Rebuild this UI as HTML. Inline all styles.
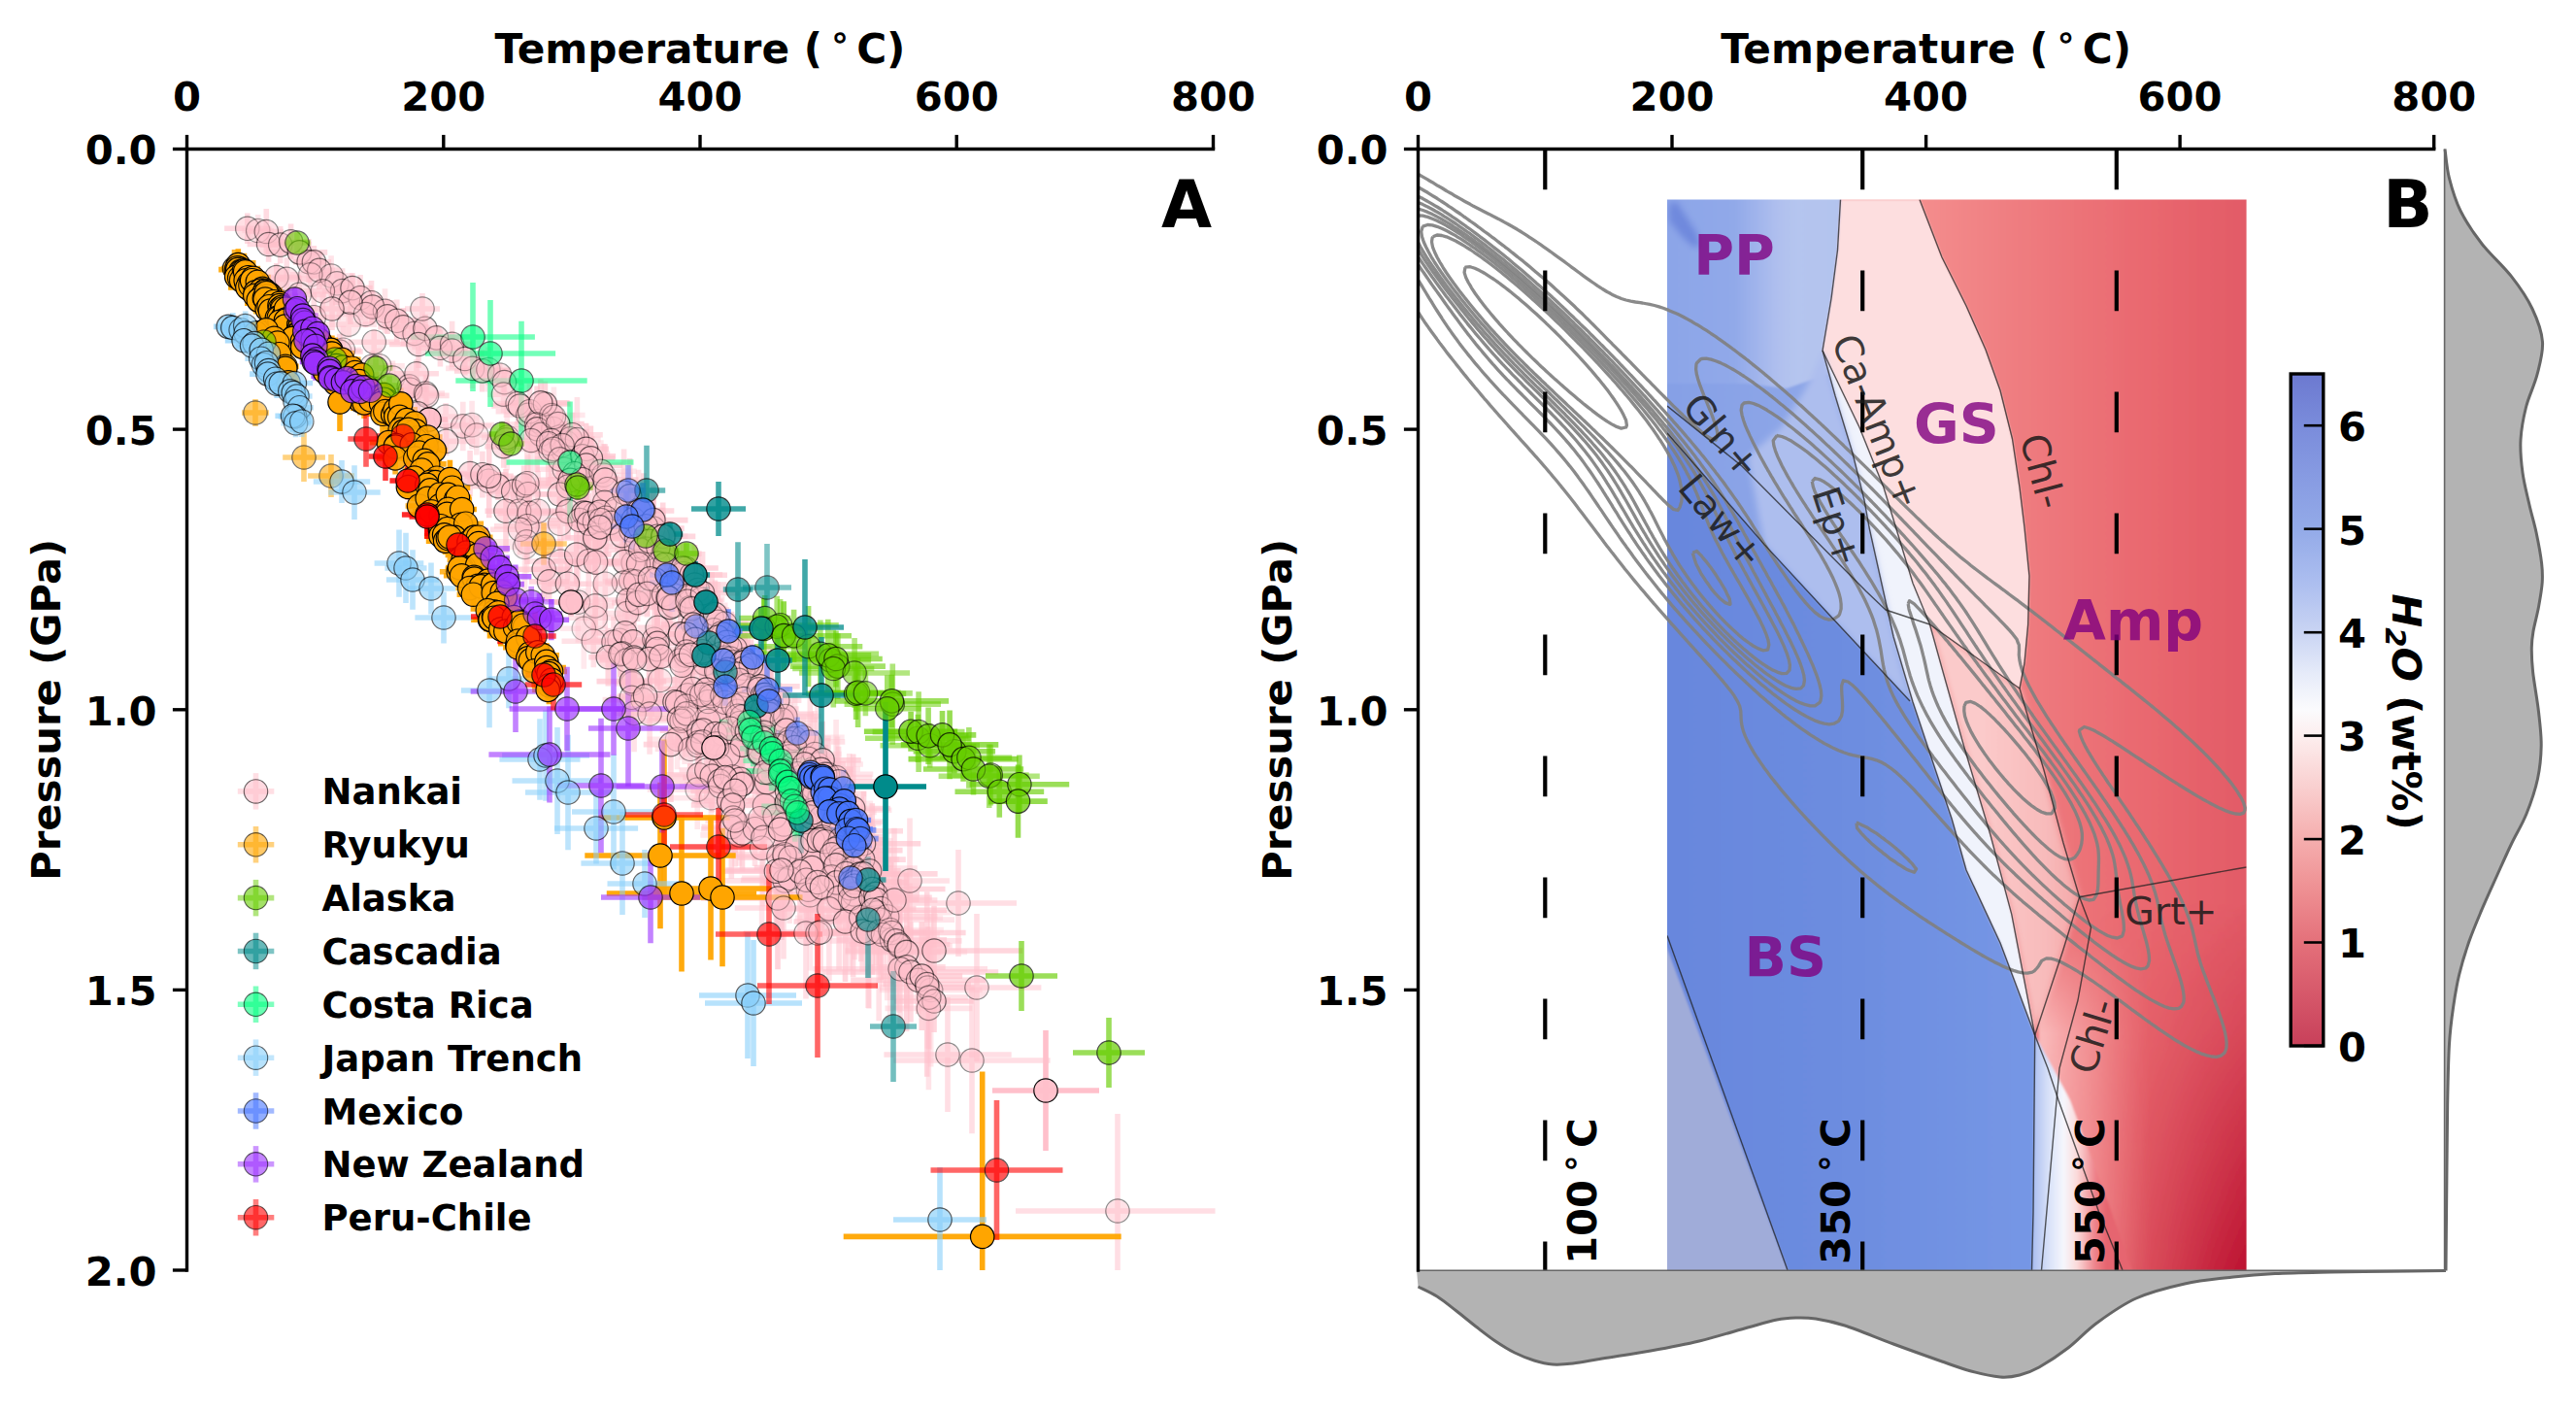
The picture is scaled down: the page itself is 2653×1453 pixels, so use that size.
<!DOCTYPE html>
<html><head><meta charset="utf-8"><title>PT paths</title>
<style>html,body{margin:0;padding:0;background:#fff}svg{display:block}</style></head>
<body>
<svg width="2653" height="1453" viewBox="0 0 2653 1453">
<rect width="2653" height="1453" fill="#fff"/>
<defs><clipPath id="clipA"><rect x="192.5" y="153.5" width="1059" height="1154.5"/></clipPath></defs>
<g clip-path="url(#clipA)">
<g stroke="#ffc0cb" stroke-width="5.6" fill="none">
<path opacity="0.58" d="M231.1 235.3h47.3M254.8 219.4v31.7"/>
<path opacity="0.41" d="M249.3 237.5h32.7M265.7 221v32.9"/>
<path opacity="0.55" d="M256.6 238.5h35.4M274.3 214.9v47.2"/>
<path opacity="0.60" d="M254.6 251.5h44M276.6 233.2v36.6"/>
<path opacity="0.56" d="M267.9 252.1h41.6M288.7 233.1v38.2"/>
<path opacity="0.58" d="M278.6 248.9h42M299.6 230.6v36.5"/>
<path opacity="0.62" d="M279.7 259.9h57.5M308.4 246.1v27.6"/>
<path opacity="0.59" d="M302 269.8h32.1M318.1 248.8v42.1"/>
<path opacity="0.59" d="M305.4 269.9h35.8M323.4 252.9v34.1"/>
<path opacity="0.58" d="M312.6 278.4h32.4M328.8 258.9v39.1"/>
<path opacity="0.45" d="M317.9 284h46.4M341.1 263.2v41.4"/>
<path opacity="0.44" d="M328.2 291.8h37.6M347 275.5v32.7"/>
<path opacity="0.53" d="M331.8 299.6h41.7M352.6 276.2v46.8"/>
<path opacity="0.62" d="M342.2 296.6h41.5M363 281.3v30.5"/>
<path opacity="0.52" d="M348.9 306.7h44.4M371.1 282.9v47.5"/>
<path opacity="0.57" d="M359.2 311.7h46.6M382.5 289v45.5"/>
<path opacity="0.60" d="M359.6 316h48.3M383.7 298.8v34.2"/>
<path opacity="0.42" d="M374.7 320.3h43.5M396.5 297.2v46.1"/>
<path opacity="0.62" d="M377 325.8h44M399 307.5v36.5"/>
<path opacity="0.56" d="M389.2 330.3h39M408.7 308.6v43.3"/>
<path opacity="0.63" d="M389.3 336.8h52.1M415.3 317.2v39.1"/>
<path opacity="0.45" d="M406.4 343.4h41.3M427.1 326.6v33.6"/>
<path opacity="0.61" d="M421.2 338.4h33.4M437.9 323.8v29.1"/>
<path opacity="0.54" d="M421.7 347.9h55.5M449.5 334.6v26.7"/>
<path opacity="0.55" d="M430.7 358.3h45.4M453.4 339.2v38.3"/>
<path opacity="0.51" d="M445.3 354.4h40.6M465.6 330.8v47.1"/>
<path opacity="0.44" d="M440.6 361.1h49.6M465.4 341.5v39.2"/>
<path opacity="0.58" d="M461.9 369.5h33.7M478.8 352.5v33.9"/>
<path opacity="0.43" d="M459.1 379.4h54.8M486.5 358.6v41.5"/>
<path opacity="0.60" d="M467.9 381.9h57.6M496.7 360.3v43.2"/>
<path opacity="0.41" d="M479.6 380.5h46.7M502.9 357.5v46"/>
<path opacity="0.46" d="M498.1 386.1h32.8M514.6 373.9v24.5"/>
<path opacity="0.53" d="M500 393.6h39M519.4 379.4v28.5"/>
<path opacity="0.44" d="M502 406.1h33.1M518.5 387v38.2"/>
<path opacity="0.47" d="M507.6 415.5h51M533.1 403.2v24.5"/>
<path opacity="0.59" d="M506.3 418h58.3M535.5 399.6v36.9"/>
<path opacity="0.45" d="M518.6 427.3h50.4M543.8 407.9v38.7"/>
<path opacity="0.59" d="M530.7 433.6h48.1M554.8 421.1v25"/>
<path opacity="0.41" d="M529.6 436.9h58.9M559 414.7v44.5"/>
<path opacity="0.43" d="M549.1 441.6h41.5M569.9 425.8v31.6"/>
<path opacity="0.47" d="M551.4 449.9h49.5M576.2 428.3v43.1"/>
<path opacity="0.43" d="M555.7 456.1h56.2M583.7 434.6v43.1"/>
<path opacity="0.45" d="M553.5 464.2h53.5M580.2 441.6v45.2"/>
<path opacity="0.54" d="M563.5 475.9h48.1M587.5 456.2v39.3"/>
<path opacity="0.55" d="M578.3 487.3h34.7M595.7 467.3v39.9"/>
<path opacity="0.48" d="M566.1 489.4h55.1M593.6 467.8v43.3"/>
<path opacity="0.58" d="M259.8 285.5h50M284.8 270.9v29.2"/>
<path opacity="0.50" d="M268.7 287.4h53.2M295.3 265.3v44.2"/>
<path opacity="0.41" d="M298.5 282.8h42.6M319.8 264.9v35.8"/>
<path opacity="0.49" d="M280.4 303.4h55.6M308.3 283.8v39.2"/>
<path opacity="0.49" d="M308.8 299.8h47.3M332.4 277.7v44.2"/>
<path opacity="0.49" d="M295.7 326.7h55.3M323.3 301.8v49.7"/>
<path opacity="0.63" d="M343.1 311.4h35.9M361 288.7v45.3"/>
<path opacity="0.59" d="M323.9 318h36.1M342 296v44"/>
<path opacity="0.42" d="M330.2 334.1h57.8M359.1 320.4v27.5"/>
<path opacity="0.44" d="M346.6 323.5h59.7M376.5 309.9v27.3"/>
<path opacity="0.58" d="M325.6 362h48.1M349.7 343.7v36.5"/>
<path opacity="0.45" d="M334.7 360.2h37.3M353.4 335.4v49.6"/>
<path opacity="0.51" d="M358.5 352.2h53.5M385.2 339.3v25.9"/>
<path opacity="0.47" d="M366.6 377.3h32.9M383.1 360.9v32.8"/>
<path opacity="0.42" d="M364.6 376.9h52.2M390.7 358.5v36.7"/>
<path opacity="0.61" d="M401.1 354.5h59.9M431 330v48.9"/>
<path opacity="0.45" d="M385 389.1h38.9M404.5 371.5v35"/>
<path opacity="0.52" d="M403.6 397.9h35.5M421.3 385.5v24.9"/>
<path opacity="0.60" d="M404.8 401.2h35.4M422.5 386.8v28.9"/>
<path opacity="0.56" d="M406.3 384.8h45.6M429 370.2v29.1"/>
<path opacity="0.47" d="M418.7 405.1h39.4M438.4 385.7v38.8"/>
<path opacity="0.53" d="M416.2 407.4h46.5M439.5 386.6v41.6"/>
<path opacity="0.60" d="M408.7 425.8h43.1M430.2 402.7v46.1"/>
<path opacity="0.43" d="M440.6 429h37M459.1 415.1v27.8"/>
<path opacity="0.46" d="M447.1 438.9h59.4M476.8 413.8v50.4"/>
<path opacity="0.52" d="M430.1 454.4h59.2M459.6 439.5v29.8"/>
<path opacity="0.41" d="M463.2 437.6h45.9M486.1 412.8v49.6"/>
<path opacity="0.42" d="M470.4 448h40.8M490.8 427.6v40.8"/>
<path opacity="0.61" d="M502 452.9h38.6M521.3 434.4v37"/>
<path opacity="0.58" d="M457.5 487.6h53.3M484.1 464v47.2"/>
<path opacity="0.56" d="M471 488.7h51.8M496.9 464.8v47.8"/>
<path opacity="0.44" d="M477.1 495.2h52.6M503.4 478.9v32.4"/>
<path opacity="0.61" d="M486.4 500.6h53.2M513 486.3v28.6"/>
<path opacity="0.62" d="M504.4 506h48.7M528.7 489.4v33.2"/>
<path opacity="0.50" d="M510.6 423.7h70.1M545.6 394.8v57.8"/>
<path opacity="0.67" d="M535.1 416h52.6M561.4 392.8v46.3"/>
<path opacity="0.57" d="M499.3 459.6h38.7M518.7 437.4v44.3"/>
<path opacity="0.67" d="M527 414.8h59.6M556.8 390.5v48.7"/>
<path opacity="0.38" d="M496 450.3h52.4M522.2 416.4v67.8"/>
<path opacity="0.48" d="M516.7 437.1h71.6M552.6 418v38.2"/>
<path opacity="0.66" d="M517.3 441.8h71.4M553.1 397.5v88.7"/>
<path opacity="0.36" d="M533.5 427.5h69.1M568 404.5v46"/>
<path opacity="0.68" d="M547.6 436.5h54.1M574.7 418.6v35.8"/>
<path opacity="0.42" d="M539.1 447.4h36.3M557.2 421.7v51.5"/>
<path opacity="0.37" d="M552.1 429.4h36.5M570.4 398.5v61.9"/>
<path opacity="0.47" d="M511 453.5h72M547 416.8v73.3"/>
<path opacity="0.46" d="M533 453.6h69.7M567.8 413.7v79.8"/>
<path opacity="0.56" d="M529.8 456.7h69.9M564.7 412.8v87.8"/>
<path opacity="0.67" d="M478.6 490.3h50.1M503.7 447.3v86"/>
<path opacity="0.64" d="M562.5 451.9h49.9M587.4 433.3v37.2"/>
<path opacity="0.54" d="M558.2 447.7h62.6M589.5 424.7v45.9"/>
<path opacity="0.46" d="M570.3 452.6h48.3M594.4 409.1v87.2"/>
<path opacity="0.46" d="M545.2 464.2h43.9M567.1 446.9v34.6"/>
<path opacity="0.50" d="M541.3 458.5h75.6M579.1 435.9v45.1"/>
<path opacity="0.45" d="M532.5 462.4h74.9M570 446.2v32.4"/>
<path opacity="0.67" d="M565.3 469.9h68.8M599.7 451v37.7"/>
<path opacity="0.55" d="M504.9 499.9h69.4M539.6 479.6v40.6"/>
<path opacity="0.45" d="M552.1 483.3h58.2M581.3 446.5v73.6"/>
<path opacity="0.45" d="M550.9 472.9h51.4M576.6 449.6v46.4"/>
<path opacity="0.65" d="M499.5 526.2h43M521 483.1v86.3"/>
<path opacity="0.51" d="M517.7 497.7h50.4M542.9 460.9v73.6"/>
<path opacity="0.68" d="M579.9 462.3h47.2M603.6 435.8v53"/>
<path opacity="0.67" d="M583.6 471.8h49.7M608.4 438.4v66.7"/>
<path opacity="0.38" d="M520 508.7h47.9M543.9 468.5v80.5"/>
<path opacity="0.63" d="M512.5 528.4h65.3M545.2 488.2v80.4"/>
<path opacity="0.68" d="M566.3 479.1h75M603.8 441.8v74.7"/>
<path opacity="0.42" d="M511.1 526.2h47.1M534.6 494.5v63.3"/>
<path opacity="0.59" d="M572.2 487.7h39.3M591.8 458.5v58.3"/>
<path opacity="0.67" d="M553.8 494.4h67.1M587.3 477.9v33"/>
<path opacity="0.63" d="M553.4 509h45.9M576.3 484.3v49.5"/>
<path opacity="0.46" d="M549.3 501h71.8M585.2 462.9v76.2"/>
<path opacity="0.47" d="M526.8 526.2h54.5M554.1 485.1v82.1"/>
<path opacity="0.51" d="M508.9 541.7h68.2M543 502.2v78.9"/>
<path opacity="0.60" d="M563.9 493.7h71.9M599.8 466.2v55.1"/>
<path opacity="0.53" d="M504.9 545.3h61.6M535.6 519.4v51.9"/>
<path opacity="0.38" d="M591.5 489.2h60.2M621.6 457.1v64.2"/>
<path opacity="0.36" d="M502.7 563.4h75.7M540.5 518.4v90"/>
<path opacity="0.39" d="M582 485.3h73.8M618.9 453.3v63.9"/>
<path opacity="0.59" d="M550.5 526.6h68.8M584.9 497.6v58"/>
<path opacity="0.36" d="M507.9 557.9h69.1M542.4 525.8v64.3"/>
<path opacity="0.66" d="M588.6 494h68.9M623 457.2v73.6"/>
<path opacity="0.65" d="M577.6 528.1h46.8M601 488.6v79.1"/>
<path opacity="0.46" d="M551.7 539.3h50.2M576.8 511v56.6"/>
<path opacity="0.46" d="M594.4 529h36.2M612.5 506v45.9"/>
<path opacity="0.49" d="M605.4 503.7h40.3M625.5 464.7v77.9"/>
<path opacity="0.47" d="M593.3 517.4h58.7M622.7 492.9v49.1"/>
<path opacity="0.55" d="M564 535.5h66.1M597.1 505.4v60.2"/>
<path opacity="0.65" d="M577.4 528.6h52.9M603.8 495.9v65.4"/>
<path opacity="0.58" d="M583.3 539.1h46.7M606.6 507.5v63.1"/>
<path opacity="0.52" d="M622.9 507.3h39.5M642.6 462.4v89.7"/>
<path opacity="0.63" d="M625.7 510.8h45.8M648.6 471.9v77.6"/>
<path opacity="0.38" d="M581.7 537h61.2M612.4 493.5v87"/>
<path opacity="0.66" d="M589.2 527.2h57.1M617.8 488.9v76.6"/>
<path opacity="0.48" d="M603.8 523.7h61.7M634.7 489.6v68.1"/>
<path opacity="0.66" d="M530.8 586.3h58.9M560.2 553.7v65.3"/>
<path opacity="0.66" d="M578.2 553.9h69.1M612.8 515.8v76.2"/>
<path opacity="0.50" d="M604.6 533.2h38.6M623.9 494.1v78.2"/>
<path opacity="0.51" d="M595.7 538.4h66.1M628.7 513.5v49.8"/>
<path opacity="0.45" d="M584.4 535.6h69M618.8 518.6v34.1"/>
<path opacity="0.44" d="M629.9 525.4h55.5M657.6 483.8v83.1"/>
<path opacity="0.45" d="M543.1 578h68.9M577.5 554.7v46.7"/>
<path opacity="0.65" d="M588.6 542.9h58.2M617.7 507.3v71.2"/>
<path opacity="0.60" d="M623.1 526h71.2M658.7 502.5v47"/>
<path opacity="0.61" d="M609.9 551.6h61.4M640.6 524v55.2"/>
<path opacity="0.66" d="M557.7 571h71.9M593.7 540.6v60.8"/>
<path opacity="0.61" d="M545 598.9h41.1M565.6 577.9v42"/>
<path opacity="0.52" d="M628.3 534.8h48.2M652.4 501.3v67.1"/>
<path opacity="0.60" d="M641.9 525.9h41.8M662.9 487.2v77.3"/>
<path opacity="0.62" d="M563.5 601.2h41.8M584.4 577.4v47.6"/>
<path opacity="0.52" d="M570 577.7h72.5M606.3 535.6v84.2"/>
<path opacity="0.41" d="M624.5 546h50.7M649.9 516.6v58.7"/>
<path opacity="0.40" d="M627.7 554.2h55.8M655.6 531.3v45.9"/>
<path opacity="0.51" d="M633.8 543.3h51.2M659.4 525.3v35.8"/>
<path opacity="0.68" d="M640.9 544.1h63.8M672.8 508.5v71.1"/>
<path opacity="0.65" d="M637.1 535.6h71.4M672.9 500.5v70"/>
<path opacity="0.44" d="M638.3 541.8h53.8M665.2 501.9v79.9"/>
<path opacity="0.55" d="M585.1 579.1h57.1M613.6 533.7v90.8"/>
<path opacity="0.45" d="M624 579.5h56.3M652.2 539.9v79.2"/>
<path opacity="0.43" d="M620.9 562.5h69.2M655.5 545.9v33.1"/>
<path opacity="0.67" d="M621.3 578.6h43.1M642.9 554.9v47.4"/>
<path opacity="0.54" d="M658.6 552.2h37M677 527.2v49.9"/>
<path opacity="0.48" d="M633 565h64.1M665.1 525.8v78.4"/>
<path opacity="0.39" d="M573 620.1h44.8M595.4 578.6v83.1"/>
<path opacity="0.51" d="M623.1 600h38.6M642.4 577v45.9"/>
<path opacity="0.54" d="M622.8 566.3h73.7M659.7 528.5v75.7"/>
<path opacity="0.56" d="M640.3 557.4h56.8M668.7 520.6v73.6"/>
<path opacity="0.41" d="M658.9 552.1h49.5M683.6 533.3v37.6"/>
<path opacity="0.62" d="M649 552.4h67.3M682.7 517.4v70.1"/>
<path opacity="0.48" d="M664.3 569.9h37.8M683.2 526.8v86"/>
<path opacity="0.53" d="M649.7 570.1h73M686.2 536.3v67.7"/>
<path opacity="0.58" d="M623.1 580.8h68.7M657.5 546.1v69.5"/>
<path opacity="0.47" d="M656.8 563.8h42.3M677.9 529.6v68.3"/>
<path opacity="0.51" d="M593.5 623.9h39M613 603.9v40"/>
<path opacity="0.39" d="M663.7 581.9h46.5M687 542.9v77.9"/>
<path opacity="0.45" d="M605.1 601.2h36.6M623.3 555.3v91.8"/>
<path opacity="0.42" d="M585.1 636.3h56.4M613.3 614v44.6"/>
<path opacity="0.36" d="M623.6 598h52.1M649.7 558.3v79.4"/>
<path opacity="0.54" d="M612.3 618h69.5M647.1 572.3v91.4"/>
<path opacity="0.41" d="M652.8 580h50.4M678 557v46"/>
<path opacity="0.35" d="M576.9 647.3h48.9M601.3 605.7v83.1"/>
<path opacity="0.35" d="M620.8 598.8h67.4M654.5 562.8v72"/>
<path opacity="0.58" d="M665.5 581.2h38.8M684.9 543.2v76.1"/>
<path opacity="0.42" d="M621.2 631.6h48.5M645.5 589.8v83.7"/>
<path opacity="0.57" d="M630.1 620.6h53.1M656.6 601.2v38.9"/>
<path opacity="0.61" d="M638 612.4h39.5M657.8 591v42.8"/>
<path opacity="0.60" d="M647.3 597.2h56M675.3 561.3v71.7"/>
<path opacity="0.59" d="M639.2 595.9h60.3M669.4 574v43.9"/>
<path opacity="0.50" d="M646.2 611.4h40.6M666.5 587.3v48.2"/>
<path opacity="0.57" d="M685.9 585.3h40.6M706.2 566.2v38.4"/>
<path opacity="0.48" d="M578.5 660.2h65.7M611.3 633.1v54.2"/>
<path opacity="0.55" d="M681.4 590.7h44.3M703.6 559v63.3"/>
<path opacity="0.66" d="M666.5 585h73.3M703.2 567.8v34.4"/>
<path opacity="0.60" d="M656.6 601.7h75.6M694.4 575.3v52.8"/>
<path opacity="0.44" d="M649.1 612.2h69M683.6 576.6v71.1"/>
<path opacity="0.38" d="M607.7 659.3h60.9M638.1 616.9v84.6"/>
<path opacity="0.64" d="M662.3 625.4h55.2M689.9 608.8v33.4"/>
<path opacity="0.60" d="M681.9 592.3h67.1M715.4 574.9v34.8"/>
<path opacity="0.53" d="M680.4 591.8h63.7M712.3 572v39.6"/>
<path opacity="0.52" d="M600.2 661.1h63.6M632 635v52.1"/>
<path opacity="0.52" d="M650.3 615.6h75M687.9 580.5v70.1"/>
<path opacity="0.64" d="M669.4 615.7h38.6M688.7 596.1v39.3"/>
<path opacity="0.54" d="M682.7 602h65.7M715.5 560.9v82.1"/>
<path opacity="0.60" d="M614.3 651.8h59M643.8 619.9v63.8"/>
<path opacity="0.51" d="M685.6 614.8h49.2M710.2 583.9v61.8"/>
<path opacity="0.35" d="M662.5 623.9h62.5M693.7 601.4v45"/>
<path opacity="0.64" d="M632.1 660.8h39.5M651.9 639.4v42.8"/>
<path opacity="0.50" d="M686.3 607.6h64.7M718.6 569.1v77"/>
<path opacity="0.64" d="M606.3 676.7h40.1M626.3 646.7v59.9"/>
<path opacity="0.47" d="M679.9 613.5h56.4M708.1 578.6v69.9"/>
<path opacity="0.51" d="M619.8 672.8h42M640.8 638v69.6"/>
<path opacity="0.59" d="M614.1 673.6h49.8M639 649.8v47.5"/>
<path opacity="0.43" d="M697.6 617.1h48.7M721.9 583.8v66.6"/>
<path opacity="0.51" d="M677.5 625.8h66.1M710.6 598.6v54.5"/>
<path opacity="0.60" d="M671.5 619.2h73.1M708 581.7v75.1"/>
<path opacity="0.48" d="M649.2 658.2h49.6M673.9 617v82.4"/>
<path opacity="0.57" d="M685.8 610.8h75.5M723.6 568v85.8"/>
<path opacity="0.60" d="M677.6 626.9h69.3M712.2 594.6v64.6"/>
<path opacity="0.62" d="M632.4 677h41M652.9 631.3v91.3"/>
<path opacity="0.54" d="M656.4 646.4h41.7M677.2 623.1v46.6"/>
<path opacity="0.68" d="M680.8 643h66.5M714 622.6v40.9"/>
<path opacity="0.60" d="M708.2 635.1h49.8M733.1 589.2v91.7"/>
<path opacity="0.38" d="M617.4 680h55.4M645.1 653.1v53.8"/>
<path opacity="0.61" d="M716.7 632.5h39.5M736.5 597.6v69.8"/>
<path opacity="0.67" d="M664.5 652.9h72.3M700.6 625.9v53.9"/>
<path opacity="0.66" d="M653.2 662.4h47.9M677.1 618.2v88.4"/>
<path opacity="0.59" d="M686.2 653.1h42.2M707.3 611.3v83.6"/>
<path opacity="0.53" d="M644.5 668.6h64.1M676.6 627.4v82.4"/>
<path opacity="0.64" d="M640.4 678.6h56.3M668.5 651.5v54"/>
<path opacity="0.61" d="M617.6 679h72M653.7 658.1v41.6"/>
<path opacity="0.41" d="M723.1 642.2h47M746.7 620.6v43"/>
<path opacity="0.43" d="M705.8 648.9h58.9M735.3 624.5v48.8"/>
<path opacity="0.61" d="M696 658.4h39.9M716 632.6v51.5"/>
<path opacity="0.55" d="M662.4 676h36.9M680.8 645.5v61"/>
<path opacity="0.66" d="M724 652.1h38M743 627.3v49.6"/>
<path opacity="0.40" d="M701.4 640.4h75.8M739.3 598.9v83"/>
<path opacity="0.40" d="M711.7 653.3h66.6M745 623.8v59.1"/>
<path opacity="0.65" d="M711.7 656.2h55.2M739.3 612.5v87.4"/>
<path opacity="0.66" d="M680.4 675h51.7M706.3 657.1v35.8"/>
<path opacity="0.42" d="M662.9 680h75.5M700.6 648.7v62.7"/>
<path opacity="0.51" d="M678.1 671.1h57.8M707 634.2v73.8"/>
<path opacity="0.45" d="M632.9 704h36.8M651.3 684.6v38.8"/>
<path opacity="0.60" d="M702.8 665.7h74.1M739.9 649.5v32.5"/>
<path opacity="0.55" d="M668.5 685.2h67.6M702.3 657v56.3"/>
<path opacity="0.59" d="M725.9 661.3h44.8M748.3 625.3v72.1"/>
<path opacity="0.68" d="M614.5 701.6h71.8M650.4 672v59.3"/>
<path opacity="0.67" d="M698.9 675.5h63.3M730.6 651.3v48.5"/>
<path opacity="0.44" d="M695.4 683.4h61.8M726.3 640.5v85.7"/>
<path opacity="0.53" d="M719.5 667.8h75.3M757.1 648.6v38.3"/>
<path opacity="0.61" d="M731.6 666.7h40.4M751.8 645v43.4"/>
<path opacity="0.41" d="M704 670.7h38.6M723.3 643.2v55"/>
<path opacity="0.46" d="M620.6 720.6h82.8M662 700.3v40.6"/>
<path opacity="0.35" d="M710 673.3h64.1M742.1 627.5v91.5"/>
<path opacity="0.60" d="M680.3 674.3h62.6M711.6 635.9v76.7"/>
<path opacity="0.37" d="M714.4 677.2h64.6M746.7 659v36.3"/>
<path opacity="0.44" d="M656.1 700.5h47.2M679.7 668.1v64.7"/>
<path opacity="0.46" d="M627.7 718.3h45.5M650.4 687.4v61.7"/>
<path opacity="0.61" d="M636.1 716.8h57M664.6 700.4v32.8"/>
<path opacity="0.46" d="M702.1 692.4h74.5M739.4 656v72.9"/>
<path opacity="0.67" d="M709 680.3h70.2M744.1 652.9v54.8"/>
<path opacity="0.37" d="M699.9 696.4h47.9M723.9 650.8v91.1"/>
<path opacity="0.49" d="M673.6 715.8h68.9M708.1 696.8v38.1"/>
<path opacity="0.60" d="M747.4 684.2h44.9M769.9 665.1v38.2"/>
<path opacity="0.46" d="M632.3 734.4h41.6M653.1 694.5v79.7"/>
<path opacity="0.59" d="M709.6 691.1h56.3M737.8 655.6v71"/>
<path opacity="0.37" d="M717.7 678.1h68.8M752.1 654.3v47.8"/>
<path opacity="0.35" d="M727.6 681.8h54.7M754.9 660.7v42.2"/>
<path opacity="0.49" d="M637.2 735h63.9M669.1 693.2v83.6"/>
<path opacity="0.68" d="M659.5 722.7h71M695 696.7v52.1"/>
<path opacity="0.45" d="M735.7 683.3h69.1M770.2 651.4v63.9"/>
<path opacity="0.56" d="M694.3 717.1h48.7M718.6 701.5v31.2"/>
<path opacity="0.59" d="M677.7 709.5h70.7M713 680.1v58.9"/>
<path opacity="0.57" d="M660.2 723.6h74.7M697.6 673.2v100.8"/>
<path opacity="0.48" d="M748.4 679.4h37.7M767.3 655.4v48.1"/>
<path opacity="0.65" d="M740.8 682.6h46.1M763.8 661.3v42.6"/>
<path opacity="0.61" d="M716.4 714h31.4M732.1 695.5v37.2"/>
<path opacity="0.50" d="M729.9 681.3h74.7M767.3 642.4v77.8"/>
<path opacity="0.68" d="M704.7 710.1h45.7M727.5 691.7v36.8"/>
<path opacity="0.59" d="M668.1 739.9h62.8M699.5 715.6v48.6"/>
<path opacity="0.64" d="M731.3 689.4h36.8M749.7 664.6v49.7"/>
<path opacity="0.60" d="M729.8 688.2h71.6M765.6 651.7v73"/>
<path opacity="0.66" d="M751.6 685.1h43.8M773.5 658.4v53.3"/>
<path opacity="0.61" d="M720.6 694.1h75.5M758.3 664.9v58.6"/>
<path opacity="0.45" d="M689.1 722.5h80.1M729.2 678.4v88.3"/>
<path opacity="0.44" d="M684.9 727.1h43.2M706.6 692.2v69.7"/>
<path opacity="0.40" d="M674.8 740.2h60.5M705.1 693.3v93.8"/>
<path opacity="0.41" d="M660 742.3h84.1M702.1 701.9v80.7"/>
<path opacity="0.49" d="M701.4 716.8h62.1M732.4 666.4v100.7"/>
<path opacity="0.48" d="M693 715.3h59.7M722.8 679.5v71.6"/>
<path opacity="0.47" d="M722.2 700.3h77.6M761 662.3v76.1"/>
<path opacity="0.42" d="M722.2 723.3h48.7M746.6 693.5v59.6"/>
<path opacity="0.38" d="M666.6 761.2h61.8M697.5 730.2v62"/>
<path opacity="0.39" d="M718.5 716.7h51M744 680.7v72.1"/>
<path opacity="0.62" d="M662.7 766.6h56.4M690.9 707.3v118.6"/>
<path opacity="0.40" d="M698.2 742.3h62.6M729.5 698.6v87.3"/>
<path opacity="0.42" d="M665 734.9h84.1M707 690.7v88.5"/>
<path opacity="0.48" d="M733.5 705.6h71.6M769.3 659v93.4"/>
<path opacity="0.53" d="M687.1 753.1h65.4M719.8 718v70.3"/>
<path opacity="0.60" d="M679.7 752.1h89M724.2 733.8v36.6"/>
<path opacity="0.44" d="M729.9 732.4h59.2M759.5 696v72.9"/>
<path opacity="0.41" d="M737.5 725.6h53.5M764.3 694.9v61.3"/>
<path opacity="0.59" d="M735.5 719.6h60.2M765.6 691.2v56.9"/>
<path opacity="0.57" d="M742 706.8h81.7M782.9 660.6v92.4"/>
<path opacity="0.47" d="M674.7 771.3h72.6M711 741.4v59.9"/>
<path opacity="0.36" d="M729.3 726.1h51.9M755.2 697.3v57.6"/>
<path opacity="0.56" d="M749.5 709.8h63.9M781.5 668.8v82.2"/>
<path opacity="0.64" d="M704.6 755.5h64.6M736.9 729v52.9"/>
<path opacity="0.64" d="M740.8 744.5h42.3M762 687.3v114.3"/>
<path opacity="0.43" d="M685 764.6h68.9M719.4 709.3v110.7"/>
<path opacity="0.44" d="M689.2 767.6h58.9M718.7 716.2v102.9"/>
<path opacity="0.56" d="M756.1 715.9h58.9M785.5 681.3v69.3"/>
<path opacity="0.67" d="M712.1 765.8h51.2M737.7 712.4v106.7"/>
<path opacity="0.65" d="M767.7 715.3h40.2M787.8 674.6v81.5"/>
<path opacity="0.58" d="M749.1 730.1h73.5M785.9 705.2v49.7"/>
<path opacity="0.41" d="M691.8 763.9h63.8M723.7 747.6v32.7"/>
<path opacity="0.52" d="M742.7 737.8h43.7M764.5 708v59.7"/>
<path opacity="0.65" d="M705.3 755.7h78.7M744.6 712.9v85.5"/>
<path opacity="0.56" d="M699 769.8h79.2M738.6 738v63.6"/>
<path opacity="0.42" d="M736 751.4h58.6M765.3 717.1v68.5"/>
<path opacity="0.41" d="M721.6 737.2h77.2M760.2 706.3v61.7"/>
<path opacity="0.54" d="M720.8 750.2h62.1M751.9 695.7v109"/>
<path opacity="0.50" d="M776 721.1h49.4M800.8 682.9v76.4"/>
<path opacity="0.63" d="M735.3 733.7h85.3M777.9 699.5v68.4"/>
<path opacity="0.51" d="M766.4 718.7h46.9M789.9 680.5v76.4"/>
<path opacity="0.49" d="M680.8 797.8h78.2M719.9 767.1v61.4"/>
<path opacity="0.58" d="M776.4 732.7h38.4M795.6 714.6v36.1"/>
<path opacity="0.62" d="M750 735.4h88.3M794.2 690v90.7"/>
<path opacity="0.67" d="M771.8 731.3h39.9M791.8 696.1v70.5"/>
<path opacity="0.65" d="M739.7 767.1h49.6M764.5 745.7v42.7"/>
<path opacity="0.68" d="M745.5 742.8h76.5M783.8 721.1v43.5"/>
<path opacity="0.51" d="M707.8 788.9h69.1M742.3 757.3v63.3"/>
<path opacity="0.55" d="M745.2 752.4h48.8M769.5 729.2v46.3"/>
<path opacity="0.35" d="M763.9 735.6h56.7M792.3 688.8v93.6"/>
<path opacity="0.51" d="M751.8 758.4h49.4M776.5 719.4v78.1"/>
<path opacity="0.50" d="M699.5 793h56.6M727.8 758.9v68.2"/>
<path opacity="0.44" d="M768.7 741.3h73.5M805.4 727v28.5"/>
<path opacity="0.59" d="M693.6 799h79.4M733.3 761.4v75.1"/>
<path opacity="0.46" d="M721.7 777.8h56M749.7 736.3v83.1"/>
<path opacity="0.39" d="M666.7 813.1h102.9M718.2 772.1v81.9"/>
<path opacity="0.48" d="M756.9 754.3h60.8M787.3 736.3v35.9"/>
<path opacity="0.39" d="M728.9 769.8h106.8M782.3 725.4v88.7"/>
<path opacity="0.41" d="M771.4 737.5h74.7M808.8 711.1v52.9"/>
<path opacity="0.66" d="M746.8 760h76.6M785.1 705.3v109.4"/>
<path opacity="0.37" d="M732.3 799.8h44M754.3 765.6v68.3"/>
<path opacity="0.59" d="M790.6 761h44.6M812.9 737v48"/>
<path opacity="0.59" d="M716.4 802.3h92.1M762.5 750.1v104.4"/>
<path opacity="0.37" d="M750.5 773.5h61M781 721.3v104.3"/>
<path opacity="0.43" d="M755.8 775.6h51.9M781.8 729.9v91.2"/>
<path opacity="0.44" d="M772.1 760.4h83.7M814 723.5v73.8"/>
<path opacity="0.58" d="M742.2 775.1h81.2M782.8 719.4v111.5"/>
<path opacity="0.59" d="M684.7 804.4h112.9M741.1 769.4v70"/>
<path opacity="0.36" d="M688 821.7h88.7M732.3 768.3v106.8"/>
<path opacity="0.51" d="M746.9 769.9h106.4M800.1 738.6v62.7"/>
<path opacity="0.46" d="M699.7 809.5h84.5M741.9 775.8v67.3"/>
<path opacity="0.63" d="M703.2 800.6h87.2M746.8 778.3v44.6"/>
<path opacity="0.67" d="M792.5 752h34.3M809.7 732.1v39.7"/>
<path opacity="0.43" d="M729 807.1h71.3M764.6 784.4v45.6"/>
<path opacity="0.43" d="M764.4 767.8h72.5M800.6 725.2v85.1"/>
<path opacity="0.46" d="M776.5 764.4h71.1M812.1 728.1v72.6"/>
<path opacity="0.57" d="M756.5 783.8h74.8M793.9 732.1v103.5"/>
<path opacity="0.60" d="M712.6 824.6h76.2M750.7 784.5v80.1"/>
<path opacity="0.64" d="M705.4 807.7h116.9M763.9 768.5v78.6"/>
<path opacity="0.57" d="M789.3 776.2h44.3M811.4 720.1v112.2"/>
<path opacity="0.37" d="M790.9 760.6h56.1M819 738.8v43.6"/>
<path opacity="0.35" d="M785.1 759.3h84.6M827.4 738.2v42.2"/>
<path opacity="0.66" d="M711.4 814.4h91.2M757 750.5v127.8"/>
<path opacity="0.55" d="M759.8 805.6h59.6M789.6 783.5v44.1"/>
<path opacity="0.49" d="M759.3 795.9h65.8M792.3 763.4v65"/>
<path opacity="0.54" d="M759 795.4h58M788 767.9v55.2"/>
<path opacity="0.46" d="M768.1 778.9h90.7M813.4 726.6v104.5"/>
<path opacity="0.48" d="M798.4 764h71.9M834.3 713.5v101"/>
<path opacity="0.38" d="M795.4 786.7h44.6M817.7 743.5v86.3"/>
<path opacity="0.43" d="M781.2 769.6h74.7M818.6 713.7v111.8"/>
<path opacity="0.61" d="M711.8 829h85.4M754.5 788.2v81.4"/>
<path opacity="0.58" d="M757.6 793.3h95.6M805.4 740.3v105.9"/>
<path opacity="0.38" d="M795.3 787h93.6M842.1 726.4v121.2"/>
<path opacity="0.36" d="M784.1 801.9h54.6M811.4 758.5v86.9"/>
<path opacity="0.42" d="M721 842.1h68.3M755.1 802.9v78.4"/>
<path opacity="0.54" d="M722.6 851.6h61.4M753.3 798.6v106.1"/>
<path opacity="0.43" d="M794.3 794.7h83.6M836.1 766.1v57.3"/>
<path opacity="0.56" d="M809.9 781.3h45.4M832.6 744.8v73"/>
<path opacity="0.36" d="M811.6 776.5h55.1M839.2 732v88.9"/>
<path opacity="0.36" d="M788.7 792h97.2M837.3 734.8v114.4"/>
<path opacity="0.45" d="M750.6 829.5h73.7M787.5 779.6v99.7"/>
<path opacity="0.65" d="M807.4 782.8h79.4M847.1 742.7v80.2"/>
<path opacity="0.47" d="M790.3 796.7h62.1M821.3 755.4v82.6"/>
<path opacity="0.61" d="M780.2 826.6h60.1M810.2 782v89.2"/>
<path opacity="0.59" d="M770.5 824.2h85.1M813 790v68.4"/>
<path opacity="0.38" d="M721.3 859.9h80.2M761.4 828.1v63.7"/>
<path opacity="0.68" d="M812.4 792.3h66.3M845.6 744.2v96.2"/>
<path opacity="0.55" d="M786.5 786.9h84.3M828.6 744.8v84.4"/>
<path opacity="0.37" d="M810.4 798.6h62.4M841.6 764v69.3"/>
<path opacity="0.63" d="M729.3 858h70.4M764.5 818.5v79"/>
<path opacity="0.49" d="M722.1 853.7h110.9M777.5 815.4v76.7"/>
<path opacity="0.45" d="M803.1 815.8h48.5M827.3 771v89.5"/>
<path opacity="0.58" d="M799.2 815.3h42.2M820.3 744.8v141"/>
<path opacity="0.60" d="M761.3 814.6h98.4M810.5 773.3v82.6"/>
<path opacity="0.41" d="M805.6 797.4h93.7M852.4 760.1v74.5"/>
<path opacity="0.37" d="M753.9 825.3h113.3M810.6 780v90.6"/>
<path opacity="0.64" d="M737.2 840.6h121.7M798.1 820.8v39.4"/>
<path opacity="0.53" d="M820.6 797.2h58M849.6 766.5v61.4"/>
<path opacity="0.57" d="M810.5 810.9h54.2M837.6 768.3v85.1"/>
<path opacity="0.43" d="M733.1 842.7h99.7M782.9 815.9v53.7"/>
<path opacity="0.54" d="M804.5 820.9h79.4M844.3 790.8v60"/>
<path opacity="0.35" d="M795.2 822.5h80.1M835.3 784.5v75.9"/>
<path opacity="0.41" d="M734.4 873.2h100.3M784.6 792.8v160.7"/>
<path opacity="0.43" d="M774.9 836.4h127.8M838.8 775v122.8"/>
<path opacity="0.55" d="M757.3 849h100.2M807.4 795.3v107.6"/>
<path opacity="0.48" d="M796.4 813.3h77.7M835.2 773.8v78.9"/>
<path opacity="0.40" d="M824.1 800.5h74M861.1 741.1v118.8"/>
<path opacity="0.49" d="M755.4 862.4h61M785.9 791.5v141.8"/>
<path opacity="0.49" d="M823.9 804.9h79.5M863.6 768.7v72.3"/>
<path opacity="0.38" d="M804.6 834.9h61M835.1 792.4v85"/>
<path opacity="0.48" d="M785.2 817.4h107M838.7 792.6v49.6"/>
<path opacity="0.36" d="M785.8 840.7h97.8M834.7 777.5v126.5"/>
<path opacity="0.69" d="M755.7 854h95.6M803.5 796.9v114.3"/>
<path opacity="0.35" d="M809.9 827.3h89.2M854.6 783.8v86.9"/>
<path opacity="0.44" d="M760.5 846.4h138.8M829.9 797.1v98.5"/>
<path opacity="0.46" d="M808.4 841.6h54.7M835.8 787.9v107.5"/>
<path opacity="0.39" d="M806.6 834.2h111.9M862.5 758.5v151.4"/>
<path opacity="0.56" d="M830.4 823h59.6M860.2 788.1v69.8"/>
<path opacity="0.51" d="M795.2 842.1h100.8M845.6 804.6v75"/>
<path opacity="0.68" d="M797.2 836.8h79.9M837.1 789.7v94.1"/>
<path opacity="0.60" d="M840.3 832.5h76.7M878.7 776.5v112"/>
<path opacity="0.66" d="M774.4 881.8h67.5M808.1 837.5v88.8"/>
<path opacity="0.35" d="M824 863h53.7M850.8 807v111.9"/>
<path opacity="0.58" d="M785 861.9h124.3M847.2 819.9v83.9"/>
<path opacity="0.53" d="M752.9 882h98M801.9 844.5v74.9"/>
<path opacity="0.44" d="M805 846h107M858.5 812.2v67.6"/>
<path opacity="0.53" d="M853.8 852h48.3M878 802.3v99.4"/>
<path opacity="0.69" d="M764.6 872.2h112M820.6 832.6v79.1"/>
<path opacity="0.42" d="M736.1 879.9h143.9M808 851.7v56.4"/>
<path opacity="0.60" d="M801.3 865.5h71.5M837 824.5v82.1"/>
<path opacity="0.35" d="M823.9 864.4h47.4M847.6 816.5v95.7"/>
<path opacity="0.65" d="M803.7 864.6h79.5M843.5 829.6v69.9"/>
<path opacity="0.49" d="M759.7 883.2h108.7M814 832.9v100.7"/>
<path opacity="0.42" d="M841.4 847.8h66.4M874.7 776v143.7"/>
<path opacity="0.66" d="M816 866.7h67.3M849.6 829.1v75.3"/>
<path opacity="0.46" d="M733.6 906.9h148.9M808.1 868v77.8"/>
<path opacity="0.64" d="M742.9 897.2h113M799.4 837v120.4"/>
<path opacity="0.42" d="M820.3 864.7h89.9M865.3 808v113.4"/>
<path opacity="0.52" d="M827.5 872.6h71.4M863.2 836.2v72.7"/>
<path opacity="0.44" d="M849.4 867.6h59.2M878.9 829.7v75.6"/>
<path opacity="0.57" d="M832.8 855.8h97.2M881.4 820v71.5"/>
<path opacity="0.48" d="M814 874.5h91M859.5 823.4v102.2"/>
<path opacity="0.64" d="M830.8 868.7h117.4M889.5 815.1v107.3"/>
<path opacity="0.42" d="M764.1 904.3h98M813.1 857.8v93.1"/>
<path opacity="0.62" d="M776.7 893.5h118.8M836.1 815.3v156.5"/>
<path opacity="0.36" d="M830.2 885.9h87.5M874 815.2v141.4"/>
<path opacity="0.63" d="M795.6 897.6h56.9M824 828.3v138.7"/>
<path opacity="0.65" d="M834.1 875.6h95.5M881.9 827.1v96.9"/>
<path opacity="0.35" d="M826.4 881.2h79M865.9 830.6v101.2"/>
<path opacity="0.58" d="M844.7 885.1h88.1M888.7 847.3v75.6"/>
<path opacity="0.58" d="M801.7 879.8h109.7M856.6 831.3v97"/>
<path opacity="0.41" d="M807.5 885h118.7M866.9 848.8v72.5"/>
<path opacity="0.67" d="M801.4 890.8h119.1M860.9 841.8v97.9"/>
<path opacity="0.35" d="M805.3 902.8h102.4M856.5 872.3v60.9"/>
<path opacity="0.41" d="M784.9 916.2h95M832.4 875.5v81.5"/>
<path opacity="0.68" d="M787 908.9h148.8M861.4 873.3v71.1"/>
<path opacity="0.51" d="M762.9 906.2h135.2M830.5 838.2v136.1"/>
<path opacity="0.36" d="M804 921.7h60.8M834.4 843.9v155.6"/>
<path opacity="0.51" d="M839.3 894h80.7M879.6 835.4v117.2"/>
<path opacity="0.44" d="M811.3 894.1h133.4M878 855.7v76.8"/>
<path opacity="0.35" d="M832.6 901.3h102.2M883.7 828.7v145"/>
<path opacity="0.53" d="M831.3 899.5h80.1M871.4 852.7v93.6"/>
<path opacity="0.62" d="M786.4 908.5h110.6M841.8 872v73"/>
<path opacity="0.67" d="M844 900h83M885.5 848.2v103.5"/>
<path opacity="0.63" d="M792.6 913.9h107.7M846.5 865.1v97.5"/>
<path opacity="0.54" d="M863.4 896.9h64.2M895.6 838.4v117"/>
<path opacity="0.51" d="M825.1 908h103.4M876.8 877.8v60.4"/>
<path opacity="0.40" d="M839.2 903.8h87M882.6 866.2v75.3"/>
<path opacity="0.60" d="M812.2 920.9h134.7M879.6 882.1v77.6"/>
<path opacity="0.54" d="M799.3 924.4h129.6M864.1 850.3v148.2"/>
<path opacity="0.63" d="M847.8 908.8h65M880.3 853.8v109.8"/>
<path opacity="0.47" d="M796.4 935.9h115.1M853.9 861.5v148.8"/>
<path opacity="0.61" d="M812.4 899.9h153.2M889 854.4v91"/>
<path opacity="0.62" d="M829.4 914.8h91.8M875.3 871.6v86.4"/>
<path opacity="0.58" d="M824 928.8h109.1M878.6 851.3v154.9"/>
<path opacity="0.41" d="M836.2 925.5h78.9M875.6 851.3v148.3"/>
<path opacity="0.52" d="M811.7 912.2h136.6M880 836.3v151.9"/>
<path opacity="0.64" d="M817.5 949h106M870.5 887v124"/>
<path opacity="0.63" d="M822.9 915.5h150.6M898.3 827.2v176.6"/>
<path opacity="0.60" d="M834.1 924.4h125.7M897 871.3v106.2"/>
<path opacity="0.51" d="M863.6 920.5h76.5M901.8 883.5v73.9"/>
<path opacity="0.52" d="M847.6 944.7h78.2M886.7 899.2v91.1"/>
<path opacity="0.64" d="M858.2 926.4h88.3M902.4 859.5v133.9"/>
<path opacity="0.59" d="M870.9 935.6h72.6M907.2 862.3v146.7"/>
<path opacity="0.35" d="M819.1 945.3h152M895.1 851.9v186.8"/>
<path opacity="0.39" d="M826.4 939.8h154.8M903.8 903v73.6"/>
<path opacity="0.57" d="M849.5 959h77.3M888.2 917.7v82.7"/>
<path opacity="0.67" d="M823 937.2h152M899 900.7v73.2"/>
<path opacity="0.43" d="M829.2 947.1h153.8M906.1 896.3v101.5"/>
<path opacity="0.58" d="M834.3 960.7h119.9M894.2 883.4v154.6"/>
<path opacity="0.48" d="M856.2 959.2h98M905.2 867.2v184"/>
<path opacity="0.40" d="M861.9 943.9h103.7M913.7 857.7v172.5"/>
<path opacity="0.56" d="M862.1 967.9h113M918.6 922v91.8"/>
<path opacity="0.62" d="M842.6 960.5h152M918.6 916.9v87.2"/>
<path opacity="0.41" d="M851.2 962.7h116.6M909.5 909.1v107.1"/>
<path opacity="0.35" d="M861.4 957.6h110.5M916.7 862.9v189.5"/>
<path opacity="0.47" d="M854.8 968.9h135.8M922.7 898.2v141.5"/>
<path opacity="0.61" d="M874.5 972.7h103.9M926.5 933.6v78.2"/>
<path opacity="0.45" d="M871.1 973.9h109.7M926 905v137.7"/>
<path opacity="0.39" d="M870.6 980.4h125.5M933.4 898.6v163.7"/>
<path opacity="0.44" d="M898.5 980.5h70.6M933.8 899.5v162"/>
<path opacity="0.56" d="M893.8 995.9h79.9M933.8 953.3v85.2"/>
<path opacity="0.49" d="M837.2 997.8h179.8M927.1 937.4v120.9"/>
<path opacity="0.60" d="M847.6 1001h180.6M937.9 949.6v102.8"/>
<path opacity="0.57" d="M876.2 1009.3h138.9M945.6 974.4v69.8"/>
<path opacity="0.39" d="M905.7 1019.5h106M958.7 940.7v157.7"/>
<path opacity="0.69" d="M907.3 1005.1h83.9M949.3 949.2v111.8"/>
<path opacity="0.60" d="M909.5 1013.5h90.4M954.7 918.2v190.6"/>
<path opacity="0.35" d="M906.1 1017.1h98.3M955.2 954.3v125.5"/>
<path opacity="0.67" d="M921.2 1031h81.5M962 999v63.9"/>
<path opacity="0.48" d="M916.8 1027.1h80M956.8 973.6v107"/>
<path opacity="0.44" d="M911.5 1038.4h89.9M956.4 954.5v167.7"/>
<path opacity="0.52" d="M417 318h36M435 302v32"/>
<path opacity="0.48" d="M896.1 907h81.8M937 842.5v129"/>
<path opacity="0.54" d="M876.5 927h88.9M921 852.8v148.4"/>
<path opacity="0.65" d="M870.7 979h182.5M962 932.8v92.4"/>
<path opacity="0.53" d="M726.4 845h61.2M757 797.4v95.2"/>
<path opacity="0.66" d="M747.3 896h115.4M805 823.8v144.3"/>
<path opacity="0.68" d="M722 925h157.9M801 851.8v146.4"/>
<path opacity="0.52" d="M756.8 935h100.4M807 882.6v104.8"/>
<path opacity="0.50" d="M765.6 961h128.8M830 893.5v135.1"/>
<path opacity="0.48" d="M783.1 961h117.7M842 904.9v112.3"/>
<path opacity="0.53" d="M802.2 960h85.5M845 902.6v114.9"/>
<path opacity="0.52" d="M927 930h120M987 875v110"/>
<path opacity="0.52" d="M939.6 1017h132.8M1006 941v152"/>
<path opacity="0.52" d="M910.4 1086h131.3M976 1026.9v118.2"/>
<path opacity="0.52" d="M920.3 1092h161.3M1001 1016.7v150.5"/>
<path opacity="1.00" d="M1022 1123h110M1077 1061v124"/>
<path opacity="0.52" d="M1046 1247h210M1151 1147v200"/>
<path opacity="1.00" d="M423 432h38M442 418.6v26.7"/>
<path opacity="1.00" d="M714.9 770h40.2M735 749.9v40.1"/>
<path opacity="1.00" d="M571 620h34M588 605.4v29.2"/>
</g>
<g stroke="#ffa500" stroke-width="5.6" fill="none">
<path opacity="0.80" d="M227.8 276.6h27.3M241.5 257.1v38.9"/>
<path opacity="0.97" d="M231.3 278.2h24.1M243.4 265.3v25.7"/>
<path opacity="0.98" d="M235.2 272.5h20.3M245.3 256.2v32.5"/>
<path opacity="0.98" d="M228.7 276.3h34.6M246.1 261.4v29.9"/>
<path opacity="0.81" d="M231.7 275.9h24.8M244.1 261.5v28.8"/>
<path opacity="0.81" d="M233.1 280.1h29.5M247.8 261.1v37.9"/>
<path opacity="0.89" d="M225.1 277.6h39.4M244.8 262.9v29.5"/>
<path opacity="0.81" d="M235.7 279.4h24.2M247.8 266.5v25.7"/>
<path opacity="0.86" d="M230 279.9h37.7M248.8 265v29.9"/>
<path opacity="0.95" d="M231.4 285h24.6M243.7 271.5v27.2"/>
<path opacity="0.88" d="M234 286.3h25.5M246.7 275.1v22.5"/>
<path opacity="0.86" d="M239.1 278.9h25M251.5 260.8v36.2"/>
<path opacity="0.81" d="M234.8 288.6h27.5M248.6 271.6v34"/>
<path opacity="0.91" d="M235.8 279.8h33.5M252.6 268.1v23.4"/>
<path opacity="0.90" d="M242 290.8h23.7M253.8 279.4v22.9"/>
<path opacity="0.90" d="M239.9 290.3h34.1M257 276.9v26.7"/>
<path opacity="0.97" d="M240.5 285.7h30.1M255.5 274.4v22.7"/>
<path opacity="0.85" d="M241 288.8h24.1M253.1 269.7v38.3"/>
<path opacity="0.88" d="M246.7 286.3h28M260.7 267.9v36.9"/>
<path opacity="0.89" d="M248.8 290.4h22.4M260 273v34.8"/>
<path opacity="0.86" d="M236.7 291.6h39.9M256.7 280.9v21.6"/>
<path opacity="0.82" d="M250.1 291.1h24.5M262.4 275.5v31.3"/>
<path opacity="0.82" d="M242.7 297.8h28.4M256.9 284.1v27.3"/>
<path opacity="1.00" d="M235.1 296h39.7M254.9 277v37.9"/>
<path opacity="0.81" d="M244.7 293.8h26.4M257.9 282v23.6"/>
<path opacity="0.96" d="M247.1 288.7h25.1M259.6 270.2v37"/>
<path opacity="0.82" d="M249.8 305.2h28.2M263.9 286.9v36.6"/>
<path opacity="0.86" d="M253.8 290.3h23.1M265.3 273.7v33.1"/>
<path opacity="0.86" d="M251.9 297.4h36.9M270.4 284.4v25.9"/>
<path opacity="0.84" d="M248.2 300.6h35.7M266 290.1v20.9"/>
<path opacity="0.96" d="M249.4 300.9h27.7M263.2 290.4v20.9"/>
<path opacity="0.94" d="M258.3 299h20.7M268.7 283v32"/>
<path opacity="0.87" d="M251.4 304.3h22.6M262.7 293.7v21.3"/>
<path opacity="0.85" d="M258.6 299.4h28.9M273.1 285.3v28.2"/>
<path opacity="0.87" d="M258 300.3h29.6M272.8 287.9v24.8"/>
<path opacity="0.82" d="M262.2 303h22.5M273.4 286.5v33"/>
<path opacity="0.82" d="M253.8 304h33.8M270.7 284.5v39"/>
<path opacity="0.93" d="M253.3 309.1h25.8M266.2 298.2v21.7"/>
<path opacity="0.99" d="M258.9 306.9h27M272.4 293.7v26.3"/>
<path opacity="0.91" d="M261.7 303.3h32.8M278.1 289.5v27.6"/>
<path opacity="0.86" d="M259 302.3h33.8M275.9 282.7v39.2"/>
<path opacity="0.85" d="M262.8 305.1h26.5M276 293.2v23.7"/>
<path opacity="0.84" d="M256.1 301.5h36.4M274.3 291v21"/>
<path opacity="0.84" d="M258 308.1h30.4M273.2 295.2v25.8"/>
<path opacity="0.97" d="M259.8 318.5h30.8M275.2 303.9v29.1"/>
<path opacity="0.99" d="M271.5 310.7h20.7M281.8 292.2v36.9"/>
<path opacity="0.80" d="M265.2 317.3h39M284.6 305.2v24.2"/>
<path opacity="0.91" d="M268.2 312.4h39.6M288 296.1v32.6"/>
<path opacity="0.86" d="M259.9 315.7h34.3M277.1 301.4v28.6"/>
<path opacity="0.85" d="M267.6 320.1h21.6M278.4 300.9v38.5"/>
<path opacity="1.00" d="M271.6 314.5h32.9M288 303.7v21.6"/>
<path opacity="0.85" d="M275 317.9h26.7M288.4 299.1v37.5"/>
<path opacity="0.91" d="M271.7 316.4h37.7M290.5 303.5v25.8"/>
<path opacity="0.83" d="M272.6 318.1h36.8M291 300.9v34.3"/>
<path opacity="0.99" d="M270.8 327.2h29.1M285.4 311v32.3"/>
<path opacity="0.94" d="M277.2 327h20.3M287.3 316v22.1"/>
<path opacity="0.92" d="M276.8 321.7h33.7M293.7 308.1v27.1"/>
<path opacity="0.87" d="M273.3 326.3h36.9M291.7 307v38.6"/>
<path opacity="0.87" d="M277 320.3h39.4M296.7 302.7v35.3"/>
<path opacity="0.99" d="M275.6 318.2h37.7M294.5 302.4v31.6"/>
<path opacity="0.91" d="M280.1 329h28.1M294.1 311.9v34.1"/>
<path opacity="0.97" d="M269 331.3h38.3M288.1 313.5v35.6"/>
<path opacity="0.88" d="M285.9 331.3h26.7M299.3 312.5v37.5"/>
<path opacity="0.87" d="M282.1 334h38M301.2 315.4v37.2"/>
<path opacity="0.98" d="M279.6 330.1h29.7M294.4 310.4v39.3"/>
<path opacity="0.96" d="M286.8 337.1h27.2M300.4 318.6v37"/>
<path opacity="0.93" d="M281.1 338h39.6M300.9 325.6v24.8"/>
<path opacity="0.86" d="M291 332.5h34.9M308.4 313.9v37.1"/>
<path opacity="0.96" d="M281.2 336h24.7M293.6 323.6v24.7"/>
<path opacity="0.98" d="M289.4 334.8h36.9M307.8 317v35.7"/>
<path opacity="0.96" d="M291.2 340.9h31.7M307 323.2v35.6"/>
<path opacity="0.81" d="M291.1 333.9h33.7M308 321.1v25.5"/>
<path opacity="0.83" d="M297.6 334.1h24.1M309.7 323.6v21"/>
<path opacity="0.97" d="M294.5 337h28.8M308.9 318.5v37"/>
<path opacity="0.91" d="M288.5 344.5h33.5M305.2 330.4v28.1"/>
<path opacity="0.81" d="M300.6 350.5h21.7M311.5 337.5v25.9"/>
<path opacity="0.83" d="M297.4 343.3h21.1M308 328.7v29.3"/>
<path opacity="0.87" d="M288.3 348.2h27.2M301.9 331.1v34.2"/>
<path opacity="0.86" d="M283.2 348.6h35.4M301 334.3v28.6"/>
<path opacity="0.83" d="M302.8 345.5h28.7M317.1 329.8v31.3"/>
<path opacity="0.85" d="M302.7 348.2h21.9M313.7 328.3v39.8"/>
<path opacity="0.91" d="M298.6 349.7h36.6M316.9 339v21.4"/>
<path opacity="0.96" d="M291.8 351.5h39.1M311.4 339.3v24.4"/>
<path opacity="0.93" d="M296.4 357.4h30.5M311.7 342.1v30.4"/>
<path opacity="0.85" d="M307.2 348.1h25.1M319.7 334.5v27.1"/>
<path opacity="0.81" d="M311.7 353.6h26.4M324.9 340.1v27"/>
<path opacity="0.91" d="M306.6 354.1h39.7M326.4 342.7v22.8"/>
<path opacity="0.96" d="M311 359.6h22.5M322.2 348.2v22.7"/>
<path opacity="0.86" d="M318.5 353.3h23.9M330.4 334.9v36.6"/>
<path opacity="0.83" d="M309.5 350.4h38.6M328.8 331.4v38.2"/>
<path opacity="0.95" d="M317.8 359.5h21.4M328.5 343v33"/>
<path opacity="0.89" d="M311.6 369.9h23.5M323.3 359.9v20.1"/>
<path opacity="0.95" d="M306.7 365.3h38.3M325.9 346.7v37.3"/>
<path opacity="0.84" d="M318 364.4h28.4M332.1 347.4v34.1"/>
<path opacity="0.97" d="M315 361h37.8M333.9 349.5v23"/>
<path opacity="0.89" d="M326.8 360.6h26.6M340.1 348.2v24.7"/>
<path opacity="0.95" d="M327.3 360.4h26.9M340.7 347v26.7"/>
<path opacity="0.80" d="M320.3 374.5h25.5M333.1 354.7v39.5"/>
<path opacity="0.93" d="M320.2 371.5h33.6M337.1 357.8v27.4"/>
<path opacity="0.87" d="M322.6 364.2h36.2M340.7 348.5v31.5"/>
<path opacity="0.92" d="M322.1 364.1h39.6M341.9 345.6v37"/>
<path opacity="0.97" d="M316.4 376.7h36.5M334.6 358.9v35.5"/>
<path opacity="0.95" d="M324 383h21.4M334.7 371.9v22.1"/>
<path opacity="0.88" d="M327.7 374h23.4M339.4 355.7v36.7"/>
<path opacity="0.97" d="M322.2 375.4h39.5M341.9 362.7v25.5"/>
<path opacity="0.89" d="M333 370.3h38.5M352.2 357.2v26.1"/>
<path opacity="0.80" d="M330.2 389.4h33.9M347.2 376.7v25.4"/>
<path opacity="0.86" d="M334.1 383.1h29.9M349.1 363.9v38.6"/>
<path opacity="0.95" d="M327.2 376.6h38.8M346.6 365v23.1"/>
<path opacity="0.99" d="M333.4 386.9h34M350.4 374v25.7"/>
<path opacity="0.80" d="M333.4 392.9h27.4M347.1 379.9v26"/>
<path opacity="0.89" d="M331.6 394.6h27.5M345.4 377.3v34.4"/>
<path opacity="0.86" d="M334.2 378h38M353.2 363.4v29.1"/>
<path opacity="0.85" d="M345.2 379.2h33.9M362.2 361.1v36.1"/>
<path opacity="0.85" d="M352.5 383.6h26.4M365.7 367v33.2"/>
<path opacity="0.82" d="M347.9 398.8h26.8M361.3 387.1v23.4"/>
<path opacity="0.99" d="M352.6 392.6h26.9M366.1 380.9v23.4"/>
<path opacity="0.82" d="M346.9 389.2h40M366.9 371.5v35.5"/>
<path opacity="0.89" d="M355.2 386h35.1M372.7 375.4v21.2"/>
<path opacity="0.97" d="M347.3 399.8h39.3M367 380.1v39.6"/>
<path opacity="0.95" d="M352 406.7h23.3M363.7 390.3v32.8"/>
<path opacity="0.91" d="M362.6 400.3h26.7M375.9 388.4v23.9"/>
<path opacity="0.98" d="M358.4 392.5h23.2M370 374.1v36.9"/>
<path opacity="0.85" d="M362.1 398.9h31.7M377.9 379.7v38.4"/>
<path opacity="0.94" d="M361.9 406.1h24.9M374.3 388.1v36.2"/>
<path opacity="0.81" d="M353.2 412.6h35.3M370.9 397.7v29.8"/>
<path opacity="0.86" d="M355.4 411.9h39.9M375.3 401v22"/>
<path opacity="0.88" d="M357.9 414.9h34.4M375.1 398.7v32.3"/>
<path opacity="0.92" d="M366.7 411.7h29.8M381.6 394.6v34.2"/>
<path opacity="0.92" d="M382.3 407.5h20.9M392.7 397.1v20.7"/>
<path opacity="0.88" d="M384.6 406.6h22.2M395.7 392.8v27.6"/>
<path opacity="0.87" d="M384.8 412.2h26.1M397.8 395.6v33.3"/>
<path opacity="0.91" d="M380.5 411.2h29.6M395.2 394.7v32.9"/>
<path opacity="0.94" d="M375.1 415.3h35M392.6 399v32.5"/>
<path opacity="0.89" d="M375.7 426.3h36.5M394 406.5v39.5"/>
<path opacity="0.82" d="M377.8 423.6h38M396.8 405.4v36.3"/>
<path opacity="0.98" d="M388.2 427.1h33.1M404.7 411.4v31.3"/>
<path opacity="0.80" d="M388.1 422.1h37.8M407 404.5v35.1"/>
<path opacity="0.96" d="M387.8 428.9h39.9M407.8 418.2v21.5"/>
<path opacity="0.97" d="M402.1 415.9h21.3M412.8 399.4v32.9"/>
<path opacity="0.86" d="M399.5 429.4h24.1M411.6 416.1v26.6"/>
<path opacity="0.99" d="M400.1 438.8h29.7M414.9 421.9v33.8"/>
<path opacity="0.97" d="M402.3 432.6h33.2M418.9 420.9v23.4"/>
<path opacity="0.82" d="M396.9 442.3h30.5M412.2 427.4v29.7"/>
<path opacity="0.88" d="M416.3 435.8h21.5M427.1 419v33.6"/>
<path opacity="0.97" d="M396.7 444.1h38.5M415.9 432.4v23.3"/>
<path opacity="0.91" d="M415.3 443.8h25.7M428.1 426.1v35.4"/>
<path opacity="0.97" d="M400 457.9h32.8M416.5 441.4v33.1"/>
<path opacity="0.83" d="M419.1 450.9h20.9M429.6 432.6v36.5"/>
<path opacity="0.82" d="M414 453.1h28.5M428.3 439.5v27.1"/>
<path opacity="0.90" d="M406 442.3h29.1M420.5 429.4v25.7"/>
<path opacity="0.86" d="M380.7 455.6h39.2M400.3 443.6v24.1"/>
<path opacity="0.91" d="M393.9 458.5h28.1M408 442.7v31.7"/>
<path opacity="0.93" d="M394.7 460h25.3M407.3 447.6v24.8"/>
<path opacity="0.84" d="M424.8 450h30.8M440.3 436.5v27"/>
<path opacity="0.82" d="M405.7 457.9h37.1M424.2 438.2v39.3"/>
<path opacity="0.83" d="M388 471.9h38.1M407.1 455.5v32.9"/>
<path opacity="0.84" d="M429.1 459.7h20M439.1 443.9v31.7"/>
<path opacity="0.84" d="M413.3 472h29.1M427.8 455.9v32.3"/>
<path opacity="0.85" d="M412.4 466.1h38.1M431.5 453.7v25"/>
<path opacity="0.90" d="M433.6 463.6h27.4M447.3 449.9v27.5"/>
<path opacity="0.97" d="M419.9 474.3h34.7M437.3 463.2v22.3"/>
<path opacity="0.90" d="M421.6 477.9h38.1M440.7 464.1v27.6"/>
<path opacity="0.85" d="M415.2 484h38.3M434.3 464.6v38.8"/>
<path opacity="0.88" d="M416.6 492h20.5M426.8 477.8v28.5"/>
<path opacity="0.95" d="M410.2 501.5h20.4M420.4 490.4v22.2"/>
<path opacity="0.83" d="M430.2 492.2h39.6M450 477.7v28.9"/>
<path opacity="0.91" d="M423.2 496.3h39.9M443.2 479.3v34"/>
<path opacity="0.94" d="M430 496.5h37M448.5 476.9v39.2"/>
<path opacity="0.90" d="M427.4 499.4h24.8M439.8 481.6v35.5"/>
<path opacity="0.93" d="M424.9 504.9h36.1M443 489.9v30"/>
<path opacity="0.99" d="M452.7 493.5h21.4M463.4 473.7v39.5"/>
<path opacity="0.84" d="M417.6 521h28M431.6 506.4v29.2"/>
<path opacity="0.97" d="M447.1 502.2h37.1M465.6 489.3v25.8"/>
<path opacity="0.89" d="M423 513.3h34.5M440.2 496.4v33.9"/>
<path opacity="0.83" d="M441.2 509.1h23.6M453 492.3v33.7"/>
<path opacity="0.90" d="M443 520.5h20.8M453.4 503.2v34.7"/>
<path opacity="0.98" d="M442.2 509.4h38.4M461.3 491.1v36.7"/>
<path opacity="0.83" d="M452.9 514.6h33.2M469.5 503.7v21.7"/>
<path opacity="0.97" d="M457.6 512.2h27.7M471.4 496.1v32.3"/>
<path opacity="0.80" d="M425 526.9h38.3M444.2 507.1v39.5"/>
<path opacity="0.91" d="M442.2 531.1h23.8M454.1 511.9v38.4"/>
<path opacity="0.84" d="M449.4 524.4h24.1M461.4 506.7v35.5"/>
<path opacity="0.95" d="M441.6 529.3h37.7M460.5 515.8v26.8"/>
<path opacity="0.97" d="M460.4 524.5h30.5M475.7 512.1v24.7"/>
<path opacity="0.97" d="M440.7 545.6h25.4M453.4 533.7v23.9"/>
<path opacity="0.92" d="M440.6 541.7h26.2M453.7 522.8v37.8"/>
<path opacity="0.83" d="M455.4 540.4h38.3M474.6 527.7v25.3"/>
<path opacity="0.90" d="M436.9 551.7h34.2M454 537.9v27.7"/>
<path opacity="0.84" d="M447.3 544.6h27M460.8 534.6v20.1"/>
<path opacity="0.96" d="M445.8 550.8h23.5M457.6 533.2v35.2"/>
<path opacity="0.84" d="M461.3 539.2h36.8M479.7 523.4v31.7"/>
<path opacity="0.95" d="M453.6 553.4h29.4M468.3 535.7v35.3"/>
<path opacity="0.93" d="M438.8 557.1h39.6M458.6 543.1v28"/>
<path opacity="0.89" d="M443.8 554.5h35.2M461.4 534.8v39.4"/>
<path opacity="0.90" d="M448.7 553h28.9M463.1 533.3v39.3"/>
<path opacity="0.81" d="M475.7 553.2h24.7M488.1 537.8v30.8"/>
<path opacity="0.97" d="M471.7 558.3h22.8M483 547.2v22.4"/>
<path opacity="0.82" d="M471.8 553.4h33.4M488.5 533.5v39.9"/>
<path opacity="0.82" d="M477.5 553.2h30M492.5 543v20.4"/>
<path opacity="0.95" d="M480.6 559.5h24.9M493 546.5v26.1"/>
<path opacity="0.92" d="M463.4 573.2h30.9M478.9 557.8v30.8"/>
<path opacity="0.86" d="M460.6 576.5h33M477.1 557.6v37.8"/>
<path opacity="0.83" d="M469.5 569h21.8M480.4 557.1v24"/>
<path opacity="0.93" d="M473.9 571.8h35.6M491.7 556.4v30.8"/>
<path opacity="0.96" d="M461.2 584h32.6M477.5 564.5v39.1"/>
<path opacity="0.94" d="M459.1 584.5h32.4M475.3 566v37"/>
<path opacity="0.95" d="M458.6 586.1h33.2M475.2 569v34.2"/>
<path opacity="0.81" d="M452.9 588.7h38.6M472.2 569.4v38.8"/>
<path opacity="0.94" d="M463.1 584.8h20.7M473.4 574.8v20"/>
<path opacity="0.89" d="M481.2 581.9h21.1M491.7 564.8v34.1"/>
<path opacity="0.88" d="M456.9 592.8h37.2M475.5 576.1v33.4"/>
<path opacity="0.87" d="M469.3 594.4h37.8M488.2 583.7v21.4"/>
<path opacity="0.94" d="M476.7 596h23.7M488.5 580.7v30.7"/>
<path opacity="0.87" d="M482.2 603.3h20.2M492.3 591.1v24.4"/>
<path opacity="0.97" d="M487.2 600.9h26.8M500.5 590.8v20.2"/>
<path opacity="0.92" d="M488.2 598.1h29M502.7 579v38.2"/>
<path opacity="0.90" d="M482.4 602.4h33.1M498.9 591.4v22.2"/>
<path opacity="0.83" d="M473.2 605.6h21M483.7 594.9v21.4"/>
<path opacity="0.96" d="M479.7 603.9h31.1M495.3 590.4v27.1"/>
<path opacity="0.91" d="M470.6 612.2h33.6M487.4 594.6v35.2"/>
<path opacity="0.95" d="M489.4 602.1h36.9M507.8 587.7v28.8"/>
<path opacity="0.84" d="M497.9 610.9h22.8M509.3 598.7v24.3"/>
<path opacity="0.83" d="M496.2 610.5h24.2M508.2 597.2v26.7"/>
<path opacity="0.90" d="M505 609.9h24.5M517.2 590.4v39"/>
<path opacity="0.83" d="M503 614.7h34.3M520.2 595.6v38.2"/>
<path opacity="0.99" d="M492.5 621.4h38.9M511.9 607.1v28.5"/>
<path opacity="0.95" d="M497 630h24.9M509.4 615.1v29.7"/>
<path opacity="0.85" d="M490.3 628.5h23.9M502.3 612.1v32.8"/>
<path opacity="0.90" d="M485.1 638.3h38.7M504.5 619v38.5"/>
<path opacity="0.97" d="M487.5 638.1h35.2M505.1 620.2v35.9"/>
<path opacity="0.93" d="M492.1 634.7h32.6M508.4 616.3v36.7"/>
<path opacity="0.90" d="M495.7 630.8h35M513.2 617.9v26"/>
<path opacity="0.98" d="M491.4 636.2h35.2M509 617.7v37"/>
<path opacity="0.95" d="M498.2 647.8h35.2M515.8 630.2v35.2"/>
<path opacity="0.84" d="M514 635.6h30.6M529.3 619v33.2"/>
<path opacity="0.93" d="M508.2 650h25.1M520.8 638.8v22.5"/>
<path opacity="0.98" d="M518 640.1h35.4M535.7 626.5v27.1"/>
<path opacity="0.89" d="M512.8 646.2h35.5M530.6 632.7v27"/>
<path opacity="0.83" d="M518.5 640.8h31.3M534.2 627.8v26.1"/>
<path opacity="0.97" d="M522 645.7h36.9M540.4 631.3v28.9"/>
<path opacity="0.81" d="M525.8 644h26M538.8 625v37.9"/>
<path opacity="0.99" d="M519.9 664.3h25.7M532.8 649v30.5"/>
<path opacity="0.80" d="M518.6 660h29.8M533.5 642.9v34.3"/>
<path opacity="0.97" d="M533.6 659.1h24M545.7 646.9v24.3"/>
<path opacity="0.95" d="M531.6 656.7h24.3M543.7 639.9v33.5"/>
<path opacity="0.88" d="M518 666.8h30.4M533.2 652.9v27.9"/>
<path opacity="0.99" d="M533.2 673.2h24.6M545.5 658.9v28.7"/>
<path opacity="0.99" d="M529.1 677.8h29.3M543.8 667.7v20.3"/>
<path opacity="0.85" d="M533.3 679.9h26.3M546.5 667.8v24.2"/>
<path opacity="0.91" d="M536.8 671.8h34M553.8 653.6v36.3"/>
<path opacity="0.83" d="M542.5 674.8h33.5M559.2 657v35.6"/>
<path opacity="0.81" d="M539.3 690.9h21.9M550.2 673.8v34.2"/>
<path opacity="0.99" d="M551.9 681.4h21.9M562.8 662.3v38.2"/>
<path opacity="0.94" d="M543.3 687.5h39.6M563 671.3v32.3"/>
<path opacity="0.88" d="M551.1 691.5h32.9M567.6 679.3v24.4"/>
<path opacity="0.96" d="M551.2 693.6h27.7M565.1 679.6v27.9"/>
<path opacity="0.96" d="M556.8 700.3h22.6M568.1 684.2v32.2"/>
<path opacity="0.93" d="M550 705.8h30.8M565.4 686.2v39.1"/>
<path opacity="0.88" d="M548.1 710.4h32.2M564.2 700.3v20.2"/>
<path opacity="0.93" d="M252.5 342.9h22.3M263.6 333.8v18.2"/>
<path opacity="0.90" d="M263.4 339.8h21.4M274.2 326.3v27"/>
<path opacity="0.84" d="M274.2 348.3h16.3M282.3 339.3v17.9"/>
<path opacity="0.87" d="M272.1 353h27.4M285.8 342.9v20.3"/>
<path opacity="0.92" d="M273.8 364.7h27.7M287.6 355.5v18.5"/>
<path opacity="0.83" d="M280.3 377.3h27.4M294 363.9v26.9"/>
<path opacity="0.94" d="M283 379.3h21.7M293.8 369.8v19"/>
<path opacity="0.85" d="M287.5 393.9h19M297 384.9v18.1"/>
<path opacity="0.95" d="M340 414h20M350 384v60"/>
<path opacity="0.50" d="M249 425h28M263 411v28"/>
<path opacity="0.50" d="M291.2 471h43.7M313 445.8v50.3"/>
<path opacity="0.50" d="M317.1 490h47.8M341 468v44"/>
<path opacity="0.50" d="M536.1 560h47.7M560 538.2v43.6"/>
<path opacity="0.95" d="M616.4 842h135.3M684 761.4v161.2"/>
<path opacity="0.95" d="M602.3 881h155.4M680 805.8v150.4"/>
<path opacity="0.95" d="M624.8 920h154.3M702 839.6v160.8"/>
<path opacity="0.95" d="M669.7 915h124.7M732 841.4v147.2"/>
<path opacity="0.95" d="M661.5 924h165M744 852.7v142.5"/>
<path opacity="0.95" d="M868.7 1273.4h286M1011.7 1103.4v340"/>
</g>
<g stroke="#66cd00" stroke-width="5.6" fill="none">
<path opacity="0.55" d="M292.3 250h27.4M306 239.6v20.9"/>
<path opacity="0.55" d="M259.6 352h24.7M272 341.9v20.1"/>
<path opacity="0.55" d="M331.1 370h27.8M345 361.5v17.1"/>
<path opacity="0.60" d="M369.7 379h34.7M387 366.1v25.9"/>
<path opacity="0.60" d="M389.3 397h23.3M401 387.6v18.7"/>
<path opacity="0.60" d="M503.8 447h26.3M517 434.4v25.3"/>
<path opacity="0.60" d="M511.9 457h28.3M526 447.1v19.8"/>
<path opacity="0.60" d="M577.9 499h32.3M594 489.8v18.3"/>
<path opacity="0.60" d="M579.3 502h31.3M595 489.5v25"/>
<path opacity="0.60" d="M654.2 552h21.6M665 540.6v22.8"/>
<path opacity="0.60" d="M670.2 567h29.5M685 553.2v27.7"/>
<path opacity="0.60" d="M694.6 570h24.8M707 559.2v21.5"/>
<path opacity="0.59" d="M761.1 636.5h53.3M787.7 612.9v47.3"/>
<path opacity="0.64" d="M732 647.5h109.5M786.8 616v63.1"/>
<path opacity="0.54" d="M743.4 643.7h120.4M803.6 616.9v53.6"/>
<path opacity="0.53" d="M760.1 645.2h80.3M800.2 613.7v63"/>
<path opacity="0.70" d="M780.8 654.6h52.9M807.2 619.2v70.8"/>
<path opacity="0.59" d="M758.1 654.8h118.9M817.6 627.8v54.1"/>
<path opacity="0.57" d="M777 665.7h111.3M832.6 624v83.3"/>
<path opacity="0.53" d="M784.7 673.3h120.4M844.9 638.6v69.5"/>
<path opacity="0.58" d="M813.8 679.9h83.3M855.4 661.8v36.1"/>
<path opacity="0.57" d="M808.5 674.9h88.7M852.8 637.7v74.3"/>
<path opacity="0.60" d="M813.8 686.1h98.1M862.8 652.2v67.8"/>
<path opacity="0.62" d="M813.4 678.5h95.4M861 649.5v58.1"/>
<path opacity="0.52" d="M816.2 688.5h84.1M858.3 648.6v79.8"/>
<path opacity="0.50" d="M823.1 693h113.9M880.1 657.1v71.8"/>
<path opacity="0.60" d="M830 714.2h103.2M881.6 687.5v53.4"/>
<path opacity="0.60" d="M839.4 713.2h88.3M883.6 677.6v71.3"/>
<path opacity="0.51" d="M842.8 713.9h97M891.4 690.7v46.5"/>
<path opacity="0.52" d="M869.6 725.1h99.4M919.3 683.4v83.4"/>
<path opacity="0.63" d="M859.7 721.9h117.4M918.4 694.7v54.5"/>
<path opacity="0.59" d="M878.9 729.8h69.7M913.8 695.2v69.2"/>
<path opacity="0.57" d="M891 760.3h108.8M945.4 735.7v49.3"/>
<path opacity="0.70" d="M889.9 753.2h96.3M938.1 732.7v41.1"/>
<path opacity="0.54" d="M898.6 753.6h94.9M946.1 712.2v82.7"/>
<path opacity="0.52" d="M906.5 767.7h102.5M957.7 744.8v45.7"/>
<path opacity="0.61" d="M914.7 757.8h82.8M956.1 728.5v58.6"/>
<path opacity="0.64" d="M940.6 773.7h84.5M982.9 751v45.4"/>
<path opacity="0.66" d="M935.6 756.9h69.7M970.5 731.9v49.9"/>
<path opacity="0.68" d="M927.8 766.9h100.5M978.1 731.4v70.9"/>
<path opacity="0.70" d="M935.5 781.6h113.1M992.1 758.3v46.5"/>
<path opacity="0.56" d="M953.7 780.3h88.5M997.9 748.9v62.8"/>
<path opacity="0.51" d="M981 798.1h78.7M1020.3 766.7v62.8"/>
<path opacity="0.64" d="M950.9 792h103.3M1002.5 765.7v52.7"/>
<path opacity="0.51" d="M966.6 799.2h104.2M1018.7 766.4v65.7"/>
<path opacity="0.64" d="M983.5 815.2h91.7M1029.3 788.7v53"/>
<path opacity="0.65" d="M998.6 807.7h102.6M1049.9 777.6v60.1"/>
<path opacity="0.69" d="M1018.2 825.1h60.6M1048.5 787.5v75.2"/>
<path opacity="0.65" d="M1015 1005h74M1052 969v72"/>
<path opacity="0.65" d="M1105 1084h74M1142 1048v72"/>
</g>
<g stroke="#008b8b" stroke-width="5.6" fill="none">
<path opacity="0.75" d="M712 524h56M740 496v56"/>
<path opacity="0.60" d="M646.8 505h38.4M666 458.8v92.5"/>
<path opacity="0.60" d="M744.8 607h30.5M760 558.3v97.3"/>
<path opacity="0.50" d="M765 605h50M790 560v90"/>
<path opacity="0.76" d="M676.6 550h26.7M690 538.7v22.6"/>
<path opacity="0.85" d="M700.9 592h30.2M716 577.9v28.1"/>
<path opacity="0.88" d="M716.8 620h20.4M727 604.2v31.6"/>
<path opacity="0.65" d="M717 662h26M730 646.5v31.1"/>
<path opacity="0.80" d="M712.8 675h24.4M725 664v22"/>
<path opacity="0.62" d="M731.5 692h31M747 676.4v31.2"/>
<path opacity="0.80" d="M762 647h44M784 624.9v44.1"/>
<path opacity="0.80" d="M786.1 680h29.7M801 651.9v56.2"/>
<path opacity="0.80" d="M760.1 727h37.7M779 714.2v25.5"/>
<path opacity="0.75" d="M789 646h80M829 576v140"/>
<path opacity="0.75" d="M806 716h80M846 656v120"/>
<path opacity="1.00" d="M870 810h84M912 723v174"/>
<path opacity="0.70" d="M811.2 845h27.5M825 811.4v67.3"/>
<path opacity="0.70" d="M875.5 906h37M894 882v48"/>
<path opacity="0.60" d="M882 947h24M894 887v120"/>
<path opacity="0.55" d="M896 1057h48M920 1000v114"/>
</g>
<g stroke="#00ff7f" stroke-width="5.6" fill="none">
<path opacity="0.55" d="M423.1 347h127.8M487 291v111.9"/>
<path opacity="0.55" d="M437.9 364h134.2M505 308.9v110.2"/>
<path opacity="0.55" d="M469.3 392h135.4M537 330.8v122.4"/>
<path opacity="0.55" d="M521.5 476h131M587 413.6v124.7"/>
<path opacity="0.47" d="M740.6 743.5h61.8M771.5 715.4v56.1"/>
<path opacity="0.52" d="M747.4 751.6h51.3M773 729.4v44.3"/>
<path opacity="0.44" d="M739.1 759.6h73.1M775.7 729.7v59.6"/>
<path opacity="0.46" d="M771.1 764.8h31.8M787 727.9v73.9"/>
<path opacity="0.59" d="M762.1 770.8h64.4M794.3 732.2v77.3"/>
<path opacity="0.48" d="M766.6 775.9h57.7M795.4 738.1v75.7"/>
<path opacity="0.42" d="M765.4 783.3h77M804 751.3v63.9"/>
<path opacity="0.60" d="M768.5 794.1h70.6M803.8 775.1v38"/>
<path opacity="0.43" d="M787.5 798.3h32.5M803.7 764.4v67.9"/>
<path opacity="0.58" d="M782.5 805.4h57M811 781.1v48.6"/>
<path opacity="0.59" d="M791.8 811.6h43.7M813.6 778.6v66"/>
<path opacity="0.42" d="M798.8 824.8h33.2M815.4 791.9v65.7"/>
<path opacity="0.43" d="M784.3 830.4h68.9M818.8 794v72.8"/>
<path opacity="0.46" d="M784.2 836.8h74.2M821.3 810.9v51.9"/>
</g>
<g stroke="#87cefa" stroke-width="5.6" fill="none">
<path opacity="0.66" d="M219.9 336.4h30.7M235.2 324v24.7"/>
<path opacity="0.66" d="M225.5 337.5h28.6M239.8 322.3v30.4"/>
<path opacity="0.51" d="M230.8 339.7h34.5M248.1 328.9v21.6"/>
<path opacity="0.53" d="M234.5 335.6h36.4M252.7 320.4v30.4"/>
<path opacity="0.54" d="M241.8 343.1h22.6M253.1 329.1v28"/>
<path opacity="0.69" d="M231.8 350.7h38.6M251.1 338.9v23.6"/>
<path opacity="0.63" d="M244.9 353.6h34.3M262.1 339.2v28.9"/>
<path opacity="0.60" d="M242.7 356h33.8M259.6 343.7v24.6"/>
<path opacity="0.69" d="M258.5 360.2h21.3M269.2 349.8v20.8"/>
<path opacity="0.52" d="M258 364.3h37M276.5 348.3v32.1"/>
<path opacity="0.59" d="M252.4 369.2h32.5M268.7 353.5v31.4"/>
<path opacity="0.50" d="M257.6 375.5h27.6M271.4 359.6v31.6"/>
<path opacity="0.59" d="M259.8 373.7h29.4M274.5 361.6v24.1"/>
<path opacity="0.68" d="M261.1 381.5h31.1M276.6 368.2v26.7"/>
<path opacity="0.66" d="M257.1 385.1h37.6M275.9 369v32.2"/>
<path opacity="0.66" d="M268.7 390.2h30M283.7 378.1v24.3"/>
<path opacity="0.63" d="M274 395.2h22.3M285.2 380.4v29.5"/>
<path opacity="0.63" d="M278.2 394.9h22.2M289.3 383.3v23.3"/>
<path opacity="0.61" d="M284.9 394.5h37.2M303.4 381.4v26.3"/>
<path opacity="0.59" d="M281.7 402.9h34.2M298.8 388.3v29.3"/>
<path opacity="0.66" d="M285.8 404.5h32.8M302.2 388.8v31.4"/>
<path opacity="0.54" d="M290.4 408h31.2M306 392.7v30.6"/>
<path opacity="0.54" d="M292.4 413.5h23.2M304 397v33"/>
<path opacity="0.53" d="M294.2 419.7h28.7M308.6 402.6v34.2"/>
<path opacity="0.63" d="M286.9 428.9h33.6M303.7 416.9v24"/>
<path opacity="0.66" d="M283.4 428.2h36.3M301.6 411.6v33.1"/>
<path opacity="0.53" d="M289.5 435.8h30.4M304.6 421.5v28.7"/>
<path opacity="0.51" d="M299.6 434h22.3M310.8 418v32"/>
<path opacity="0.55" d="M322.8 496h58.4M352 473.9v44.2"/>
<path opacity="0.55" d="M338.4 507h53.3M365 479.2v55.7"/>
<path opacity="0.55" d="M385.6 580h50.7M411 545.4v69.3"/>
<path opacity="0.55" d="M396.4 585h43.1M418 548.8v72.3"/>
<path opacity="0.55" d="M397.9 597h54.1M425 566.2v61.5"/>
<path opacity="0.55" d="M419.1 606h49.8M444 579.6v52.9"/>
<path opacity="0.55" d="M427.4 636h59.3M457 609.5v53.1"/>
<path opacity="0.55" d="M503.1 699h41.8M524 668.7v60.6"/>
<path opacity="0.55" d="M474.9 711h58.1M504 672.6v76.7"/>
<path opacity="0.55" d="M514.4 782h83.1M556 740.2v83.5"/>
<path opacity="0.55" d="M517.1 778h89.9M562 731.2v93.5"/>
<path opacity="0.55" d="M527.5 804h92.9M574 749v110"/>
<path opacity="0.55" d="M541 816h88.1M585 756.8v118.4"/>
<path opacity="0.55" d="M589 836h85.9M632 776.8v118.5"/>
<path opacity="0.55" d="M571 853h86.1M614 816.4v73.1"/>
<path opacity="0.55" d="M598.4 889h85.1M641 836v106.1"/>
<path opacity="0.55" d="M625.5 910h76.9M664 875v70.1"/>
<path opacity="0.60" d="M720 1025h100M770 960v130"/>
<path opacity="0.60" d="M726 1033h100M776 968v130"/>
<path opacity="0.60" d="M920 1256h96M968 1202v108"/>
</g>
<g stroke="#4876ff" stroke-width="5.6" fill="none">
<path opacity="0.51" d="M628.7 505h36.7M647 478.9v52.1"/>
<path opacity="0.74" d="M649.8 525h24.4M662 497.2v55.6"/>
<path opacity="0.67" d="M617.4 532h55.3M645 505.6v52.8"/>
<path opacity="0.67" d="M629.1 542h43.9M651 518.3v47.5"/>
<path opacity="0.66" d="M669.1 592h35.8M687 576.3v31.4"/>
<path opacity="0.57" d="M669.1 600h45.7M692 570.2v59.7"/>
<path opacity="0.45" d="M697.5 645h38.9M717 630.8v28.4"/>
<path opacity="0.74" d="M735.5 650h29M750 627.3v45.3"/>
<path opacity="0.65" d="M731 680h28.1M745 665.1v29.8"/>
<path opacity="0.72" d="M757.6 677h34.9M775 664.2v25.6"/>
<path opacity="0.68" d="M732.3 707h29.4M747 687.1v39.7"/>
<path opacity="0.63" d="M764 710h52.1M790 680.8v58.4"/>
<path opacity="0.64" d="M777.3 722h29.3M792 708.6v26.9"/>
<path opacity="0.50" d="M799.4 755h43.3M821 738.5v33"/>
<path opacity="0.75" d="M815.1 795.4h39.1M834.7 782.2v26.6"/>
<path opacity="0.67" d="M821.9 797.6h23.3M833.6 785.4v24.4"/>
<path opacity="0.68" d="M820.2 800.4h31.4M835.9 787.4v26"/>
<path opacity="0.86" d="M824.8 801.4h30.5M840.1 791.2v20.3"/>
<path opacity="0.90" d="M836.7 799.5h21M847.2 785.4v28.2"/>
<path opacity="0.75" d="M835.5 815.6h23.4M847.2 805.2v20.9"/>
<path opacity="0.67" d="M831.2 801.4h32.6M847.5 787.6v27.6"/>
<path opacity="0.70" d="M833.7 812.2h33.8M850.7 796.3v31.8"/>
<path opacity="0.75" d="M838.5 813.1h32.3M854.7 794.7v36.8"/>
<path opacity="0.75" d="M840.9 822h27.8M854.7 805.8v32.3"/>
<path opacity="0.64" d="M857.4 812.1h22M868.4 793v38.1"/>
<path opacity="0.84" d="M832.4 822.1h34.9M849.8 807.8v28.7"/>
<path opacity="0.74" d="M850.1 829.5h30.5M865.3 811.3v36.4"/>
<path opacity="0.85" d="M856.8 824.8h24.9M869.3 807.1v35.4"/>
<path opacity="0.81" d="M849.5 833.1h30.1M864.6 813.8v38.6"/>
<path opacity="0.88" d="M835 835.8h38.7M854.3 823.8v23.9"/>
<path opacity="0.70" d="M846.3 837.8h35.4M863.9 818.4v38.9"/>
<path opacity="0.80" d="M857.7 837.4h31.1M873.3 818.5v37.9"/>
<path opacity="0.88" d="M863.1 845.6h25.8M876 832.7v25.8"/>
<path opacity="0.68" d="M855.6 854.5h33.4M872.3 844v21.1"/>
<path opacity="0.74" d="M866 844.5h31.1M881.5 832.6v23.8"/>
<path opacity="0.68" d="M865.5 853.7h33.4M882.2 842.9v21.7"/>
<path opacity="0.63" d="M864.8 854.9h37.6M883.6 844.5v20.8"/>
<path opacity="0.74" d="M855.1 863.2h36.4M873.3 846.5v33.5"/>
<path opacity="0.60" d="M867.5 863.6h37.2M886.1 851.5v24.2"/>
<path opacity="0.70" d="M861.7 870.7h36.2M879.8 854.3v32.8"/>
<path opacity="0.60" d="M862 904h28M876 890v28"/>
</g>
<g stroke="#9b30ff" stroke-width="5.6" fill="none">
<path opacity="0.69" d="M291.2 308h24.5M303.5 296.1v23.6"/>
<path opacity="0.64" d="M288 319.7h32.5M304.3 302.2v34.9"/>
<path opacity="0.68" d="M296 317.7h20.5M306.2 305.2v24.9"/>
<path opacity="0.79" d="M295.7 325.1h32M311.7 309.7v30.9"/>
<path opacity="0.84" d="M300.6 332.2h26.3M313.7 318.8v26.9"/>
<path opacity="0.60" d="M301.6 329.5h20.8M312 319.3v20.3"/>
<path opacity="0.77" d="M297.3 341.3h33.1M313.8 327.2v28.3"/>
<path opacity="0.73" d="M306.8 338.2h30.5M322 321.7v33"/>
<path opacity="0.70" d="M314.5 343.5h25.3M327.2 332.6v21.8"/>
<path opacity="0.79" d="M310.7 349.5h23.1M322.2 332v34.8"/>
<path opacity="0.72" d="M302.7 351.1h24.6M315 337v28.2"/>
<path opacity="0.67" d="M310.1 356.3h29.7M324.9 338.7v35.2"/>
<path opacity="0.84" d="M307 366h29.8M321.9 352v28.1"/>
<path opacity="0.62" d="M314.3 369.8h23.5M326 354.7v30.4"/>
<path opacity="0.78" d="M308.8 372.4h28.7M323.2 354.7v35.4"/>
<path opacity="0.73" d="M314.8 374h20.5M325 356.1v35.7"/>
<path opacity="0.75" d="M324.7 379.2h29.3M339.3 361.7v35.1"/>
<path opacity="0.79" d="M327.7 382.4h23.5M339.5 369v26.9"/>
<path opacity="0.70" d="M326.7 388.8h26.3M339.9 377.4v22.7"/>
<path opacity="0.63" d="M329.5 389.8h21.6M340.3 379v21.6"/>
<path opacity="0.64" d="M332.4 391.3h28.2M346.4 378.7v25.1"/>
<path opacity="0.80" d="M337.5 393.8h31.8M353.4 378.9v29.8"/>
<path opacity="0.67" d="M345.9 389.5h22.6M357.1 374.5v29.9"/>
<path opacity="0.75" d="M352.7 397.6h27.9M366.6 384.1v27.1"/>
<path opacity="0.76" d="M348.3 402.8h29.1M362.8 385.5v34.7"/>
<path opacity="0.64" d="M361.1 398.8h25.6M373.9 382.5v32.7"/>
<path opacity="0.67" d="M354.6 403.4h32.4M370.9 388.8v29.2"/>
<path opacity="0.61" d="M365.5 402.3h32M381.5 391.4v21.8"/>
<path opacity="0.61" d="M475 564.9h50M500 543.5v42.6"/>
<path opacity="0.58" d="M489.2 574.2h35.6M507.1 557.7v33"/>
<path opacity="0.69" d="M495.5 584.3h38.1M514.5 567v34.6"/>
<path opacity="0.70" d="M496.4 593.8h50.9M521.9 572.9v41.6"/>
<path opacity="0.68" d="M506.7 601.6h33.2M523.3 581.4v40.5"/>
<path opacity="0.54" d="M502 617.8h59M531.6 590.9v53.8"/>
<path opacity="0.51" d="M523.7 619.8h47M547.2 603.7v32.1"/>
<path opacity="0.52" d="M523.1 632h55.9M551.1 616.9v30.1"/>
<path opacity="0.63" d="M538.9 636.4h33.2M555.5 610.7v51.3"/>
<path opacity="0.69" d="M549.6 638.2h36.5M567.8 617v42.3"/>
<path opacity="0.60" d="M484.7 712h92.6M531 670v84.1"/>
<path opacity="0.60" d="M524.6 730h118.8M584 686.8v86.5"/>
<path opacity="0.60" d="M575.3 730h113.4M632 682.4v95.3"/>
<path opacity="0.60" d="M606 750h82M647 690.2v119.5"/>
<path opacity="0.60" d="M503.4 777h125.1M566 727.6v98.9"/>
<path opacity="0.60" d="M574.3 809h89.5M619 739.7v138.6"/>
<path opacity="0.60" d="M634.7 810h94.7M682 762.6v94.8"/>
<path opacity="0.60" d="M619 924h102M670 876.8v94.4"/>
</g>
<g stroke="#ff0000" stroke-width="5.6" fill="none">
<path opacity="0.62" d="M358.3 452h37.4M377 423.1v57.7"/>
<path opacity="0.61" d="M387.5 449h55M415 426v46"/>
<path opacity="0.74" d="M379.7 470h34.5M397 445.2v49.7"/>
<path opacity="0.83" d="M401.4 495h37.3M420 475.6v38.7"/>
<path opacity="0.83" d="M413.9 530h52.1M440 505.1v49.9"/>
<path opacity="0.81" d="M421.5 532h36.9M440 512.1v39.9"/>
<path opacity="0.80" d="M450.4 561h43.2M472 539.3v43.4"/>
<path opacity="0.79" d="M485 635h60M515 606.7v56.6"/>
<path opacity="0.66" d="M529.3 655h43.4M551 629.4v51.2"/>
<path opacity="0.77" d="M541.2 695h37.6M560 676.9v36.1"/>
<path opacity="0.67" d="M540.8 705h58.4M570 678.7v52.7"/>
<path opacity="0.60" d="M644 839h80M684 799v80"/>
<path opacity="0.65" d="M690 872h100M740 832v80"/>
<path opacity="0.60" d="M737 962h110M792 890v144"/>
<path opacity="0.60" d="M780 1015h124M842 941v148"/>
<path opacity="0.60" d="M958.5 1205h136M1026.5 1133v144"/>
</g>
<g fill="#ffc0cb" stroke="#000" stroke-width="1.2">
<circle cx="254.8" cy="235.3" r="12.2" opacity="0.50"/>
<circle cx="265.7" cy="237.5" r="12.2" opacity="0.36"/>
<circle cx="274.3" cy="238.5" r="12.2" opacity="0.48"/>
<circle cx="276.6" cy="251.5" r="12.2" opacity="0.52"/>
<circle cx="288.7" cy="252.1" r="12.2" opacity="0.49"/>
<circle cx="299.6" cy="248.9" r="12.2" opacity="0.50"/>
<circle cx="308.4" cy="259.9" r="12.2" opacity="0.54"/>
<circle cx="318.1" cy="269.8" r="12.2" opacity="0.51"/>
<circle cx="323.4" cy="269.9" r="12.2" opacity="0.51"/>
<circle cx="328.8" cy="278.4" r="12.2" opacity="0.51"/>
<circle cx="341.1" cy="284" r="12.2" opacity="0.40"/>
<circle cx="347" cy="291.8" r="12.2" opacity="0.39"/>
<circle cx="352.6" cy="299.6" r="12.2" opacity="0.46"/>
<circle cx="363" cy="296.6" r="12.2" opacity="0.54"/>
<circle cx="371.1" cy="306.7" r="12.2" opacity="0.45"/>
<circle cx="382.5" cy="311.7" r="12.2" opacity="0.50"/>
<circle cx="383.7" cy="316" r="12.2" opacity="0.53"/>
<circle cx="396.5" cy="320.3" r="12.2" opacity="0.36"/>
<circle cx="399" cy="325.8" r="12.2" opacity="0.54"/>
<circle cx="408.7" cy="330.3" r="12.2" opacity="0.49"/>
<circle cx="415.3" cy="336.8" r="12.2" opacity="0.54"/>
<circle cx="427.1" cy="343.4" r="12.2" opacity="0.39"/>
<circle cx="437.9" cy="338.4" r="12.2" opacity="0.53"/>
<circle cx="449.5" cy="347.9" r="12.2" opacity="0.47"/>
<circle cx="453.4" cy="358.3" r="12.2" opacity="0.48"/>
<circle cx="465.6" cy="354.4" r="12.2" opacity="0.44"/>
<circle cx="465.4" cy="361.1" r="12.2" opacity="0.39"/>
<circle cx="478.8" cy="369.5" r="12.2" opacity="0.50"/>
<circle cx="486.5" cy="379.4" r="12.2" opacity="0.37"/>
<circle cx="496.7" cy="381.9" r="12.2" opacity="0.53"/>
<circle cx="502.9" cy="380.5" r="12.2" opacity="0.36"/>
<circle cx="514.6" cy="386.1" r="12.2" opacity="0.40"/>
<circle cx="519.4" cy="393.6" r="12.2" opacity="0.46"/>
<circle cx="518.5" cy="406.1" r="12.2" opacity="0.38"/>
<circle cx="533.1" cy="415.5" r="12.2" opacity="0.41"/>
<circle cx="535.5" cy="418" r="12.2" opacity="0.51"/>
<circle cx="543.8" cy="427.3" r="12.2" opacity="0.39"/>
<circle cx="554.8" cy="433.6" r="12.2" opacity="0.51"/>
<circle cx="559" cy="436.9" r="12.2" opacity="0.36"/>
<circle cx="569.9" cy="441.6" r="12.2" opacity="0.37"/>
<circle cx="576.2" cy="449.9" r="12.2" opacity="0.41"/>
<circle cx="583.7" cy="456.1" r="12.2" opacity="0.38"/>
<circle cx="580.2" cy="464.2" r="12.2" opacity="0.39"/>
<circle cx="587.5" cy="475.9" r="12.2" opacity="0.47"/>
<circle cx="595.7" cy="487.3" r="12.2" opacity="0.48"/>
<circle cx="593.6" cy="489.4" r="12.2" opacity="0.42"/>
<circle cx="284.8" cy="285.5" r="12.2" opacity="0.50"/>
<circle cx="295.3" cy="287.4" r="12.2" opacity="0.44"/>
<circle cx="319.8" cy="282.8" r="12.2" opacity="0.36"/>
<circle cx="308.3" cy="303.4" r="12.2" opacity="0.43"/>
<circle cx="332.4" cy="299.8" r="12.2" opacity="0.43"/>
<circle cx="323.3" cy="326.7" r="12.2" opacity="0.43"/>
<circle cx="361" cy="311.4" r="12.2" opacity="0.55"/>
<circle cx="342" cy="318" r="12.2" opacity="0.52"/>
<circle cx="359.1" cy="334.1" r="12.2" opacity="0.37"/>
<circle cx="376.5" cy="323.5" r="12.2" opacity="0.39"/>
<circle cx="349.7" cy="362" r="12.2" opacity="0.50"/>
<circle cx="353.4" cy="360.2" r="12.2" opacity="0.39"/>
<circle cx="385.2" cy="352.2" r="12.2" opacity="0.44"/>
<circle cx="383.1" cy="377.3" r="12.2" opacity="0.41"/>
<circle cx="390.7" cy="376.9" r="12.2" opacity="0.36"/>
<circle cx="431" cy="354.5" r="12.2" opacity="0.53"/>
<circle cx="404.5" cy="389.1" r="12.2" opacity="0.40"/>
<circle cx="421.3" cy="397.9" r="12.2" opacity="0.45"/>
<circle cx="422.5" cy="401.2" r="12.2" opacity="0.52"/>
<circle cx="429" cy="384.8" r="12.2" opacity="0.48"/>
<circle cx="438.4" cy="405.1" r="12.2" opacity="0.41"/>
<circle cx="439.5" cy="407.4" r="12.2" opacity="0.46"/>
<circle cx="430.2" cy="425.8" r="12.2" opacity="0.52"/>
<circle cx="459.1" cy="429" r="12.2" opacity="0.37"/>
<circle cx="476.8" cy="438.9" r="12.2" opacity="0.40"/>
<circle cx="459.6" cy="454.4" r="12.2" opacity="0.45"/>
<circle cx="486.1" cy="437.6" r="12.2" opacity="0.36"/>
<circle cx="490.8" cy="448" r="12.2" opacity="0.36"/>
<circle cx="521.3" cy="452.9" r="12.2" opacity="0.53"/>
<circle cx="484.1" cy="487.6" r="12.2" opacity="0.50"/>
<circle cx="496.9" cy="488.7" r="12.2" opacity="0.49"/>
<circle cx="503.4" cy="495.2" r="12.2" opacity="0.38"/>
<circle cx="513" cy="500.6" r="12.2" opacity="0.53"/>
<circle cx="528.7" cy="506" r="12.2" opacity="0.54"/>
<circle cx="545.6" cy="423.7" r="12.2" opacity="0.44"/>
<circle cx="561.4" cy="416" r="12.2" opacity="0.59"/>
<circle cx="518.7" cy="459.6" r="12.2" opacity="0.50"/>
<circle cx="556.8" cy="414.8" r="12.2" opacity="0.58"/>
<circle cx="522.2" cy="450.3" r="12.2" opacity="0.33"/>
<circle cx="552.6" cy="437.1" r="12.2" opacity="0.42"/>
<circle cx="553.1" cy="441.8" r="12.2" opacity="0.57"/>
<circle cx="568" cy="427.5" r="12.2" opacity="0.31"/>
<circle cx="574.7" cy="436.5" r="12.2" opacity="0.59"/>
<circle cx="557.2" cy="447.4" r="12.2" opacity="0.36"/>
<circle cx="570.4" cy="429.4" r="12.2" opacity="0.32"/>
<circle cx="547" cy="453.5" r="12.2" opacity="0.41"/>
<circle cx="567.8" cy="453.6" r="12.2" opacity="0.40"/>
<circle cx="564.7" cy="456.7" r="12.2" opacity="0.49"/>
<circle cx="503.7" cy="490.3" r="12.2" opacity="0.58"/>
<circle cx="587.4" cy="451.9" r="12.2" opacity="0.56"/>
<circle cx="589.5" cy="447.7" r="12.2" opacity="0.47"/>
<circle cx="594.4" cy="452.6" r="12.2" opacity="0.40"/>
<circle cx="567.1" cy="464.2" r="12.2" opacity="0.40"/>
<circle cx="579.1" cy="458.5" r="12.2" opacity="0.44"/>
<circle cx="570" cy="462.4" r="12.2" opacity="0.39"/>
<circle cx="599.7" cy="469.9" r="12.2" opacity="0.58"/>
<circle cx="539.6" cy="499.9" r="12.2" opacity="0.48"/>
<circle cx="581.3" cy="483.3" r="12.2" opacity="0.39"/>
<circle cx="576.6" cy="472.9" r="12.2" opacity="0.39"/>
<circle cx="521" cy="526.2" r="12.2" opacity="0.57"/>
<circle cx="542.9" cy="497.7" r="12.2" opacity="0.45"/>
<circle cx="603.6" cy="462.3" r="12.2" opacity="0.59"/>
<circle cx="608.4" cy="471.8" r="12.2" opacity="0.58"/>
<circle cx="543.9" cy="508.7" r="12.2" opacity="0.33"/>
<circle cx="545.2" cy="528.4" r="12.2" opacity="0.55"/>
<circle cx="603.8" cy="479.1" r="12.2" opacity="0.59"/>
<circle cx="534.6" cy="526.2" r="12.2" opacity="0.36"/>
<circle cx="591.8" cy="487.7" r="12.2" opacity="0.52"/>
<circle cx="587.3" cy="494.4" r="12.2" opacity="0.58"/>
<circle cx="576.3" cy="509" r="12.2" opacity="0.55"/>
<circle cx="585.2" cy="501" r="12.2" opacity="0.40"/>
<circle cx="554.1" cy="526.2" r="12.2" opacity="0.41"/>
<circle cx="543" cy="541.7" r="12.2" opacity="0.44"/>
<circle cx="599.8" cy="493.7" r="12.2" opacity="0.52"/>
<circle cx="535.6" cy="545.3" r="12.2" opacity="0.46"/>
<circle cx="621.6" cy="489.2" r="12.2" opacity="0.33"/>
<circle cx="540.5" cy="563.4" r="12.2" opacity="0.31"/>
<circle cx="618.9" cy="485.3" r="12.2" opacity="0.34"/>
<circle cx="584.9" cy="526.6" r="12.2" opacity="0.51"/>
<circle cx="542.4" cy="557.9" r="12.2" opacity="0.31"/>
<circle cx="623" cy="494" r="12.2" opacity="0.57"/>
<circle cx="601" cy="528.1" r="12.2" opacity="0.56"/>
<circle cx="576.8" cy="539.3" r="12.2" opacity="0.40"/>
<circle cx="612.5" cy="529" r="12.2" opacity="0.40"/>
<circle cx="625.5" cy="503.7" r="12.2" opacity="0.43"/>
<circle cx="622.7" cy="517.4" r="12.2" opacity="0.41"/>
<circle cx="597.1" cy="535.5" r="12.2" opacity="0.48"/>
<circle cx="603.8" cy="528.6" r="12.2" opacity="0.57"/>
<circle cx="606.6" cy="539.1" r="12.2" opacity="0.51"/>
<circle cx="642.6" cy="507.3" r="12.2" opacity="0.45"/>
<circle cx="648.6" cy="510.8" r="12.2" opacity="0.54"/>
<circle cx="612.4" cy="537" r="12.2" opacity="0.33"/>
<circle cx="617.8" cy="527.2" r="12.2" opacity="0.58"/>
<circle cx="634.7" cy="523.7" r="12.2" opacity="0.42"/>
<circle cx="560.2" cy="586.3" r="12.2" opacity="0.57"/>
<circle cx="612.8" cy="553.9" r="12.2" opacity="0.58"/>
<circle cx="623.9" cy="533.2" r="12.2" opacity="0.44"/>
<circle cx="628.7" cy="538.4" r="12.2" opacity="0.44"/>
<circle cx="618.8" cy="535.6" r="12.2" opacity="0.39"/>
<circle cx="657.6" cy="525.4" r="12.2" opacity="0.38"/>
<circle cx="577.5" cy="578" r="12.2" opacity="0.39"/>
<circle cx="617.7" cy="542.9" r="12.2" opacity="0.56"/>
<circle cx="658.7" cy="526" r="12.2" opacity="0.52"/>
<circle cx="640.6" cy="551.6" r="12.2" opacity="0.53"/>
<circle cx="593.7" cy="571" r="12.2" opacity="0.57"/>
<circle cx="565.6" cy="598.9" r="12.2" opacity="0.53"/>
<circle cx="652.4" cy="534.8" r="12.2" opacity="0.45"/>
<circle cx="662.9" cy="525.9" r="12.2" opacity="0.52"/>
<circle cx="584.4" cy="601.2" r="12.2" opacity="0.54"/>
<circle cx="606.3" cy="577.7" r="12.2" opacity="0.45"/>
<circle cx="649.9" cy="546" r="12.2" opacity="0.35"/>
<circle cx="655.6" cy="554.2" r="12.2" opacity="0.35"/>
<circle cx="659.4" cy="543.3" r="12.2" opacity="0.44"/>
<circle cx="672.8" cy="544.1" r="12.2" opacity="0.59"/>
<circle cx="672.9" cy="535.6" r="12.2" opacity="0.57"/>
<circle cx="665.2" cy="541.8" r="12.2" opacity="0.39"/>
<circle cx="613.6" cy="579.1" r="12.2" opacity="0.48"/>
<circle cx="652.2" cy="579.5" r="12.2" opacity="0.39"/>
<circle cx="655.5" cy="562.5" r="12.2" opacity="0.37"/>
<circle cx="642.9" cy="578.6" r="12.2" opacity="0.58"/>
<circle cx="677" cy="552.2" r="12.2" opacity="0.47"/>
<circle cx="665.1" cy="565" r="12.2" opacity="0.41"/>
<circle cx="595.4" cy="620.1" r="12.2" opacity="0.34"/>
<circle cx="642.4" cy="600" r="12.2" opacity="0.45"/>
<circle cx="659.7" cy="566.3" r="12.2" opacity="0.47"/>
<circle cx="668.7" cy="557.4" r="12.2" opacity="0.49"/>
<circle cx="683.6" cy="552.1" r="12.2" opacity="0.36"/>
<circle cx="682.7" cy="552.4" r="12.2" opacity="0.54"/>
<circle cx="683.2" cy="569.9" r="12.2" opacity="0.41"/>
<circle cx="686.2" cy="570.1" r="12.2" opacity="0.46"/>
<circle cx="657.5" cy="580.8" r="12.2" opacity="0.50"/>
<circle cx="677.9" cy="563.8" r="12.2" opacity="0.41"/>
<circle cx="613" cy="623.9" r="12.2" opacity="0.44"/>
<circle cx="687" cy="581.9" r="12.2" opacity="0.34"/>
<circle cx="623.3" cy="601.2" r="12.2" opacity="0.39"/>
<circle cx="613.3" cy="636.3" r="12.2" opacity="0.36"/>
<circle cx="649.7" cy="598" r="12.2" opacity="0.31"/>
<circle cx="647.1" cy="618" r="12.2" opacity="0.47"/>
<circle cx="678" cy="580" r="12.2" opacity="0.35"/>
<circle cx="601.3" cy="647.3" r="12.2" opacity="0.30"/>
<circle cx="654.5" cy="598.8" r="12.2" opacity="0.31"/>
<circle cx="684.9" cy="581.2" r="12.2" opacity="0.50"/>
<circle cx="645.5" cy="631.6" r="12.2" opacity="0.36"/>
<circle cx="656.6" cy="620.6" r="12.2" opacity="0.49"/>
<circle cx="657.8" cy="612.4" r="12.2" opacity="0.53"/>
<circle cx="675.3" cy="597.2" r="12.2" opacity="0.52"/>
<circle cx="669.4" cy="595.9" r="12.2" opacity="0.51"/>
<circle cx="666.5" cy="611.4" r="12.2" opacity="0.43"/>
<circle cx="706.2" cy="585.3" r="12.2" opacity="0.50"/>
<circle cx="611.3" cy="660.2" r="12.2" opacity="0.42"/>
<circle cx="703.6" cy="590.7" r="12.2" opacity="0.47"/>
<circle cx="703.2" cy="585" r="12.2" opacity="0.57"/>
<circle cx="694.4" cy="601.7" r="12.2" opacity="0.52"/>
<circle cx="683.6" cy="612.2" r="12.2" opacity="0.39"/>
<circle cx="638.1" cy="659.3" r="12.2" opacity="0.33"/>
<circle cx="689.9" cy="625.4" r="12.2" opacity="0.55"/>
<circle cx="715.4" cy="592.3" r="12.2" opacity="0.52"/>
<circle cx="712.3" cy="591.8" r="12.2" opacity="0.46"/>
<circle cx="632" cy="661.1" r="12.2" opacity="0.45"/>
<circle cx="687.9" cy="615.6" r="12.2" opacity="0.45"/>
<circle cx="688.7" cy="615.7" r="12.2" opacity="0.56"/>
<circle cx="715.5" cy="602" r="12.2" opacity="0.47"/>
<circle cx="643.8" cy="651.8" r="12.2" opacity="0.52"/>
<circle cx="710.2" cy="614.8" r="12.2" opacity="0.44"/>
<circle cx="693.7" cy="623.9" r="12.2" opacity="0.31"/>
<circle cx="651.9" cy="660.8" r="12.2" opacity="0.56"/>
<circle cx="718.6" cy="607.6" r="12.2" opacity="0.43"/>
<circle cx="626.3" cy="676.7" r="12.2" opacity="0.56"/>
<circle cx="708.1" cy="613.5" r="12.2" opacity="0.41"/>
<circle cx="640.8" cy="672.8" r="12.2" opacity="0.45"/>
<circle cx="639" cy="673.6" r="12.2" opacity="0.51"/>
<circle cx="721.9" cy="617.1" r="12.2" opacity="0.38"/>
<circle cx="710.6" cy="625.8" r="12.2" opacity="0.44"/>
<circle cx="708" cy="619.2" r="12.2" opacity="0.52"/>
<circle cx="673.9" cy="658.2" r="12.2" opacity="0.42"/>
<circle cx="723.6" cy="610.8" r="12.2" opacity="0.50"/>
<circle cx="712.2" cy="626.9" r="12.2" opacity="0.52"/>
<circle cx="652.9" cy="677" r="12.2" opacity="0.54"/>
<circle cx="677.2" cy="646.4" r="12.2" opacity="0.47"/>
<circle cx="714" cy="643" r="12.2" opacity="0.59"/>
<circle cx="733.1" cy="635.1" r="12.2" opacity="0.53"/>
<circle cx="645.1" cy="680" r="12.2" opacity="0.33"/>
<circle cx="736.5" cy="632.5" r="12.2" opacity="0.53"/>
<circle cx="700.6" cy="652.9" r="12.2" opacity="0.58"/>
<circle cx="677.1" cy="662.4" r="12.2" opacity="0.58"/>
<circle cx="707.3" cy="653.1" r="12.2" opacity="0.51"/>
<circle cx="676.6" cy="668.6" r="12.2" opacity="0.46"/>
<circle cx="668.5" cy="678.6" r="12.2" opacity="0.56"/>
<circle cx="653.7" cy="679" r="12.2" opacity="0.53"/>
<circle cx="746.7" cy="642.2" r="12.2" opacity="0.36"/>
<circle cx="735.3" cy="648.9" r="12.2" opacity="0.37"/>
<circle cx="716" cy="658.4" r="12.2" opacity="0.53"/>
<circle cx="680.8" cy="676" r="12.2" opacity="0.48"/>
<circle cx="743" cy="652.1" r="12.2" opacity="0.57"/>
<circle cx="739.3" cy="640.4" r="12.2" opacity="0.35"/>
<circle cx="745" cy="653.3" r="12.2" opacity="0.35"/>
<circle cx="739.3" cy="656.2" r="12.2" opacity="0.56"/>
<circle cx="706.3" cy="675" r="12.2" opacity="0.57"/>
<circle cx="700.6" cy="680" r="12.2" opacity="0.37"/>
<circle cx="707" cy="671.1" r="12.2" opacity="0.44"/>
<circle cx="651.3" cy="704" r="12.2" opacity="0.39"/>
<circle cx="739.9" cy="665.7" r="12.2" opacity="0.52"/>
<circle cx="702.3" cy="685.2" r="12.2" opacity="0.48"/>
<circle cx="748.3" cy="661.3" r="12.2" opacity="0.51"/>
<circle cx="650.4" cy="701.6" r="12.2" opacity="0.59"/>
<circle cx="730.6" cy="675.5" r="12.2" opacity="0.58"/>
<circle cx="726.3" cy="683.4" r="12.2" opacity="0.39"/>
<circle cx="757.1" cy="667.8" r="12.2" opacity="0.46"/>
<circle cx="751.8" cy="666.7" r="12.2" opacity="0.53"/>
<circle cx="723.3" cy="670.7" r="12.2" opacity="0.36"/>
<circle cx="662" cy="720.6" r="12.2" opacity="0.40"/>
<circle cx="742.1" cy="673.3" r="12.2" opacity="0.31"/>
<circle cx="711.6" cy="674.3" r="12.2" opacity="0.52"/>
<circle cx="746.7" cy="677.2" r="12.2" opacity="0.33"/>
<circle cx="679.7" cy="700.5" r="12.2" opacity="0.38"/>
<circle cx="650.4" cy="718.3" r="12.2" opacity="0.40"/>
<circle cx="664.6" cy="716.8" r="12.2" opacity="0.53"/>
<circle cx="739.4" cy="692.4" r="12.2" opacity="0.40"/>
<circle cx="744.1" cy="680.3" r="12.2" opacity="0.58"/>
<circle cx="723.9" cy="696.4" r="12.2" opacity="0.32"/>
<circle cx="708.1" cy="715.8" r="12.2" opacity="0.43"/>
<circle cx="769.9" cy="684.2" r="12.2" opacity="0.52"/>
<circle cx="653.1" cy="734.4" r="12.2" opacity="0.40"/>
<circle cx="737.8" cy="691.1" r="12.2" opacity="0.51"/>
<circle cx="752.1" cy="678.1" r="12.2" opacity="0.32"/>
<circle cx="754.9" cy="681.8" r="12.2" opacity="0.31"/>
<circle cx="669.1" cy="735" r="12.2" opacity="0.42"/>
<circle cx="695" cy="722.7" r="12.2" opacity="0.59"/>
<circle cx="770.2" cy="683.3" r="12.2" opacity="0.39"/>
<circle cx="718.6" cy="717.1" r="12.2" opacity="0.49"/>
<circle cx="713" cy="709.5" r="12.2" opacity="0.51"/>
<circle cx="697.6" cy="723.6" r="12.2" opacity="0.50"/>
<circle cx="767.3" cy="679.4" r="12.2" opacity="0.42"/>
<circle cx="763.8" cy="682.6" r="12.2" opacity="0.56"/>
<circle cx="732.1" cy="714" r="12.2" opacity="0.53"/>
<circle cx="767.3" cy="681.3" r="12.2" opacity="0.43"/>
<circle cx="727.5" cy="710.1" r="12.2" opacity="0.59"/>
<circle cx="699.5" cy="739.9" r="12.2" opacity="0.52"/>
<circle cx="749.7" cy="689.4" r="12.2" opacity="0.56"/>
<circle cx="765.6" cy="688.2" r="12.2" opacity="0.52"/>
<circle cx="773.5" cy="685.1" r="12.2" opacity="0.57"/>
<circle cx="758.3" cy="694.1" r="12.2" opacity="0.53"/>
<circle cx="729.2" cy="722.5" r="12.2" opacity="0.39"/>
<circle cx="706.6" cy="727.1" r="12.2" opacity="0.38"/>
<circle cx="705.1" cy="740.2" r="12.2" opacity="0.35"/>
<circle cx="702.1" cy="742.3" r="12.2" opacity="0.36"/>
<circle cx="732.4" cy="716.8" r="12.2" opacity="0.42"/>
<circle cx="722.8" cy="715.3" r="12.2" opacity="0.42"/>
<circle cx="761" cy="700.3" r="12.2" opacity="0.41"/>
<circle cx="746.6" cy="723.3" r="12.2" opacity="0.37"/>
<circle cx="697.5" cy="761.2" r="12.2" opacity="0.33"/>
<circle cx="744" cy="716.7" r="12.2" opacity="0.34"/>
<circle cx="690.9" cy="766.6" r="12.2" opacity="0.54"/>
<circle cx="729.5" cy="742.3" r="12.2" opacity="0.35"/>
<circle cx="707" cy="734.9" r="12.2" opacity="0.37"/>
<circle cx="769.3" cy="705.6" r="12.2" opacity="0.42"/>
<circle cx="719.8" cy="753.1" r="12.2" opacity="0.46"/>
<circle cx="724.2" cy="752.1" r="12.2" opacity="0.52"/>
<circle cx="759.5" cy="732.4" r="12.2" opacity="0.38"/>
<circle cx="764.3" cy="725.6" r="12.2" opacity="0.36"/>
<circle cx="765.6" cy="719.6" r="12.2" opacity="0.52"/>
<circle cx="782.9" cy="706.8" r="12.2" opacity="0.49"/>
<circle cx="711" cy="771.3" r="12.2" opacity="0.41"/>
<circle cx="755.2" cy="726.1" r="12.2" opacity="0.31"/>
<circle cx="781.5" cy="709.8" r="12.2" opacity="0.48"/>
<circle cx="736.9" cy="755.5" r="12.2" opacity="0.55"/>
<circle cx="762" cy="744.5" r="12.2" opacity="0.56"/>
<circle cx="719.4" cy="764.6" r="12.2" opacity="0.37"/>
<circle cx="718.7" cy="767.6" r="12.2" opacity="0.38"/>
<circle cx="785.5" cy="715.9" r="12.2" opacity="0.49"/>
<circle cx="737.7" cy="765.8" r="12.2" opacity="0.58"/>
<circle cx="787.8" cy="715.3" r="12.2" opacity="0.56"/>
<circle cx="785.9" cy="730.1" r="12.2" opacity="0.50"/>
<circle cx="723.7" cy="763.9" r="12.2" opacity="0.36"/>
<circle cx="764.5" cy="737.8" r="12.2" opacity="0.46"/>
<circle cx="744.6" cy="755.7" r="12.2" opacity="0.57"/>
<circle cx="738.6" cy="769.8" r="12.2" opacity="0.49"/>
<circle cx="765.3" cy="751.4" r="12.2" opacity="0.37"/>
<circle cx="760.2" cy="737.2" r="12.2" opacity="0.35"/>
<circle cx="751.9" cy="750.2" r="12.2" opacity="0.47"/>
<circle cx="800.8" cy="721.1" r="12.2" opacity="0.44"/>
<circle cx="777.9" cy="733.7" r="12.2" opacity="0.55"/>
<circle cx="789.9" cy="718.7" r="12.2" opacity="0.45"/>
<circle cx="719.9" cy="797.8" r="12.2" opacity="0.43"/>
<circle cx="795.6" cy="732.7" r="12.2" opacity="0.50"/>
<circle cx="794.2" cy="735.4" r="12.2" opacity="0.54"/>
<circle cx="791.8" cy="731.3" r="12.2" opacity="0.58"/>
<circle cx="764.5" cy="767.1" r="12.2" opacity="0.57"/>
<circle cx="783.8" cy="742.8" r="12.2" opacity="0.59"/>
<circle cx="742.3" cy="788.9" r="12.2" opacity="0.44"/>
<circle cx="769.5" cy="752.4" r="12.2" opacity="0.48"/>
<circle cx="792.3" cy="735.6" r="12.2" opacity="0.31"/>
<circle cx="776.5" cy="758.4" r="12.2" opacity="0.45"/>
<circle cx="727.8" cy="793" r="12.2" opacity="0.43"/>
<circle cx="805.4" cy="741.3" r="12.2" opacity="0.38"/>
<circle cx="733.3" cy="799" r="12.2" opacity="0.51"/>
<circle cx="749.7" cy="777.8" r="12.2" opacity="0.40"/>
<circle cx="718.2" cy="813.1" r="12.2" opacity="0.34"/>
<circle cx="787.3" cy="754.3" r="12.2" opacity="0.42"/>
<circle cx="782.3" cy="769.8" r="12.2" opacity="0.34"/>
<circle cx="808.8" cy="737.5" r="12.2" opacity="0.36"/>
<circle cx="785.1" cy="760" r="12.2" opacity="0.57"/>
<circle cx="754.3" cy="799.8" r="12.2" opacity="0.32"/>
<circle cx="812.9" cy="761" r="12.2" opacity="0.51"/>
<circle cx="762.5" cy="802.3" r="12.2" opacity="0.51"/>
<circle cx="781" cy="773.5" r="12.2" opacity="0.32"/>
<circle cx="781.8" cy="775.6" r="12.2" opacity="0.38"/>
<circle cx="814" cy="760.4" r="12.2" opacity="0.38"/>
<circle cx="782.8" cy="775.1" r="12.2" opacity="0.51"/>
<circle cx="741.1" cy="804.4" r="12.2" opacity="0.51"/>
<circle cx="732.3" cy="821.7" r="12.2" opacity="0.32"/>
<circle cx="800.1" cy="769.9" r="12.2" opacity="0.44"/>
<circle cx="741.9" cy="809.5" r="12.2" opacity="0.40"/>
<circle cx="746.8" cy="800.6" r="12.2" opacity="0.55"/>
<circle cx="809.7" cy="752" r="12.2" opacity="0.58"/>
<circle cx="764.6" cy="807.1" r="12.2" opacity="0.37"/>
<circle cx="800.6" cy="767.8" r="12.2" opacity="0.37"/>
<circle cx="812.1" cy="764.4" r="12.2" opacity="0.40"/>
<circle cx="793.9" cy="783.8" r="12.2" opacity="0.49"/>
<circle cx="750.7" cy="824.6" r="12.2" opacity="0.52"/>
<circle cx="763.9" cy="807.7" r="12.2" opacity="0.55"/>
<circle cx="811.4" cy="776.2" r="12.2" opacity="0.50"/>
<circle cx="819" cy="760.6" r="12.2" opacity="0.32"/>
<circle cx="827.4" cy="759.3" r="12.2" opacity="0.31"/>
<circle cx="757" cy="814.4" r="12.2" opacity="0.58"/>
<circle cx="789.6" cy="805.6" r="12.2" opacity="0.48"/>
<circle cx="792.3" cy="795.9" r="12.2" opacity="0.42"/>
<circle cx="788" cy="795.4" r="12.2" opacity="0.47"/>
<circle cx="813.4" cy="778.9" r="12.2" opacity="0.40"/>
<circle cx="834.3" cy="764" r="12.2" opacity="0.42"/>
<circle cx="817.7" cy="786.7" r="12.2" opacity="0.33"/>
<circle cx="818.6" cy="769.6" r="12.2" opacity="0.38"/>
<circle cx="754.5" cy="829" r="12.2" opacity="0.53"/>
<circle cx="805.4" cy="793.3" r="12.2" opacity="0.50"/>
<circle cx="842.1" cy="787" r="12.2" opacity="0.33"/>
<circle cx="811.4" cy="801.9" r="12.2" opacity="0.32"/>
<circle cx="755.1" cy="842.1" r="12.2" opacity="0.37"/>
<circle cx="753.3" cy="851.6" r="12.2" opacity="0.47"/>
<circle cx="836.1" cy="794.7" r="12.2" opacity="0.37"/>
<circle cx="832.6" cy="781.3" r="12.2" opacity="0.49"/>
<circle cx="839.2" cy="776.5" r="12.2" opacity="0.32"/>
<circle cx="837.3" cy="792" r="12.2" opacity="0.32"/>
<circle cx="787.5" cy="829.5" r="12.2" opacity="0.39"/>
<circle cx="847.1" cy="782.8" r="12.2" opacity="0.57"/>
<circle cx="821.3" cy="796.7" r="12.2" opacity="0.41"/>
<circle cx="810.2" cy="826.6" r="12.2" opacity="0.53"/>
<circle cx="813" cy="824.2" r="12.2" opacity="0.51"/>
<circle cx="761.4" cy="859.9" r="12.2" opacity="0.33"/>
<circle cx="845.6" cy="792.3" r="12.2" opacity="0.59"/>
<circle cx="828.6" cy="786.9" r="12.2" opacity="0.47"/>
<circle cx="841.6" cy="798.6" r="12.2" opacity="0.32"/>
<circle cx="764.5" cy="858" r="12.2" opacity="0.54"/>
<circle cx="777.5" cy="853.7" r="12.2" opacity="0.42"/>
<circle cx="827.3" cy="815.8" r="12.2" opacity="0.39"/>
<circle cx="820.3" cy="815.3" r="12.2" opacity="0.50"/>
<circle cx="810.5" cy="814.6" r="12.2" opacity="0.52"/>
<circle cx="852.4" cy="797.4" r="12.2" opacity="0.36"/>
<circle cx="810.6" cy="825.3" r="12.2" opacity="0.32"/>
<circle cx="798.1" cy="840.6" r="12.2" opacity="0.56"/>
<circle cx="849.6" cy="797.2" r="12.2" opacity="0.46"/>
<circle cx="837.6" cy="810.9" r="12.2" opacity="0.50"/>
<circle cx="782.9" cy="842.7" r="12.2" opacity="0.38"/>
<circle cx="844.3" cy="820.9" r="12.2" opacity="0.47"/>
<circle cx="835.3" cy="822.5" r="12.2" opacity="0.30"/>
<circle cx="784.6" cy="873.2" r="12.2" opacity="0.36"/>
<circle cx="838.8" cy="836.4" r="12.2" opacity="0.37"/>
<circle cx="807.4" cy="849" r="12.2" opacity="0.48"/>
<circle cx="835.2" cy="813.3" r="12.2" opacity="0.42"/>
<circle cx="861.1" cy="800.5" r="12.2" opacity="0.35"/>
<circle cx="785.9" cy="862.4" r="12.2" opacity="0.43"/>
<circle cx="863.6" cy="804.9" r="12.2" opacity="0.43"/>
<circle cx="835.1" cy="834.9" r="12.2" opacity="0.33"/>
<circle cx="838.7" cy="817.4" r="12.2" opacity="0.42"/>
<circle cx="834.7" cy="840.7" r="12.2" opacity="0.31"/>
<circle cx="803.5" cy="854" r="12.2" opacity="0.60"/>
<circle cx="854.6" cy="827.3" r="12.2" opacity="0.30"/>
<circle cx="829.9" cy="846.4" r="12.2" opacity="0.39"/>
<circle cx="835.8" cy="841.6" r="12.2" opacity="0.40"/>
<circle cx="862.5" cy="834.2" r="12.2" opacity="0.34"/>
<circle cx="860.2" cy="823" r="12.2" opacity="0.49"/>
<circle cx="845.6" cy="842.1" r="12.2" opacity="0.45"/>
<circle cx="837.1" cy="836.8" r="12.2" opacity="0.59"/>
<circle cx="878.7" cy="832.5" r="12.2" opacity="0.53"/>
<circle cx="808.1" cy="881.8" r="12.2" opacity="0.57"/>
<circle cx="850.8" cy="863" r="12.2" opacity="0.30"/>
<circle cx="847.2" cy="861.9" r="12.2" opacity="0.51"/>
<circle cx="801.9" cy="882" r="12.2" opacity="0.46"/>
<circle cx="858.5" cy="846" r="12.2" opacity="0.38"/>
<circle cx="878" cy="852" r="12.2" opacity="0.46"/>
<circle cx="820.6" cy="872.2" r="12.2" opacity="0.60"/>
<circle cx="808" cy="879.9" r="12.2" opacity="0.37"/>
<circle cx="837" cy="865.5" r="12.2" opacity="0.52"/>
<circle cx="847.6" cy="864.4" r="12.2" opacity="0.30"/>
<circle cx="843.5" cy="864.6" r="12.2" opacity="0.56"/>
<circle cx="814" cy="883.2" r="12.2" opacity="0.43"/>
<circle cx="874.7" cy="847.8" r="12.2" opacity="0.36"/>
<circle cx="849.6" cy="866.7" r="12.2" opacity="0.57"/>
<circle cx="808.1" cy="906.9" r="12.2" opacity="0.40"/>
<circle cx="799.4" cy="897.2" r="12.2" opacity="0.55"/>
<circle cx="865.3" cy="864.7" r="12.2" opacity="0.37"/>
<circle cx="863.2" cy="872.6" r="12.2" opacity="0.45"/>
<circle cx="878.9" cy="867.6" r="12.2" opacity="0.38"/>
<circle cx="881.4" cy="855.8" r="12.2" opacity="0.50"/>
<circle cx="859.5" cy="874.5" r="12.2" opacity="0.42"/>
<circle cx="889.5" cy="868.7" r="12.2" opacity="0.56"/>
<circle cx="813.1" cy="904.3" r="12.2" opacity="0.37"/>
<circle cx="836.1" cy="893.5" r="12.2" opacity="0.54"/>
<circle cx="874" cy="885.9" r="12.2" opacity="0.31"/>
<circle cx="824" cy="897.6" r="12.2" opacity="0.55"/>
<circle cx="881.9" cy="875.6" r="12.2" opacity="0.57"/>
<circle cx="865.9" cy="881.2" r="12.2" opacity="0.30"/>
<circle cx="888.7" cy="885.1" r="12.2" opacity="0.50"/>
<circle cx="856.6" cy="879.8" r="12.2" opacity="0.50"/>
<circle cx="866.9" cy="885" r="12.2" opacity="0.35"/>
<circle cx="860.9" cy="890.8" r="12.2" opacity="0.58"/>
<circle cx="856.5" cy="902.8" r="12.2" opacity="0.30"/>
<circle cx="832.4" cy="916.2" r="12.2" opacity="0.35"/>
<circle cx="861.4" cy="908.9" r="12.2" opacity="0.59"/>
<circle cx="830.5" cy="906.2" r="12.2" opacity="0.44"/>
<circle cx="834.4" cy="921.7" r="12.2" opacity="0.31"/>
<circle cx="879.6" cy="894" r="12.2" opacity="0.44"/>
<circle cx="878" cy="894.1" r="12.2" opacity="0.39"/>
<circle cx="883.7" cy="901.3" r="12.2" opacity="0.30"/>
<circle cx="871.4" cy="899.5" r="12.2" opacity="0.46"/>
<circle cx="841.8" cy="908.5" r="12.2" opacity="0.54"/>
<circle cx="885.5" cy="900" r="12.2" opacity="0.58"/>
<circle cx="846.5" cy="913.9" r="12.2" opacity="0.55"/>
<circle cx="895.6" cy="896.9" r="12.2" opacity="0.47"/>
<circle cx="876.8" cy="908" r="12.2" opacity="0.45"/>
<circle cx="882.6" cy="903.8" r="12.2" opacity="0.35"/>
<circle cx="879.6" cy="920.9" r="12.2" opacity="0.52"/>
<circle cx="864.1" cy="924.4" r="12.2" opacity="0.47"/>
<circle cx="880.3" cy="908.8" r="12.2" opacity="0.55"/>
<circle cx="853.9" cy="935.9" r="12.2" opacity="0.41"/>
<circle cx="889" cy="899.9" r="12.2" opacity="0.53"/>
<circle cx="875.3" cy="914.8" r="12.2" opacity="0.54"/>
<circle cx="878.6" cy="928.8" r="12.2" opacity="0.50"/>
<circle cx="875.6" cy="925.5" r="12.2" opacity="0.35"/>
<circle cx="880" cy="912.2" r="12.2" opacity="0.46"/>
<circle cx="870.5" cy="949" r="12.2" opacity="0.56"/>
<circle cx="898.3" cy="915.5" r="12.2" opacity="0.55"/>
<circle cx="897" cy="924.4" r="12.2" opacity="0.52"/>
<circle cx="901.8" cy="920.5" r="12.2" opacity="0.44"/>
<circle cx="886.7" cy="944.7" r="12.2" opacity="0.45"/>
<circle cx="902.4" cy="926.4" r="12.2" opacity="0.56"/>
<circle cx="907.2" cy="935.6" r="12.2" opacity="0.51"/>
<circle cx="895.1" cy="945.3" r="12.2" opacity="0.30"/>
<circle cx="903.8" cy="939.8" r="12.2" opacity="0.34"/>
<circle cx="888.2" cy="959" r="12.2" opacity="0.49"/>
<circle cx="899" cy="937.2" r="12.2" opacity="0.58"/>
<circle cx="906.1" cy="947.1" r="12.2" opacity="0.37"/>
<circle cx="894.2" cy="960.7" r="12.2" opacity="0.51"/>
<circle cx="905.2" cy="959.2" r="12.2" opacity="0.42"/>
<circle cx="913.7" cy="943.9" r="12.2" opacity="0.35"/>
<circle cx="918.6" cy="967.9" r="12.2" opacity="0.49"/>
<circle cx="918.6" cy="960.5" r="12.2" opacity="0.54"/>
<circle cx="909.5" cy="962.7" r="12.2" opacity="0.35"/>
<circle cx="916.7" cy="957.6" r="12.2" opacity="0.30"/>
<circle cx="922.7" cy="968.9" r="12.2" opacity="0.41"/>
<circle cx="926.5" cy="972.7" r="12.2" opacity="0.53"/>
<circle cx="926" cy="973.9" r="12.2" opacity="0.39"/>
<circle cx="933.4" cy="980.4" r="12.2" opacity="0.34"/>
<circle cx="933.8" cy="980.5" r="12.2" opacity="0.38"/>
<circle cx="933.8" cy="995.9" r="12.2" opacity="0.49"/>
<circle cx="927.1" cy="997.8" r="12.2" opacity="0.42"/>
<circle cx="937.9" cy="1001" r="12.2" opacity="0.52"/>
<circle cx="945.6" cy="1009.3" r="12.2" opacity="0.50"/>
<circle cx="958.7" cy="1019.5" r="12.2" opacity="0.34"/>
<circle cx="949.3" cy="1005.1" r="12.2" opacity="0.60"/>
<circle cx="954.7" cy="1013.5" r="12.2" opacity="0.53"/>
<circle cx="955.2" cy="1017.1" r="12.2" opacity="0.31"/>
<circle cx="962" cy="1031" r="12.2" opacity="0.58"/>
<circle cx="956.8" cy="1027.1" r="12.2" opacity="0.42"/>
<circle cx="956.4" cy="1038.4" r="12.2" opacity="0.38"/>
<circle cx="435" cy="318" r="12.2" opacity="0.45"/>
<circle cx="937" cy="907" r="12.2" opacity="0.42"/>
<circle cx="921" cy="927" r="12.2" opacity="0.47"/>
<circle cx="962" cy="979" r="12.2" opacity="0.57"/>
<circle cx="757" cy="845" r="12.2" opacity="0.46"/>
<circle cx="805" cy="896" r="12.2" opacity="0.58"/>
<circle cx="801" cy="925" r="12.2" opacity="0.59"/>
<circle cx="807" cy="935" r="12.2" opacity="0.45"/>
<circle cx="830" cy="961" r="12.2" opacity="0.43"/>
<circle cx="842" cy="961" r="12.2" opacity="0.42"/>
<circle cx="845" cy="960" r="12.2" opacity="0.46"/>
<circle cx="987" cy="930" r="12.2" opacity="0.45"/>
<circle cx="1006" cy="1017" r="12.2" opacity="0.45"/>
<circle cx="976" cy="1086" r="12.2" opacity="0.45"/>
<circle cx="1001" cy="1092" r="12.2" opacity="0.45"/>
<circle cx="1077" cy="1123" r="12.2" opacity="0.95"/>
<circle cx="1151" cy="1247" r="12.2" opacity="0.45"/>
<circle cx="442" cy="432" r="12.2" opacity="0.95"/>
<circle cx="735" cy="770" r="12.2" opacity="0.95"/>
<circle cx="588" cy="620" r="12.2" opacity="0.95"/>
</g>
<g fill="#ffa500" stroke="#000" stroke-width="1.2">
<circle cx="241.5" cy="276.6" r="12.2" opacity="0.85"/>
<circle cx="243.4" cy="278.2" r="12.2" opacity="1.00"/>
<circle cx="245.3" cy="272.5" r="12.2" opacity="1.00"/>
<circle cx="246.1" cy="276.3" r="12.2" opacity="1.00"/>
<circle cx="244.1" cy="275.9" r="12.2" opacity="0.86"/>
<circle cx="247.8" cy="280.1" r="12.2" opacity="0.86"/>
<circle cx="244.8" cy="277.6" r="12.2" opacity="0.94"/>
<circle cx="247.8" cy="279.4" r="12.2" opacity="0.86"/>
<circle cx="248.8" cy="279.9" r="12.2" opacity="0.91"/>
<circle cx="243.7" cy="285" r="12.2" opacity="1.00"/>
<circle cx="246.7" cy="286.3" r="12.2" opacity="0.93"/>
<circle cx="251.5" cy="278.9" r="12.2" opacity="0.91"/>
<circle cx="248.6" cy="288.6" r="12.2" opacity="0.86"/>
<circle cx="252.6" cy="279.8" r="12.2" opacity="0.96"/>
<circle cx="253.8" cy="290.8" r="12.2" opacity="0.95"/>
<circle cx="257" cy="290.3" r="12.2" opacity="0.95"/>
<circle cx="255.5" cy="285.7" r="12.2" opacity="1.00"/>
<circle cx="253.1" cy="288.8" r="12.2" opacity="0.90"/>
<circle cx="260.7" cy="286.3" r="12.2" opacity="0.93"/>
<circle cx="260" cy="290.4" r="12.2" opacity="0.94"/>
<circle cx="256.7" cy="291.6" r="12.2" opacity="0.91"/>
<circle cx="262.4" cy="291.1" r="12.2" opacity="0.87"/>
<circle cx="256.9" cy="297.8" r="12.2" opacity="0.87"/>
<circle cx="254.9" cy="296" r="12.2" opacity="1.00"/>
<circle cx="257.9" cy="293.8" r="12.2" opacity="0.86"/>
<circle cx="259.6" cy="288.7" r="12.2" opacity="1.00"/>
<circle cx="263.9" cy="305.2" r="12.2" opacity="0.87"/>
<circle cx="265.3" cy="290.3" r="12.2" opacity="0.91"/>
<circle cx="270.4" cy="297.4" r="12.2" opacity="0.91"/>
<circle cx="266" cy="300.6" r="12.2" opacity="0.89"/>
<circle cx="263.2" cy="300.9" r="12.2" opacity="1.00"/>
<circle cx="268.7" cy="299" r="12.2" opacity="0.99"/>
<circle cx="262.7" cy="304.3" r="12.2" opacity="0.92"/>
<circle cx="273.1" cy="299.4" r="12.2" opacity="0.90"/>
<circle cx="272.8" cy="300.3" r="12.2" opacity="0.92"/>
<circle cx="273.4" cy="303" r="12.2" opacity="0.87"/>
<circle cx="270.7" cy="304" r="12.2" opacity="0.87"/>
<circle cx="266.2" cy="309.1" r="12.2" opacity="0.98"/>
<circle cx="272.4" cy="306.9" r="12.2" opacity="1.00"/>
<circle cx="278.1" cy="303.3" r="12.2" opacity="0.96"/>
<circle cx="275.9" cy="302.3" r="12.2" opacity="0.91"/>
<circle cx="276" cy="305.1" r="12.2" opacity="0.90"/>
<circle cx="274.3" cy="301.5" r="12.2" opacity="0.89"/>
<circle cx="273.2" cy="308.1" r="12.2" opacity="0.89"/>
<circle cx="275.2" cy="318.5" r="12.2" opacity="1.00"/>
<circle cx="281.8" cy="310.7" r="12.2" opacity="1.00"/>
<circle cx="284.6" cy="317.3" r="12.2" opacity="0.85"/>
<circle cx="288" cy="312.4" r="12.2" opacity="0.96"/>
<circle cx="277.1" cy="315.7" r="12.2" opacity="0.91"/>
<circle cx="278.4" cy="320.1" r="12.2" opacity="0.90"/>
<circle cx="288" cy="314.5" r="12.2" opacity="1.00"/>
<circle cx="288.4" cy="317.9" r="12.2" opacity="0.90"/>
<circle cx="290.5" cy="316.4" r="12.2" opacity="0.96"/>
<circle cx="291" cy="318.1" r="12.2" opacity="0.88"/>
<circle cx="285.4" cy="327.2" r="12.2" opacity="1.00"/>
<circle cx="287.3" cy="327" r="12.2" opacity="0.99"/>
<circle cx="293.7" cy="321.7" r="12.2" opacity="0.97"/>
<circle cx="291.7" cy="326.3" r="12.2" opacity="0.92"/>
<circle cx="296.7" cy="320.3" r="12.2" opacity="0.92"/>
<circle cx="294.5" cy="318.2" r="12.2" opacity="1.00"/>
<circle cx="294.1" cy="329" r="12.2" opacity="0.96"/>
<circle cx="288.1" cy="331.3" r="12.2" opacity="1.00"/>
<circle cx="299.3" cy="331.3" r="12.2" opacity="0.93"/>
<circle cx="301.2" cy="334" r="12.2" opacity="0.92"/>
<circle cx="294.4" cy="330.1" r="12.2" opacity="1.00"/>
<circle cx="300.4" cy="337.1" r="12.2" opacity="1.00"/>
<circle cx="300.9" cy="338" r="12.2" opacity="0.98"/>
<circle cx="308.4" cy="332.5" r="12.2" opacity="0.91"/>
<circle cx="293.6" cy="336" r="12.2" opacity="1.00"/>
<circle cx="307.8" cy="334.8" r="12.2" opacity="1.00"/>
<circle cx="307" cy="340.9" r="12.2" opacity="1.00"/>
<circle cx="308" cy="333.9" r="12.2" opacity="0.86"/>
<circle cx="309.7" cy="334.1" r="12.2" opacity="0.88"/>
<circle cx="308.9" cy="337" r="12.2" opacity="1.00"/>
<circle cx="305.2" cy="344.5" r="12.2" opacity="0.96"/>
<circle cx="311.5" cy="350.5" r="12.2" opacity="0.86"/>
<circle cx="308" cy="343.3" r="12.2" opacity="0.88"/>
<circle cx="301.9" cy="348.2" r="12.2" opacity="0.92"/>
<circle cx="301" cy="348.6" r="12.2" opacity="0.91"/>
<circle cx="317.1" cy="345.5" r="12.2" opacity="0.88"/>
<circle cx="313.7" cy="348.2" r="12.2" opacity="0.90"/>
<circle cx="316.9" cy="349.7" r="12.2" opacity="0.96"/>
<circle cx="311.4" cy="351.5" r="12.2" opacity="1.00"/>
<circle cx="311.7" cy="357.4" r="12.2" opacity="0.98"/>
<circle cx="319.7" cy="348.1" r="12.2" opacity="0.90"/>
<circle cx="324.9" cy="353.6" r="12.2" opacity="0.86"/>
<circle cx="326.4" cy="354.1" r="12.2" opacity="0.96"/>
<circle cx="322.2" cy="359.6" r="12.2" opacity="1.00"/>
<circle cx="330.4" cy="353.3" r="12.2" opacity="0.91"/>
<circle cx="328.8" cy="350.4" r="12.2" opacity="0.88"/>
<circle cx="328.5" cy="359.5" r="12.2" opacity="1.00"/>
<circle cx="323.3" cy="369.9" r="12.2" opacity="0.94"/>
<circle cx="325.9" cy="365.3" r="12.2" opacity="1.00"/>
<circle cx="332.1" cy="364.4" r="12.2" opacity="0.89"/>
<circle cx="333.9" cy="361" r="12.2" opacity="1.00"/>
<circle cx="340.1" cy="360.6" r="12.2" opacity="0.94"/>
<circle cx="340.7" cy="360.4" r="12.2" opacity="1.00"/>
<circle cx="333.1" cy="374.5" r="12.2" opacity="0.85"/>
<circle cx="337.1" cy="371.5" r="12.2" opacity="0.98"/>
<circle cx="340.7" cy="364.2" r="12.2" opacity="0.92"/>
<circle cx="341.9" cy="364.1" r="12.2" opacity="0.97"/>
<circle cx="334.6" cy="376.7" r="12.2" opacity="1.00"/>
<circle cx="334.7" cy="383" r="12.2" opacity="1.00"/>
<circle cx="339.4" cy="374" r="12.2" opacity="0.93"/>
<circle cx="341.9" cy="375.4" r="12.2" opacity="1.00"/>
<circle cx="352.2" cy="370.3" r="12.2" opacity="0.94"/>
<circle cx="347.2" cy="389.4" r="12.2" opacity="0.85"/>
<circle cx="349.1" cy="383.1" r="12.2" opacity="0.91"/>
<circle cx="346.6" cy="376.6" r="12.2" opacity="1.00"/>
<circle cx="350.4" cy="386.9" r="12.2" opacity="1.00"/>
<circle cx="347.1" cy="392.9" r="12.2" opacity="0.85"/>
<circle cx="345.4" cy="394.6" r="12.2" opacity="0.94"/>
<circle cx="353.2" cy="378" r="12.2" opacity="0.91"/>
<circle cx="362.2" cy="379.2" r="12.2" opacity="0.90"/>
<circle cx="365.7" cy="383.6" r="12.2" opacity="0.90"/>
<circle cx="361.3" cy="398.8" r="12.2" opacity="0.87"/>
<circle cx="366.1" cy="392.6" r="12.2" opacity="1.00"/>
<circle cx="366.9" cy="389.2" r="12.2" opacity="0.87"/>
<circle cx="372.7" cy="386" r="12.2" opacity="0.94"/>
<circle cx="367" cy="399.8" r="12.2" opacity="1.00"/>
<circle cx="363.7" cy="406.7" r="12.2" opacity="1.00"/>
<circle cx="375.9" cy="400.3" r="12.2" opacity="0.96"/>
<circle cx="370" cy="392.5" r="12.2" opacity="1.00"/>
<circle cx="377.9" cy="398.9" r="12.2" opacity="0.90"/>
<circle cx="374.3" cy="406.1" r="12.2" opacity="0.99"/>
<circle cx="370.9" cy="412.6" r="12.2" opacity="0.86"/>
<circle cx="375.3" cy="411.9" r="12.2" opacity="0.91"/>
<circle cx="375.1" cy="414.9" r="12.2" opacity="0.93"/>
<circle cx="381.6" cy="411.7" r="12.2" opacity="0.97"/>
<circle cx="392.7" cy="407.5" r="12.2" opacity="0.97"/>
<circle cx="395.7" cy="406.6" r="12.2" opacity="0.93"/>
<circle cx="397.8" cy="412.2" r="12.2" opacity="0.92"/>
<circle cx="395.2" cy="411.2" r="12.2" opacity="0.96"/>
<circle cx="392.6" cy="415.3" r="12.2" opacity="0.99"/>
<circle cx="394" cy="426.3" r="12.2" opacity="0.94"/>
<circle cx="396.8" cy="423.6" r="12.2" opacity="0.87"/>
<circle cx="404.7" cy="427.1" r="12.2" opacity="1.00"/>
<circle cx="407" cy="422.1" r="12.2" opacity="0.85"/>
<circle cx="407.8" cy="428.9" r="12.2" opacity="1.00"/>
<circle cx="412.8" cy="415.9" r="12.2" opacity="1.00"/>
<circle cx="411.6" cy="429.4" r="12.2" opacity="0.91"/>
<circle cx="414.9" cy="438.8" r="12.2" opacity="1.00"/>
<circle cx="418.9" cy="432.6" r="12.2" opacity="1.00"/>
<circle cx="412.2" cy="442.3" r="12.2" opacity="0.87"/>
<circle cx="427.1" cy="435.8" r="12.2" opacity="0.93"/>
<circle cx="415.9" cy="444.1" r="12.2" opacity="1.00"/>
<circle cx="428.1" cy="443.8" r="12.2" opacity="0.96"/>
<circle cx="416.5" cy="457.9" r="12.2" opacity="1.00"/>
<circle cx="429.6" cy="450.9" r="12.2" opacity="0.88"/>
<circle cx="428.3" cy="453.1" r="12.2" opacity="0.87"/>
<circle cx="420.5" cy="442.3" r="12.2" opacity="0.95"/>
<circle cx="400.3" cy="455.6" r="12.2" opacity="0.91"/>
<circle cx="408" cy="458.5" r="12.2" opacity="0.96"/>
<circle cx="407.3" cy="460" r="12.2" opacity="0.98"/>
<circle cx="440.3" cy="450" r="12.2" opacity="0.89"/>
<circle cx="424.2" cy="457.9" r="12.2" opacity="0.87"/>
<circle cx="407.1" cy="471.9" r="12.2" opacity="0.88"/>
<circle cx="439.1" cy="459.7" r="12.2" opacity="0.89"/>
<circle cx="427.8" cy="472" r="12.2" opacity="0.89"/>
<circle cx="431.5" cy="466.1" r="12.2" opacity="0.90"/>
<circle cx="447.3" cy="463.6" r="12.2" opacity="0.95"/>
<circle cx="437.3" cy="474.3" r="12.2" opacity="1.00"/>
<circle cx="440.7" cy="477.9" r="12.2" opacity="0.95"/>
<circle cx="434.3" cy="484" r="12.2" opacity="0.90"/>
<circle cx="426.8" cy="492" r="12.2" opacity="0.93"/>
<circle cx="420.4" cy="501.5" r="12.2" opacity="1.00"/>
<circle cx="450" cy="492.2" r="12.2" opacity="0.88"/>
<circle cx="443.2" cy="496.3" r="12.2" opacity="0.96"/>
<circle cx="448.5" cy="496.5" r="12.2" opacity="0.99"/>
<circle cx="439.8" cy="499.4" r="12.2" opacity="0.95"/>
<circle cx="443" cy="504.9" r="12.2" opacity="0.98"/>
<circle cx="463.4" cy="493.5" r="12.2" opacity="1.00"/>
<circle cx="431.6" cy="521" r="12.2" opacity="0.89"/>
<circle cx="465.6" cy="502.2" r="12.2" opacity="1.00"/>
<circle cx="440.2" cy="513.3" r="12.2" opacity="0.94"/>
<circle cx="453" cy="509.1" r="12.2" opacity="0.88"/>
<circle cx="453.4" cy="520.5" r="12.2" opacity="0.95"/>
<circle cx="461.3" cy="509.4" r="12.2" opacity="1.00"/>
<circle cx="469.5" cy="514.6" r="12.2" opacity="0.88"/>
<circle cx="471.4" cy="512.2" r="12.2" opacity="1.00"/>
<circle cx="444.2" cy="526.9" r="12.2" opacity="0.85"/>
<circle cx="454.1" cy="531.1" r="12.2" opacity="0.96"/>
<circle cx="461.4" cy="524.4" r="12.2" opacity="0.89"/>
<circle cx="460.5" cy="529.3" r="12.2" opacity="1.00"/>
<circle cx="475.7" cy="524.5" r="12.2" opacity="1.00"/>
<circle cx="453.4" cy="545.6" r="12.2" opacity="1.00"/>
<circle cx="453.7" cy="541.7" r="12.2" opacity="0.97"/>
<circle cx="474.6" cy="540.4" r="12.2" opacity="0.88"/>
<circle cx="454" cy="551.7" r="12.2" opacity="0.95"/>
<circle cx="460.8" cy="544.6" r="12.2" opacity="0.89"/>
<circle cx="457.6" cy="550.8" r="12.2" opacity="1.00"/>
<circle cx="479.7" cy="539.2" r="12.2" opacity="0.89"/>
<circle cx="468.3" cy="553.4" r="12.2" opacity="1.00"/>
<circle cx="458.6" cy="557.1" r="12.2" opacity="0.98"/>
<circle cx="461.4" cy="554.5" r="12.2" opacity="0.94"/>
<circle cx="463.1" cy="553" r="12.2" opacity="0.95"/>
<circle cx="488.1" cy="553.2" r="12.2" opacity="0.86"/>
<circle cx="483" cy="558.3" r="12.2" opacity="1.00"/>
<circle cx="488.5" cy="553.4" r="12.2" opacity="0.87"/>
<circle cx="492.5" cy="553.2" r="12.2" opacity="0.87"/>
<circle cx="493" cy="559.5" r="12.2" opacity="1.00"/>
<circle cx="478.9" cy="573.2" r="12.2" opacity="0.97"/>
<circle cx="477.1" cy="576.5" r="12.2" opacity="0.91"/>
<circle cx="480.4" cy="569" r="12.2" opacity="0.88"/>
<circle cx="491.7" cy="571.8" r="12.2" opacity="0.98"/>
<circle cx="477.5" cy="584" r="12.2" opacity="1.00"/>
<circle cx="475.3" cy="584.5" r="12.2" opacity="0.99"/>
<circle cx="475.2" cy="586.1" r="12.2" opacity="1.00"/>
<circle cx="472.2" cy="588.7" r="12.2" opacity="0.86"/>
<circle cx="473.4" cy="584.8" r="12.2" opacity="0.99"/>
<circle cx="491.7" cy="581.9" r="12.2" opacity="0.94"/>
<circle cx="475.5" cy="592.8" r="12.2" opacity="0.93"/>
<circle cx="488.2" cy="594.4" r="12.2" opacity="0.92"/>
<circle cx="488.5" cy="596" r="12.2" opacity="0.99"/>
<circle cx="492.3" cy="603.3" r="12.2" opacity="0.92"/>
<circle cx="500.5" cy="600.9" r="12.2" opacity="1.00"/>
<circle cx="502.7" cy="598.1" r="12.2" opacity="0.97"/>
<circle cx="498.9" cy="602.4" r="12.2" opacity="0.95"/>
<circle cx="483.7" cy="605.6" r="12.2" opacity="0.88"/>
<circle cx="495.3" cy="603.9" r="12.2" opacity="1.00"/>
<circle cx="487.4" cy="612.2" r="12.2" opacity="0.96"/>
<circle cx="507.8" cy="602.1" r="12.2" opacity="1.00"/>
<circle cx="509.3" cy="610.9" r="12.2" opacity="0.89"/>
<circle cx="508.2" cy="610.5" r="12.2" opacity="0.88"/>
<circle cx="517.2" cy="609.9" r="12.2" opacity="0.95"/>
<circle cx="520.2" cy="614.7" r="12.2" opacity="0.88"/>
<circle cx="511.9" cy="621.4" r="12.2" opacity="1.00"/>
<circle cx="509.4" cy="630" r="12.2" opacity="1.00"/>
<circle cx="502.3" cy="628.5" r="12.2" opacity="0.90"/>
<circle cx="504.5" cy="638.3" r="12.2" opacity="0.95"/>
<circle cx="505.1" cy="638.1" r="12.2" opacity="1.00"/>
<circle cx="508.4" cy="634.7" r="12.2" opacity="0.98"/>
<circle cx="513.2" cy="630.8" r="12.2" opacity="0.95"/>
<circle cx="509" cy="636.2" r="12.2" opacity="1.00"/>
<circle cx="515.8" cy="647.8" r="12.2" opacity="1.00"/>
<circle cx="529.3" cy="635.6" r="12.2" opacity="0.89"/>
<circle cx="520.8" cy="650" r="12.2" opacity="0.98"/>
<circle cx="535.7" cy="640.1" r="12.2" opacity="1.00"/>
<circle cx="530.6" cy="646.2" r="12.2" opacity="0.94"/>
<circle cx="534.2" cy="640.8" r="12.2" opacity="0.88"/>
<circle cx="540.4" cy="645.7" r="12.2" opacity="1.00"/>
<circle cx="538.8" cy="644" r="12.2" opacity="0.86"/>
<circle cx="532.8" cy="664.3" r="12.2" opacity="1.00"/>
<circle cx="533.5" cy="660" r="12.2" opacity="0.85"/>
<circle cx="545.7" cy="659.1" r="12.2" opacity="1.00"/>
<circle cx="543.7" cy="656.7" r="12.2" opacity="1.00"/>
<circle cx="533.2" cy="666.8" r="12.2" opacity="0.93"/>
<circle cx="545.5" cy="673.2" r="12.2" opacity="1.00"/>
<circle cx="543.8" cy="677.8" r="12.2" opacity="1.00"/>
<circle cx="546.5" cy="679.9" r="12.2" opacity="0.90"/>
<circle cx="553.8" cy="671.8" r="12.2" opacity="0.96"/>
<circle cx="559.2" cy="674.8" r="12.2" opacity="0.88"/>
<circle cx="550.2" cy="690.9" r="12.2" opacity="0.86"/>
<circle cx="562.8" cy="681.4" r="12.2" opacity="1.00"/>
<circle cx="563" cy="687.5" r="12.2" opacity="0.99"/>
<circle cx="567.6" cy="691.5" r="12.2" opacity="0.93"/>
<circle cx="565.1" cy="693.6" r="12.2" opacity="1.00"/>
<circle cx="568.1" cy="700.3" r="12.2" opacity="1.00"/>
<circle cx="565.4" cy="705.8" r="12.2" opacity="0.98"/>
<circle cx="564.2" cy="710.4" r="12.2" opacity="0.93"/>
<circle cx="263.6" cy="342.9" r="12.2" opacity="0.98"/>
<circle cx="274.2" cy="339.8" r="12.2" opacity="0.95"/>
<circle cx="282.3" cy="348.3" r="12.2" opacity="0.89"/>
<circle cx="285.8" cy="353" r="12.2" opacity="0.92"/>
<circle cx="287.6" cy="364.7" r="12.2" opacity="0.97"/>
<circle cx="294" cy="377.3" r="12.2" opacity="0.88"/>
<circle cx="293.8" cy="379.3" r="12.2" opacity="0.99"/>
<circle cx="297" cy="393.9" r="12.2" opacity="0.90"/>
<circle cx="350" cy="414" r="12.2" opacity="1.00"/>
<circle cx="263" cy="425" r="12.2" opacity="0.55"/>
<circle cx="313" cy="471" r="12.2" opacity="0.55"/>
<circle cx="341" cy="490" r="12.2" opacity="0.55"/>
<circle cx="560" cy="560" r="12.2" opacity="0.55"/>
<circle cx="684" cy="842" r="12.2" opacity="1.00"/>
<circle cx="680" cy="881" r="12.2" opacity="1.00"/>
<circle cx="702" cy="920" r="12.2" opacity="1.00"/>
<circle cx="732" cy="915" r="12.2" opacity="1.00"/>
<circle cx="744" cy="924" r="12.2" opacity="1.00"/>
<circle cx="1011.7" cy="1273.4" r="12.2" opacity="1.00"/>
</g>
<g fill="#66cd00" stroke="#000" stroke-width="1.2">
<circle cx="306" cy="250" r="12.2" opacity="0.60"/>
<circle cx="272" cy="352" r="12.2" opacity="0.60"/>
<circle cx="345" cy="370" r="12.2" opacity="0.60"/>
<circle cx="387" cy="379" r="12.2" opacity="0.65"/>
<circle cx="401" cy="397" r="12.2" opacity="0.65"/>
<circle cx="517" cy="447" r="12.2" opacity="0.65"/>
<circle cx="526" cy="457" r="12.2" opacity="0.65"/>
<circle cx="594" cy="499" r="12.2" opacity="0.65"/>
<circle cx="595" cy="502" r="12.2" opacity="0.65"/>
<circle cx="665" cy="552" r="12.2" opacity="0.65"/>
<circle cx="685" cy="567" r="12.2" opacity="0.65"/>
<circle cx="707" cy="570" r="12.2" opacity="0.65"/>
<circle cx="787.7" cy="636.5" r="12.2" opacity="0.64"/>
<circle cx="786.8" cy="647.5" r="12.2" opacity="0.69"/>
<circle cx="803.6" cy="643.7" r="12.2" opacity="0.59"/>
<circle cx="800.2" cy="645.2" r="12.2" opacity="0.58"/>
<circle cx="807.2" cy="654.6" r="12.2" opacity="0.75"/>
<circle cx="817.6" cy="654.8" r="12.2" opacity="0.64"/>
<circle cx="832.6" cy="665.7" r="12.2" opacity="0.62"/>
<circle cx="844.9" cy="673.3" r="12.2" opacity="0.58"/>
<circle cx="855.4" cy="679.9" r="12.2" opacity="0.63"/>
<circle cx="852.8" cy="674.9" r="12.2" opacity="0.62"/>
<circle cx="862.8" cy="686.1" r="12.2" opacity="0.65"/>
<circle cx="861" cy="678.5" r="12.2" opacity="0.67"/>
<circle cx="858.3" cy="688.5" r="12.2" opacity="0.57"/>
<circle cx="880.1" cy="693" r="12.2" opacity="0.55"/>
<circle cx="881.6" cy="714.2" r="12.2" opacity="0.65"/>
<circle cx="883.6" cy="713.2" r="12.2" opacity="0.65"/>
<circle cx="891.4" cy="713.9" r="12.2" opacity="0.56"/>
<circle cx="919.3" cy="725.1" r="12.2" opacity="0.57"/>
<circle cx="918.4" cy="721.9" r="12.2" opacity="0.68"/>
<circle cx="913.8" cy="729.8" r="12.2" opacity="0.64"/>
<circle cx="945.4" cy="760.3" r="12.2" opacity="0.62"/>
<circle cx="938.1" cy="753.2" r="12.2" opacity="0.75"/>
<circle cx="946.1" cy="753.6" r="12.2" opacity="0.59"/>
<circle cx="957.7" cy="767.7" r="12.2" opacity="0.57"/>
<circle cx="956.1" cy="757.8" r="12.2" opacity="0.66"/>
<circle cx="982.9" cy="773.7" r="12.2" opacity="0.69"/>
<circle cx="970.5" cy="756.9" r="12.2" opacity="0.71"/>
<circle cx="978.1" cy="766.9" r="12.2" opacity="0.73"/>
<circle cx="992.1" cy="781.6" r="12.2" opacity="0.75"/>
<circle cx="997.9" cy="780.3" r="12.2" opacity="0.61"/>
<circle cx="1020.3" cy="798.1" r="12.2" opacity="0.56"/>
<circle cx="1002.5" cy="792" r="12.2" opacity="0.69"/>
<circle cx="1018.7" cy="799.2" r="12.2" opacity="0.56"/>
<circle cx="1029.3" cy="815.2" r="12.2" opacity="0.69"/>
<circle cx="1049.9" cy="807.7" r="12.2" opacity="0.70"/>
<circle cx="1048.5" cy="825.1" r="12.2" opacity="0.74"/>
<circle cx="1052" cy="1005" r="12.2" opacity="0.70"/>
<circle cx="1142" cy="1084" r="12.2" opacity="0.70"/>
</g>
<g fill="#008b8b" stroke="#000" stroke-width="1.2">
<circle cx="740" cy="524" r="12.2" opacity="0.80"/>
<circle cx="666" cy="505" r="12.2" opacity="0.65"/>
<circle cx="760" cy="607" r="12.2" opacity="0.65"/>
<circle cx="790" cy="605" r="12.2" opacity="0.55"/>
<circle cx="690" cy="550" r="12.2" opacity="0.81"/>
<circle cx="716" cy="592" r="12.2" opacity="0.90"/>
<circle cx="727" cy="620" r="12.2" opacity="0.93"/>
<circle cx="730" cy="662" r="12.2" opacity="0.70"/>
<circle cx="725" cy="675" r="12.2" opacity="0.85"/>
<circle cx="747" cy="692" r="12.2" opacity="0.67"/>
<circle cx="784" cy="647" r="12.2" opacity="0.85"/>
<circle cx="801" cy="680" r="12.2" opacity="0.85"/>
<circle cx="779" cy="727" r="12.2" opacity="0.85"/>
<circle cx="829" cy="646" r="12.2" opacity="0.80"/>
<circle cx="846" cy="716" r="12.2" opacity="0.80"/>
<circle cx="912" cy="810" r="12.2" opacity="1.00"/>
<circle cx="825" cy="845" r="12.2" opacity="0.75"/>
<circle cx="894" cy="906" r="12.2" opacity="0.75"/>
<circle cx="894" cy="947" r="12.2" opacity="0.65"/>
<circle cx="920" cy="1057" r="12.2" opacity="0.60"/>
</g>
<g fill="#00ff7f" stroke="#000" stroke-width="1.2">
<circle cx="487" cy="347" r="12.2" opacity="0.60"/>
<circle cx="505" cy="364" r="12.2" opacity="0.60"/>
<circle cx="537" cy="392" r="12.2" opacity="0.60"/>
<circle cx="587" cy="476" r="12.2" opacity="0.60"/>
<circle cx="771.5" cy="743.5" r="12.2" opacity="0.52"/>
<circle cx="773" cy="751.6" r="12.2" opacity="0.57"/>
<circle cx="775.7" cy="759.6" r="12.2" opacity="0.49"/>
<circle cx="787" cy="764.8" r="12.2" opacity="0.51"/>
<circle cx="794.3" cy="770.8" r="12.2" opacity="0.64"/>
<circle cx="795.4" cy="775.9" r="12.2" opacity="0.53"/>
<circle cx="804" cy="783.3" r="12.2" opacity="0.47"/>
<circle cx="803.8" cy="794.1" r="12.2" opacity="0.65"/>
<circle cx="803.7" cy="798.3" r="12.2" opacity="0.48"/>
<circle cx="811" cy="805.4" r="12.2" opacity="0.63"/>
<circle cx="813.6" cy="811.6" r="12.2" opacity="0.64"/>
<circle cx="815.4" cy="824.8" r="12.2" opacity="0.47"/>
<circle cx="818.8" cy="830.4" r="12.2" opacity="0.48"/>
<circle cx="821.3" cy="836.8" r="12.2" opacity="0.51"/>
</g>
<g fill="#87cefa" stroke="#000" stroke-width="1.2">
<circle cx="235.2" cy="336.4" r="12.2" opacity="0.71"/>
<circle cx="239.8" cy="337.5" r="12.2" opacity="0.71"/>
<circle cx="248.1" cy="339.7" r="12.2" opacity="0.56"/>
<circle cx="252.7" cy="335.6" r="12.2" opacity="0.58"/>
<circle cx="253.1" cy="343.1" r="12.2" opacity="0.59"/>
<circle cx="251.1" cy="350.7" r="12.2" opacity="0.74"/>
<circle cx="262.1" cy="353.6" r="12.2" opacity="0.68"/>
<circle cx="259.6" cy="356" r="12.2" opacity="0.65"/>
<circle cx="269.2" cy="360.2" r="12.2" opacity="0.74"/>
<circle cx="276.5" cy="364.3" r="12.2" opacity="0.57"/>
<circle cx="268.7" cy="369.2" r="12.2" opacity="0.64"/>
<circle cx="271.4" cy="375.5" r="12.2" opacity="0.55"/>
<circle cx="274.5" cy="373.7" r="12.2" opacity="0.64"/>
<circle cx="276.6" cy="381.5" r="12.2" opacity="0.73"/>
<circle cx="275.9" cy="385.1" r="12.2" opacity="0.71"/>
<circle cx="283.7" cy="390.2" r="12.2" opacity="0.71"/>
<circle cx="285.2" cy="395.2" r="12.2" opacity="0.68"/>
<circle cx="289.3" cy="394.9" r="12.2" opacity="0.68"/>
<circle cx="303.4" cy="394.5" r="12.2" opacity="0.66"/>
<circle cx="298.8" cy="402.9" r="12.2" opacity="0.64"/>
<circle cx="302.2" cy="404.5" r="12.2" opacity="0.71"/>
<circle cx="306" cy="408" r="12.2" opacity="0.59"/>
<circle cx="304" cy="413.5" r="12.2" opacity="0.59"/>
<circle cx="308.6" cy="419.7" r="12.2" opacity="0.58"/>
<circle cx="303.7" cy="428.9" r="12.2" opacity="0.68"/>
<circle cx="301.6" cy="428.2" r="12.2" opacity="0.71"/>
<circle cx="304.6" cy="435.8" r="12.2" opacity="0.58"/>
<circle cx="310.8" cy="434" r="12.2" opacity="0.56"/>
<circle cx="352" cy="496" r="12.2" opacity="0.60"/>
<circle cx="365" cy="507" r="12.2" opacity="0.60"/>
<circle cx="411" cy="580" r="12.2" opacity="0.60"/>
<circle cx="418" cy="585" r="12.2" opacity="0.60"/>
<circle cx="425" cy="597" r="12.2" opacity="0.60"/>
<circle cx="444" cy="606" r="12.2" opacity="0.60"/>
<circle cx="457" cy="636" r="12.2" opacity="0.60"/>
<circle cx="524" cy="699" r="12.2" opacity="0.60"/>
<circle cx="504" cy="711" r="12.2" opacity="0.60"/>
<circle cx="556" cy="782" r="12.2" opacity="0.60"/>
<circle cx="562" cy="778" r="12.2" opacity="0.60"/>
<circle cx="574" cy="804" r="12.2" opacity="0.60"/>
<circle cx="585" cy="816" r="12.2" opacity="0.60"/>
<circle cx="632" cy="836" r="12.2" opacity="0.60"/>
<circle cx="614" cy="853" r="12.2" opacity="0.60"/>
<circle cx="641" cy="889" r="12.2" opacity="0.60"/>
<circle cx="664" cy="910" r="12.2" opacity="0.60"/>
<circle cx="770" cy="1025" r="12.2" opacity="0.65"/>
<circle cx="776" cy="1033" r="12.2" opacity="0.65"/>
<circle cx="968" cy="1256" r="12.2" opacity="0.65"/>
</g>
<g fill="#4876ff" stroke="#000" stroke-width="1.2">
<circle cx="647" cy="505" r="12.2" opacity="0.56"/>
<circle cx="662" cy="525" r="12.2" opacity="0.79"/>
<circle cx="645" cy="532" r="12.2" opacity="0.72"/>
<circle cx="651" cy="542" r="12.2" opacity="0.72"/>
<circle cx="687" cy="592" r="12.2" opacity="0.71"/>
<circle cx="692" cy="600" r="12.2" opacity="0.62"/>
<circle cx="717" cy="645" r="12.2" opacity="0.50"/>
<circle cx="750" cy="650" r="12.2" opacity="0.79"/>
<circle cx="745" cy="680" r="12.2" opacity="0.70"/>
<circle cx="775" cy="677" r="12.2" opacity="0.77"/>
<circle cx="747" cy="707" r="12.2" opacity="0.73"/>
<circle cx="790" cy="710" r="12.2" opacity="0.68"/>
<circle cx="792" cy="722" r="12.2" opacity="0.69"/>
<circle cx="821" cy="755" r="12.2" opacity="0.55"/>
<circle cx="834.7" cy="795.4" r="12.2" opacity="0.80"/>
<circle cx="833.6" cy="797.6" r="12.2" opacity="0.72"/>
<circle cx="835.9" cy="800.4" r="12.2" opacity="0.73"/>
<circle cx="840.1" cy="801.4" r="12.2" opacity="0.91"/>
<circle cx="847.2" cy="799.5" r="12.2" opacity="0.95"/>
<circle cx="847.2" cy="815.6" r="12.2" opacity="0.80"/>
<circle cx="847.5" cy="801.4" r="12.2" opacity="0.72"/>
<circle cx="850.7" cy="812.2" r="12.2" opacity="0.75"/>
<circle cx="854.7" cy="813.1" r="12.2" opacity="0.80"/>
<circle cx="854.7" cy="822" r="12.2" opacity="0.80"/>
<circle cx="868.4" cy="812.1" r="12.2" opacity="0.69"/>
<circle cx="849.8" cy="822.1" r="12.2" opacity="0.89"/>
<circle cx="865.3" cy="829.5" r="12.2" opacity="0.79"/>
<circle cx="869.3" cy="824.8" r="12.2" opacity="0.90"/>
<circle cx="864.6" cy="833.1" r="12.2" opacity="0.86"/>
<circle cx="854.3" cy="835.8" r="12.2" opacity="0.93"/>
<circle cx="863.9" cy="837.8" r="12.2" opacity="0.75"/>
<circle cx="873.3" cy="837.4" r="12.2" opacity="0.85"/>
<circle cx="876" cy="845.6" r="12.2" opacity="0.93"/>
<circle cx="872.3" cy="854.5" r="12.2" opacity="0.73"/>
<circle cx="881.5" cy="844.5" r="12.2" opacity="0.79"/>
<circle cx="882.2" cy="853.7" r="12.2" opacity="0.73"/>
<circle cx="883.6" cy="854.9" r="12.2" opacity="0.68"/>
<circle cx="873.3" cy="863.2" r="12.2" opacity="0.79"/>
<circle cx="886.1" cy="863.6" r="12.2" opacity="0.65"/>
<circle cx="879.8" cy="870.7" r="12.2" opacity="0.75"/>
<circle cx="876" cy="904" r="12.2" opacity="0.65"/>
</g>
<g fill="#9b30ff" stroke="#000" stroke-width="1.2">
<circle cx="303.5" cy="308" r="12.2" opacity="0.74"/>
<circle cx="304.3" cy="319.7" r="12.2" opacity="0.69"/>
<circle cx="306.2" cy="317.7" r="12.2" opacity="0.73"/>
<circle cx="311.7" cy="325.1" r="12.2" opacity="0.84"/>
<circle cx="313.7" cy="332.2" r="12.2" opacity="0.89"/>
<circle cx="312" cy="329.5" r="12.2" opacity="0.65"/>
<circle cx="313.8" cy="341.3" r="12.2" opacity="0.82"/>
<circle cx="322" cy="338.2" r="12.2" opacity="0.78"/>
<circle cx="327.2" cy="343.5" r="12.2" opacity="0.75"/>
<circle cx="322.2" cy="349.5" r="12.2" opacity="0.84"/>
<circle cx="315" cy="351.1" r="12.2" opacity="0.77"/>
<circle cx="324.9" cy="356.3" r="12.2" opacity="0.72"/>
<circle cx="321.9" cy="366" r="12.2" opacity="0.89"/>
<circle cx="326" cy="369.8" r="12.2" opacity="0.67"/>
<circle cx="323.2" cy="372.4" r="12.2" opacity="0.83"/>
<circle cx="325" cy="374" r="12.2" opacity="0.78"/>
<circle cx="339.3" cy="379.2" r="12.2" opacity="0.80"/>
<circle cx="339.5" cy="382.4" r="12.2" opacity="0.84"/>
<circle cx="339.9" cy="388.8" r="12.2" opacity="0.75"/>
<circle cx="340.3" cy="389.8" r="12.2" opacity="0.68"/>
<circle cx="346.4" cy="391.3" r="12.2" opacity="0.69"/>
<circle cx="353.4" cy="393.8" r="12.2" opacity="0.85"/>
<circle cx="357.1" cy="389.5" r="12.2" opacity="0.72"/>
<circle cx="366.6" cy="397.6" r="12.2" opacity="0.80"/>
<circle cx="362.8" cy="402.8" r="12.2" opacity="0.81"/>
<circle cx="373.9" cy="398.8" r="12.2" opacity="0.69"/>
<circle cx="370.9" cy="403.4" r="12.2" opacity="0.72"/>
<circle cx="381.5" cy="402.3" r="12.2" opacity="0.66"/>
<circle cx="500" cy="564.9" r="12.2" opacity="0.66"/>
<circle cx="507.1" cy="574.2" r="12.2" opacity="0.63"/>
<circle cx="514.5" cy="584.3" r="12.2" opacity="0.74"/>
<circle cx="521.9" cy="593.8" r="12.2" opacity="0.75"/>
<circle cx="523.3" cy="601.6" r="12.2" opacity="0.73"/>
<circle cx="531.6" cy="617.8" r="12.2" opacity="0.59"/>
<circle cx="547.2" cy="619.8" r="12.2" opacity="0.56"/>
<circle cx="551.1" cy="632" r="12.2" opacity="0.57"/>
<circle cx="555.5" cy="636.4" r="12.2" opacity="0.68"/>
<circle cx="567.8" cy="638.2" r="12.2" opacity="0.74"/>
<circle cx="531" cy="712" r="12.2" opacity="0.65"/>
<circle cx="584" cy="730" r="12.2" opacity="0.65"/>
<circle cx="632" cy="730" r="12.2" opacity="0.65"/>
<circle cx="647" cy="750" r="12.2" opacity="0.65"/>
<circle cx="566" cy="777" r="12.2" opacity="0.65"/>
<circle cx="619" cy="809" r="12.2" opacity="0.65"/>
<circle cx="682" cy="810" r="12.2" opacity="0.65"/>
<circle cx="670" cy="924" r="12.2" opacity="0.65"/>
</g>
<g fill="#ff0000" stroke="#000" stroke-width="1.2">
<circle cx="377" cy="452" r="12.2" opacity="0.67"/>
<circle cx="415" cy="449" r="12.2" opacity="0.66"/>
<circle cx="397" cy="470" r="12.2" opacity="0.79"/>
<circle cx="420" cy="495" r="12.2" opacity="0.88"/>
<circle cx="440" cy="530" r="12.2" opacity="0.88"/>
<circle cx="440" cy="532" r="12.2" opacity="0.86"/>
<circle cx="472" cy="561" r="12.2" opacity="0.85"/>
<circle cx="515" cy="635" r="12.2" opacity="0.84"/>
<circle cx="551" cy="655" r="12.2" opacity="0.71"/>
<circle cx="560" cy="695" r="12.2" opacity="0.82"/>
<circle cx="570" cy="705" r="12.2" opacity="0.72"/>
<circle cx="684" cy="839" r="12.2" opacity="0.65"/>
<circle cx="740" cy="872" r="12.2" opacity="0.70"/>
<circle cx="792" cy="962" r="12.2" opacity="0.65"/>
<circle cx="842" cy="1015" r="12.2" opacity="0.65"/>
<circle cx="1026.5" cy="1205" r="12.2" opacity="0.65"/>
</g>
</g>
<g stroke="#ffc0cb" stroke-width="5.6" opacity="0.5"><path d="M244.8 814.9h37.5"/><path d="M263.5 796.1v37.5"/></g>
<circle cx="263.5" cy="814.9" r="12.2" fill="#ffc0cb" fill-opacity="0.6" stroke="#000" stroke-opacity="0.6" stroke-width="1.1"/>
<text x="331.5" y="828.4" font-family="DejaVu Sans, Liberation Sans, sans-serif" font-weight="bold" font-size="37">Nankai</text>
<g stroke="#ffa500" stroke-width="5.6" opacity="0.5"><path d="M244.8 869.8h37.5"/><path d="M263.5 851v37.5"/></g>
<circle cx="263.5" cy="869.8" r="12.2" fill="#ffa500" fill-opacity="0.6" stroke="#000" stroke-opacity="0.6" stroke-width="1.1"/>
<text x="331.5" y="883.2" font-family="DejaVu Sans, Liberation Sans, sans-serif" font-weight="bold" font-size="37">Ryukyu</text>
<g stroke="#66cd00" stroke-width="5.6" opacity="0.5"><path d="M244.8 924.6h37.5"/><path d="M263.5 905.9v37.5"/></g>
<circle cx="263.5" cy="924.6" r="12.2" fill="#66cd00" fill-opacity="0.6" stroke="#000" stroke-opacity="0.6" stroke-width="1.1"/>
<text x="331.5" y="938.1" font-family="DejaVu Sans, Liberation Sans, sans-serif" font-weight="bold" font-size="37">Alaska</text>
<g stroke="#008b8b" stroke-width="5.6" opacity="0.5"><path d="M244.8 979.5h37.5"/><path d="M263.5 960.7v37.5"/></g>
<circle cx="263.5" cy="979.5" r="12.2" fill="#008b8b" fill-opacity="0.6" stroke="#000" stroke-opacity="0.6" stroke-width="1.1"/>
<text x="331.5" y="993" font-family="DejaVu Sans, Liberation Sans, sans-serif" font-weight="bold" font-size="37">Cascadia</text>
<g stroke="#00ff7f" stroke-width="5.6" opacity="0.5"><path d="M244.8 1034.3h37.5"/><path d="M263.5 1015.5v37.5"/></g>
<circle cx="263.5" cy="1034.3" r="12.2" fill="#00ff7f" fill-opacity="0.6" stroke="#000" stroke-opacity="0.6" stroke-width="1.1"/>
<text x="331.5" y="1047.8" font-family="DejaVu Sans, Liberation Sans, sans-serif" font-weight="bold" font-size="37">Costa Rica</text>
<g stroke="#87cefa" stroke-width="5.6" opacity="0.5"><path d="M244.8 1089.2h37.5"/><path d="M263.5 1070.4v37.5"/></g>
<circle cx="263.5" cy="1089.2" r="12.2" fill="#87cefa" fill-opacity="0.6" stroke="#000" stroke-opacity="0.6" stroke-width="1.1"/>
<text x="331.5" y="1102.7" font-family="DejaVu Sans, Liberation Sans, sans-serif" font-weight="bold" font-size="37">Japan Trench</text>
<g stroke="#4876ff" stroke-width="5.6" opacity="0.5"><path d="M244.8 1144h37.5"/><path d="M263.5 1125.2v37.5"/></g>
<circle cx="263.5" cy="1144" r="12.2" fill="#4876ff" fill-opacity="0.6" stroke="#000" stroke-opacity="0.6" stroke-width="1.1"/>
<text x="331.5" y="1157.5" font-family="DejaVu Sans, Liberation Sans, sans-serif" font-weight="bold" font-size="37">Mexico</text>
<g stroke="#9b30ff" stroke-width="5.6" opacity="0.5"><path d="M244.8 1198.8h37.5"/><path d="M263.5 1180.1v37.5"/></g>
<circle cx="263.5" cy="1198.8" r="12.2" fill="#9b30ff" fill-opacity="0.6" stroke="#000" stroke-opacity="0.6" stroke-width="1.1"/>
<text x="331.5" y="1212.3" font-family="DejaVu Sans, Liberation Sans, sans-serif" font-weight="bold" font-size="37">New Zealand</text>
<g stroke="#ff0000" stroke-width="5.6" opacity="0.5"><path d="M244.8 1253.7h37.5"/><path d="M263.5 1235v37.5"/></g>
<circle cx="263.5" cy="1253.7" r="12.2" fill="#ff0000" fill-opacity="0.6" stroke="#000" stroke-opacity="0.6" stroke-width="1.1"/>
<text x="331.5" y="1267.2" font-family="DejaVu Sans, Liberation Sans, sans-serif" font-weight="bold" font-size="37">Peru-Chile</text>
<g stroke="#000" stroke-width="3.4" fill="none" stroke-linecap="square">
<path d="M192.5 153.5 H1249.5"/>
<path d="M192.5 153.5 V1308"/>
</g>
<g stroke="#000" stroke-width="3.4" fill="none">
<path d="M192.5 153.5 v-14.6"/>
<path d="M456.8 153.5 v-14.6"/>
<path d="M721 153.5 v-14.6"/>
<path d="M985.2 153.5 v-14.6"/>
<path d="M1249.5 153.5 v-14.6"/>
<path d="M192.5 153.5 h-14.6"/>
<path d="M192.5 442.1 h-14.6"/>
<path d="M192.5 730.8 h-14.6"/>
<path d="M192.5 1019.4 h-14.6"/>
<path d="M192.5 1308 h-14.6"/>
</g>
<g font-family="DejaVu Sans, Liberation Sans, sans-serif" font-weight="bold" font-size="41.7" fill="#000">
<text x="192.5" y="114" text-anchor="middle">0</text>
<text x="456.8" y="114" text-anchor="middle">200</text>
<text x="721" y="114" text-anchor="middle">400</text>
<text x="985.2" y="114" text-anchor="middle">600</text>
<text x="1249.5" y="114" text-anchor="middle">800</text>
<text x="161.5" y="169.3" text-anchor="end">0.0</text>
<text x="161.5" y="457.9" text-anchor="end">0.5</text>
<text x="161.5" y="746.5" text-anchor="end">1.0</text>
<text x="161.5" y="1035.2" text-anchor="end">1.5</text>
<text x="161.5" y="1323.8" text-anchor="end">2.0</text>
</g>
<text x="721" y="65.3" font-family="DejaVu Sans, Liberation Sans, sans-serif" font-weight="bold" font-size="42.2" text-anchor="middle">Temperature (<tspan font-size="35.4" dy="-15.6" dx="7">∘</tspan><tspan dy="15.6" dx="6">C)</tspan></text>
<text transform="translate(62 730.8) rotate(-90)" font-family="DejaVu Sans, Liberation Sans, sans-serif" font-weight="bold" font-size="41.7" text-anchor="middle">Pressure (GPa)</text>
<text x="1222" y="234.2" font-family="DejaVu Sans, Liberation Sans, sans-serif" font-weight="bold" font-size="67.3" text-anchor="middle">A</text>
<defs><clipPath id="clipB"><rect x="1460.5" y="153.5" width="1106.2" height="1154.5"/></clipPath></defs>
<defs>
<clipPath id="clipH"><rect x="1717" y="205.5" width="596.6" height="1102.5"/></clipPath>
<linearGradient id="gRed" gradientUnits="userSpaceOnUse" x1="1977" y1="0" x2="2313" y2="0"><stop offset="0" stop-color="#f48d8d"/><stop offset="0.35" stop-color="#ee7a7e"/><stop offset="0.7" stop-color="#e9686f"/><stop offset="1" stop-color="#e25b67"/></linearGradient>
<linearGradient id="gRedDark" gradientUnits="userSpaceOnUse" x1="2150" y1="0" x2="2313" y2="0"><stop offset="0" stop-color="#b40426" stop-opacity="0"/><stop offset="0.5" stop-color="#b40426" stop-opacity="0.45"/><stop offset="1" stop-color="#b40426" stop-opacity="1"/></linearGradient>
<linearGradient id="gRedDarkV" gradientUnits="userSpaceOnUse" x1="0" y1="930" x2="0" y2="1308"><stop offset="0" stop-color="#fff" stop-opacity="0"/><stop offset="0.35" stop-color="#fff" stop-opacity="0.22"/><stop offset="1" stop-color="#fff" stop-opacity="0.82"/></linearGradient>
<mask id="mDark"><rect x="1700" y="900" width="700" height="450" fill="url(#gRedDarkV)"/></mask>
<linearGradient id="gLowPink" gradientUnits="userSpaceOnUse" x1="2105" y1="0" x2="2215" y2="0"><stop offset="0" stop-color="#fbc4c4" stop-opacity="0.85"/><stop offset="0.5" stop-color="#f6a5a6" stop-opacity="0.5"/><stop offset="1" stop-color="#f08a8c" stop-opacity="0"/></linearGradient>
<linearGradient id="gLowPinkV" gradientUnits="userSpaceOnUse" x1="0" y1="960" x2="0" y2="1308"><stop offset="0" stop-color="#fff" stop-opacity="0"/><stop offset="0.3" stop-color="#fff" stop-opacity="1"/><stop offset="1" stop-color="#fff" stop-opacity="0.8"/></linearGradient>
<mask id="mLowPink"><rect x="1700" y="900" width="700" height="450" fill="url(#gLowPinkV)"/></mask>
<linearGradient id="gBlue" gradientUnits="userSpaceOnUse" x1="1717" y1="0" x2="1900" y2="0"><stop offset="0" stop-color="#8ca5e8"/><stop offset="0.38" stop-color="#91a9e9"/><stop offset="0.62" stop-color="#afbfee"/><stop offset="0.73" stop-color="#b5c5ef"/><stop offset="1" stop-color="#b3c3ee"/></linearGradient>
<linearGradient id="gBlueMid" gradientUnits="userSpaceOnUse" x1="1717" y1="0" x2="1960" y2="0"><stop offset="0" stop-color="#86a0e6"/><stop offset="1" stop-color="#93abe9"/></linearGradient>
<linearGradient id="gBlueDark" gradientUnits="userSpaceOnUse" x1="1717" y1="0" x2="2095" y2="0"><stop offset="0" stop-color="#6887dd"/><stop offset="0.5" stop-color="#6d8de0"/><stop offset="1" stop-color="#7697e5"/></linearGradient>
<linearGradient id="gW2" gradientUnits="userSpaceOnUse" x1="2093" y1="0" x2="2170" y2="0"><stop offset="0" stop-color="#a9bdf0"/><stop offset="0.2" stop-color="#d5dff8"/><stop offset="0.42" stop-color="#f6f7fd"/><stop offset="0.6" stop-color="#fbdada"/><stop offset="0.85" stop-color="#ee8088"/><stop offset="1" stop-color="#e6656f"/></linearGradient>
<linearGradient id="gMP" gradientUnits="userSpaceOnUse" x1="2040" y1="0" x2="2150" y2="0"><stop offset="0" stop-color="#fbcaca"/><stop offset="0.6" stop-color="#f8bbbb"/><stop offset="1" stop-color="#f4a3a4"/></linearGradient>
<filter id="bl3" x="-20%" y="-20%" width="140%" height="140%"><feGaussianBlur stdDeviation="3"/></filter>
<filter id="bl8" x="-20%" y="-20%" width="140%" height="140%"><feGaussianBlur stdDeviation="7"/></filter>
<filter id="bl1" x="-5%" y="-5%" width="110%" height="110%"><feGaussianBlur stdDeviation="1.2"/></filter>
</defs>
<g clip-path="url(#clipH)"><g filter="url(#bl1)">
<rect x="1712" y="200.5" width="606.6" height="1112.5" fill="url(#gRed)"/>
<rect x="2100" y="900" width="230" height="420" fill="url(#gRedDark)" mask="url(#mDark)"/>
<rect x="2100" y="900" width="130" height="420" fill="url(#gLowPink)" mask="url(#mLowPink)"/>
<path d="M1987.5 643 L2080 709 L2090 743 L2105 793 L2125 868 L2141.6 923.8 L2124.6 979 L2095.7 1066 L2085.5 1013 L2071.8 941.6 L2050 860 L2022.5 768 L2000 688 L1987.5 643Z" fill="url(#gMP)" filter="url(#bl3)"/>
<path d="M2095.7 1066 L2080 1066 L2080 1320 L2200 1320 L2175 1249 L2132 1133 L2109 1090Z" fill="url(#gW2)"/>
<path d="M1895.5 205.5 L1977 205.5 L2000 265 L2025 315 L2045 360 L2060 402 L2072.5 452 L2080 502 L2085 543 L2090 593 L2088.7 643 L2085 683 L2080 709 L1987.5 643 L1970 600.5 L1952.5 543 L1940 502 L1915 440 L1877 361 L1886 307.5 L1892.5 257.5 L1895.5 205.5Z" fill="#fddedf"/>
<path d="M1877 361 L1890 407.5 L1907.5 465 L1920 515 L1925 543 L1950 655.5 L1970 723 L2010 843 L2025 896 L2060 971 L2095.7 1066 L2085.5 1013 L2071.8 941.6 L2050 860 L2022.5 768 L2000 688 L1987.5 643 L1970 600.5 L1952.5 543 L1940 502 L1915 440 L1877 361Z" fill="#f0f3fc"/>
<path d="M1712 200.5 L1895.5 200.5 L1895.5 205.5 L1892.5 257.5 L1886 307.5 L1877 361 L1890 407.5 L1907.5 465 L1920 515 L1925 543 L1950 655.5 L1970 723 L2010 843 L2025 896 L2060 971 L2095.7 1066 L2094 1249 L2092.5 1308 L2092.5 1320 L1712 1320Z" fill="url(#gBlueMid)"/>
<path d="M1712 200.5 L1895.5 200.5 L1895.5 205.5 L1892.5 257.5 L1886 307.5 L1877 361 L1883 385 L1840 400 L1800 395 L1712 395Z" fill="url(#gBlue)"/>
<path d="M1719 209 L1727 208 L1738 225 L1749 243 L1751 255 L1742 253 L1729 240 L1719 227Z" fill="#6a84db" opacity="0.85" filter="url(#bl3)"/>
<path d="M1800 470 L1817 560.6 L1882 631 L1967 722 L1950 655.5 L1925 543 L1920 515 L1907.5 465 L1890 407.5 L1877 361 L1860 400 L1835 440Z" fill="#adbeee" filter="url(#bl3)"/>
<path d="M1712 440 L1717 446 L1817 560.6 L1882 631 L1967 722 L1970 723 L2010 843 L2025 896 L2060 971 L2095.7 1066 L2094 1249 L2092.5 1320 L1712 1320Z" fill="url(#gBlueDark)"/>
<path d="M1712 963.5 L1841 1308 L1845 1320 L1712 1320Z" fill="#a0acd9"/>
</g></g>
<g clip-path="url(#clipB)" fill="none" stroke="#808080" stroke-opacity="0.92" stroke-width="3.3" stroke-linejoin="round">
<path d="M1387.5 154.5 L1387.6 154.5 L1392.4 152.7 L1397.3 152.5 L1402.2 153 L1407 154.1 L1408.2 154.5 L1411.9 155.5 L1416.8 157.2 L1421.6 159.2 L1422.7 159.8 L1426.5 161.3 L1431.4 163.6 L1434 165 L1436.2 166 L1441.1 168.5 L1444.2 170.3 L1445.9 171.1 L1450.8 173.7 L1453.8 175.5 L1455.7 176.5 L1460.5 179.2 L1463 180.8 L1465.4 182.1 L1470.3 184.9 L1472 186 L1475.1 187.7 L1480 190.8 L1480.8 191.3 L1484.9 193.5 L1489.6 196.5 L1489.7 196.6 L1494.6 199.2 L1498.6 201.8 L1499.5 202.2 L1504.3 204.9 L1507.9 207 L1509.2 207.7 L1514.1 210.3 L1517.5 212.3 L1518.9 213 L1523.8 215.5 L1527.6 217.5 L1528.6 218 L1533.5 220.4 L1537.9 222.8 L1538.4 223 L1543.2 225.4 L1548 228 L1548.1 228.1 L1553 230.7 L1557.5 233.3 L1557.8 233.5 L1562.7 236.3 L1566.3 238.5 L1567.6 239.3 L1572.4 242.4 L1574.5 243.8 L1577.3 245.6 L1582.2 248.8 L1582.4 249 L1587 252.2 L1590 254.3 L1591.9 255.6 L1596.8 259.1 L1597.4 259.5 L1601.6 262.6 L1604.7 264.8 L1606.5 266.1 L1611.4 269.7 L1611.8 270 L1616.2 273.3 L1618.9 275.3 L1621.1 276.9 L1625.9 280.5 L1626 280.5 L1630.8 284.1 L1633.2 285.8 L1635.7 287.6 L1640.5 291 L1640.6 291 L1645.4 294.3 L1648.5 296.3 L1650.3 297.5 L1655.1 300.5 L1657.2 301.5 L1660 303.2 L1664.9 305.5 L1668.1 306.8 L1669.7 307.5 L1674.6 309 L1679.5 310.2 L1684.3 311 L1689.2 311.7 L1691.4 312 L1694.1 312.5 L1698.9 313.4 L1703.8 314.5 L1708.6 315.9 L1712.9 317.3 L1713.5 317.5 L1718.4 319.4 L1723.2 321.4 L1725.7 322.5 L1728.1 323.6 L1733 326 L1736.2 327.8 L1737.8 328.6 L1742.7 331.3 L1745.5 333.1 L1747.6 334.2 L1752.4 337.2 L1754.2 338.3 L1757.3 340.2 L1762.2 343.5 L1762.3 343.6 L1767 346.7 L1770 348.8 L1771.9 350.1 L1776.8 353.6 L1777.4 354.1 L1781.6 357.1 L1784.5 359.3 L1786.5 360.7 L1791.4 364.5 L1791.5 364.6 L1796.2 368.1 L1798.3 369.8 L1801.1 371.9 L1804.9 375.1 L1805.9 375.9 L1810.8 379.8 L1811.4 380.3 L1815.7 383.8 L1817.8 385.6 L1820.5 387.8 L1824 390.8 L1825.4 392 L1830.1 396.1 L1830.3 396.2 L1835.1 400.3 L1836.2 401.3 L1840 404.5 L1842.3 406.6 L1844.9 408.8 L1848.2 411.8 L1849.7 413.2 L1854 417.1 L1854.6 417.6 L1859.5 422 L1859.7 422.3 L1864.3 426.4 L1865.5 427.6 L1869.2 430.9 L1871.2 432.8 L1874.1 435.4 L1876.9 438.1 L1878.9 439.9 L1882.4 443.3 L1883.8 444.6 L1888 448.6 L1888.6 449.2 L1893.4 453.8 L1893.5 453.9 L1898.4 458.5 L1898.9 459.1 L1903.2 463.2 L1904.4 464.3 L1908.1 467.9 L1909.8 469.6 L1913 472.6 L1915.2 474.8 L1917.8 477.4 L1920.6 480.1 L1922.7 482.1 L1925.9 485.3 L1927.6 486.9 L1931.2 490.6 L1932.4 491.8 L1936.5 495.8 L1937.3 496.6 L1941.8 501.1 L1942.2 501.5 L1947 506.3 L1947 506.3 L1951.9 511.1 L1952.4 511.6 L1956.8 515.9 L1957.7 516.8 L1961.6 520.6 L1963.1 522.1 L1966.5 525.4 L1968.5 527.3 L1971.4 530.1 L1973.9 532.6 L1976.2 534.8 L1979.4 537.8 L1981.1 539.5 L1984.8 543.1 L1985.9 544.1 L1990.4 548.3 L1990.8 548.7 L1995.7 553.2 L1996.1 553.6 L2000.5 557.6 L2002 558.8 L2005.4 561.9 L2008 564.1 L2010.3 566.1 L2014 569.3 L2015.1 570.3 L2020 574.4 L2020.2 574.6 L2024.9 578.3 L2026.8 579.8 L2029.7 582.2 L2033.4 585.1 L2034.6 586 L2039.5 589.7 L2040.2 590.3 L2044.3 593.4 L2047.2 595.6 L2049.2 597 L2054.1 600.7 L2054.3 600.8 L2058.9 604.2 L2061.4 606.1 L2063.8 607.8 L2068.5 611.4 L2068.6 611.5 L2073.5 615.1 L2075.5 616.6 L2078.4 618.7 L2082.5 621.9 L2083.2 622.4 L2088.1 626.1 L2089.4 627.1 L2093 629.8 L2096.3 632.4 L2097.8 633.5 L2102.7 637.3 L2103.1 637.6 L2107.6 641 L2109.9 642.9 L2112.4 644.8 L2116.5 648.1 L2117.3 648.7 L2122.2 652.5 L2123.2 653.4 L2127 656.3 L2129.9 658.6 L2131.9 660.2 L2136.5 663.9 L2136.8 664.1 L2141.6 667.9 L2143.1 669.1 L2146.5 671.7 L2149.8 674.4 L2151.4 675.6 L2156.2 679.5 L2156.4 679.6 L2161.1 683.3 L2163 684.9 L2165.9 687.1 L2169.7 690.1 L2170.8 691 L2175.7 694.9 L2176.3 695.4 L2180.5 698.7 L2183 700.6 L2185.4 702.6 L2189.6 705.9 L2190.3 706.4 L2195.1 710.3 L2196.2 711.1 L2200 714.2 L2202.7 716.4 L2204.9 718.1 L2209.2 721.6 L2209.7 722 L2214.6 726 L2215.7 726.9 L2219.5 730 L2222 732.1 L2224.3 734.1 L2228.3 737.4 L2229.2 738.2 L2234.1 742.3 L2234.4 742.6 L2238.9 746.5 L2240.5 747.9 L2243.8 750.8 L2246.4 753.1 L2248.6 755.2 L2252.2 758.4 L2253.5 759.6 L2257.9 763.6 L2258.4 764.1 L2263.2 768.8 L2263.4 768.9 L2268.1 773.5 L2268.8 774.1 L2273 778.4 L2274 779.4 L2277.8 783.4 L2279 784.6 L2282.7 788.6 L2283.9 789.9 L2287.6 794 L2288.6 795.1 L2292.4 799.7 L2293.1 800.4 L2297.3 805.6 L2297.3 805.6 L2301.2 810.9 L2302.2 812.3 L2304.8 816.1 L2307 819.8 L2308.1 821.4 L2310.6 826.6 L2311.9 830.9 L2312.2 831.9 L2311.9 834.3 L2310.7 837.1 L2307 838.4 L2302.2 838 L2298.8 837.1 L2297.3 836.7 L2292.4 834.9 L2287.6 832.8 L2285.6 831.9 L2282.7 830.5 L2277.8 828 L2275.3 826.6 L2273 825.4 L2268.1 822.7 L2265.9 821.4 L2263.2 819.9 L2258.4 817 L2257 816.1 L2253.5 814 L2248.6 811 L2248.5 810.9 L2243.8 808 L2240.2 805.6 L2238.9 804.9 L2234.1 801.8 L2232 800.4 L2229.2 798.6 L2224.3 795.4 L2223.9 795.1 L2219.5 792.2 L2216 789.9 L2214.6 789 L2209.7 785.8 L2208.1 784.6 L2204.9 782.5 L2200.2 779.4 L2200 779.3 L2195.1 776.1 L2192.2 774.1 L2190.3 772.8 L2185.4 769.6 L2184.3 768.9 L2180.5 766.5 L2176.1 763.6 L2175.7 763.3 L2170.8 760.4 L2167.6 758.4 L2165.9 757.4 L2161.1 754.7 L2158.2 753.1 L2156.2 752.1 L2151.4 750 L2146.5 748.5 L2141.6 751.9 L2141.4 753.1 L2141.6 753.8 L2143 758.4 L2145.2 763.6 L2146.5 766.3 L2147.8 768.9 L2150.7 774.1 L2151.4 775.2 L2153.9 779.4 L2156.2 783.2 L2157.1 784.6 L2160.5 789.9 L2161.1 790.8 L2164 795.1 L2165.9 798.1 L2167.5 800.4 L2170.8 805.5 L2170.9 805.6 L2174.6 810.9 L2175.7 812.5 L2178.2 816.1 L2180.5 819.7 L2181.7 821.4 L2185.2 826.6 L2185.4 826.9 L2188.9 831.9 L2190.3 834 L2192.5 837.1 L2195.1 841.2 L2196 842.4 L2199.4 847.6 L2200 848.5 L2203 852.9 L2204.9 855.9 L2206.4 858.1 L2209.7 863.4 L2209.7 863.4 L2213.2 868.6 L2214.6 871 L2216.5 873.9 L2219.5 878.8 L2219.7 879.2 L2223 884.4 L2224.3 886.6 L2226.2 889.7 L2229.2 894.8 L2229.2 894.9 L2232.4 900.2 L2234.1 903.2 L2235.4 905.4 L2238.2 910.7 L2238.9 912 L2241.1 915.9 L2243.7 921.2 L2243.8 921.3 L2246.4 926.4 L2248.6 931.5 L2248.7 931.7 L2251.1 936.9 L2253.1 942.2 L2253.5 943.4 L2255 947.4 L2256.7 952.7 L2258.1 957.9 L2258.4 959.3 L2259.3 963.2 L2260.5 968.4 L2261.6 973.7 L2262.8 978.9 L2263.2 980.9 L2264.1 984.2 L2265.6 989.4 L2267.2 994.7 L2268.1 997.3 L2269 999.9 L2271 1005.2 L2272.9 1010.4 L2273 1010.7 L2275 1015.7 L2277 1020.9 L2277.8 1023.2 L2279.1 1026.2 L2281.1 1031.4 L2282.7 1035.8 L2283 1036.7 L2285 1041.9 L2286.8 1047.2 L2287.6 1049.6 L2288.5 1052.4 L2290.1 1057.7 L2291.5 1062.9 L2292.4 1067.7 L2292.5 1068.2 L2293.1 1073.4 L2293 1078.7 L2292.4 1080.9 L2291.2 1083.9 L2287.6 1087.1 L2282.7 1088.3 L2277.8 1088 L2273 1086.9 L2268.1 1085.4 L2264.7 1083.9 L2263.2 1083.4 L2258.4 1081.1 L2253.7 1078.7 L2253.5 1078.6 L2248.6 1076 L2244.5 1073.4 L2243.8 1073 L2238.9 1070.1 L2236.1 1068.2 L2234.1 1066.9 L2229.2 1063.7 L2228.2 1062.9 L2224.3 1060.4 L2220.6 1057.7 L2219.5 1056.9 L2214.6 1053.5 L2213.2 1052.4 L2209.7 1050 L2206 1047.2 L2204.9 1046.4 L2200 1042.8 L2198.8 1041.9 L2195.1 1039.3 L2191.7 1036.7 L2190.3 1035.6 L2185.4 1032 L2184.7 1031.4 L2180.5 1028.5 L2177.5 1026.2 L2175.7 1024.9 L2170.8 1021.3 L2170.3 1020.9 L2165.9 1017.9 L2162.9 1015.7 L2161.1 1014.5 L2156.2 1011 L2155.3 1010.4 L2151.4 1007.8 L2147.5 1005.2 L2146.5 1004.5 L2141.6 1001.5 L2139.2 999.9 L2136.8 998.5 L2131.9 995.6 L2130.2 994.7 L2127 993 L2122.2 990.5 L2119.6 989.4 L2117.3 988.5 L2112.4 987.1 L2107.6 986.9 L2102.7 989.4 L2102.7 989.4 L2099.6 994.7 L2097.8 997 L2095.1 999.9 L2093 1001.1 L2088.1 1002.1 L2083.2 1001.9 L2078.4 1000.9 L2075.2 999.9 L2073.5 999.4 L2068.6 997.5 L2063.8 995.4 L2062.2 994.7 L2058.9 993.1 L2054.1 990.7 L2051.8 989.4 L2049.2 988.1 L2044.3 985.4 L2042.2 984.2 L2039.5 982.6 L2034.6 979.8 L2033.2 978.9 L2029.7 976.9 L2024.9 973.9 L2024.5 973.7 L2020 971 L2016 968.4 L2015.1 967.9 L2010.3 964.9 L2007.6 963.2 L2005.4 961.8 L2000.5 958.7 L1999.3 957.9 L1995.7 955.6 L1991.2 952.7 L1990.8 952.4 L1985.9 949.3 L1983.2 947.4 L1981.1 946.1 L1976.2 942.8 L1975.3 942.2 L1971.4 939.5 L1967.7 936.9 L1966.5 936.1 L1961.6 932.7 L1960.2 931.7 L1956.8 929.3 L1952.9 926.4 L1951.9 925.7 L1947 922.1 L1945.9 921.2 L1942.2 918.4 L1939.1 915.9 L1937.3 914.6 L1932.5 910.7 L1932.4 910.6 L1927.6 906.7 L1926 905.4 L1922.7 902.7 L1919.8 900.2 L1917.8 898.5 L1913.7 894.9 L1913 894.3 L1908.1 889.9 L1907.8 889.7 L1903.2 885.5 L1902 884.4 L1898.4 881 L1896.4 879.2 L1893.5 876.5 L1890.9 873.9 L1888.6 871.8 L1885.5 868.6 L1883.8 867 L1880.2 863.4 L1878.9 862.1 L1875 858.1 L1874.1 857.2 L1869.9 852.9 L1869.2 852.2 L1864.9 847.6 L1864.3 847 L1860 842.4 L1859.5 841.8 L1855.2 837.1 L1854.6 836.5 L1850.4 831.9 L1849.7 831.1 L1845.8 826.6 L1844.9 825.6 L1841.3 821.4 L1840 819.9 L1836.8 816.1 L1835.1 814.1 L1832.5 810.9 L1830.3 808.1 L1828.3 805.6 L1825.4 802 L1824.1 800.4 L1820.5 795.6 L1820.2 795.1 L1816.3 789.9 L1815.7 788.9 L1812.7 784.6 L1810.8 781.8 L1809.1 779.4 L1805.9 774.3 L1805.8 774.1 L1802.8 768.9 L1801.1 765.6 L1800 763.6 L1797.5 758.4 L1796.2 754.9 L1795.5 753.1 L1794.1 747.9 L1793.3 742.6 L1793 737.4 L1792.8 732.1 L1791.6 726.9 L1791.4 726.4 L1789.1 721.6 L1786.5 717.3 L1786 716.4 L1782.2 711.1 L1781.6 710.5 L1778 705.9 L1776.8 704.5 L1773.6 700.6 L1771.9 698.7 L1769.1 695.4 L1767 693.1 L1764.5 690.1 L1762.2 687.5 L1759.8 684.9 L1757.3 682.1 L1755.1 679.6 L1752.4 676.7 L1750.4 674.4 L1747.6 671.3 L1745.7 669.1 L1742.7 665.9 L1740.9 663.9 L1737.8 660.5 L1736.2 658.6 L1733 655.1 L1731.4 653.4 L1728.1 649.7 L1726.7 648.1 L1723.2 644.2 L1722 642.9 L1718.4 638.7 L1717.4 637.6 L1713.5 633.2 L1712.8 632.4 L1708.6 627.6 L1708.2 627.1 L1703.8 622 L1703.6 621.9 L1699.1 616.6 L1698.9 616.4 L1694.6 611.4 L1694.1 610.7 L1690.1 606.1 L1689.2 605 L1685.7 600.8 L1684.3 599.1 L1681.4 595.6 L1679.5 593.2 L1677.1 590.3 L1674.6 587.2 L1672.8 585.1 L1669.7 581.1 L1668.7 579.8 L1664.9 574.9 L1664.6 574.6 L1660.5 569.3 L1660 568.7 L1656.4 564.1 L1655.1 562.4 L1652.3 558.8 L1650.3 556 L1648.4 553.6 L1645.4 549.6 L1644.4 548.3 L1640.5 543.1 L1640.5 543.1 L1636.5 537.8 L1635.7 536.7 L1632.5 532.6 L1630.8 530.3 L1628.5 527.3 L1625.9 523.9 L1624.5 522.1 L1621.1 517.6 L1620.5 516.8 L1616.4 511.6 L1616.2 511.3 L1612.2 506.3 L1611.4 505.2 L1608 501.1 L1606.5 499.2 L1603.7 495.8 L1601.6 493.3 L1599.3 490.6 L1596.8 487.5 L1594.9 485.3 L1591.9 481.8 L1590.4 480.1 L1587 476.2 L1585.8 474.8 L1582.2 470.7 L1581.2 469.6 L1577.3 465.2 L1576.5 464.3 L1572.4 459.7 L1571.9 459.1 L1567.6 454.3 L1567.1 453.8 L1562.7 448.9 L1562.4 448.6 L1557.8 443.4 L1557.7 443.3 L1553 438.1 L1553 438 L1548.4 432.8 L1548.1 432.5 L1543.7 427.6 L1543.2 427 L1539.1 422.3 L1538.4 421.5 L1534.5 417.1 L1533.5 415.9 L1530 411.8 L1528.6 410.3 L1525.5 406.6 L1523.8 404.5 L1521.1 401.3 L1518.9 398.8 L1516.7 396.1 L1514.1 392.9 L1512.3 390.8 L1509.2 386.9 L1508.1 385.6 L1504.3 380.9 L1503.9 380.3 L1499.7 375.1 L1499.5 374.8 L1495.5 369.8 L1494.6 368.6 L1491.4 364.6 L1489.7 362.4 L1487.4 359.3 L1484.9 356 L1483.4 354.1 L1480 349.4 L1479.6 348.8 L1475.7 343.6 L1475.1 342.7 L1471.9 338.3 L1470.3 335.9 L1468.2 333.1 L1465.4 328.9 L1464.7 327.8 L1461.2 322.5 L1460.5 321.6 L1457.7 317.3 L1455.7 314 L1454.4 312 L1451.3 306.8 L1450.8 306 L1448.1 301.5 L1445.9 297.5 L1445.2 296.3 L1442.3 291 L1441.1 288.5 L1439.6 285.8 L1437 280.5 L1436.2 279 L1434.3 275.3 L1431.8 270 L1431.4 269.2 L1429.1 264.8 L1426.6 259.5 L1426.5 259.4 L1423.7 254.3 L1421.6 250.1 L1421 249 L1418.1 243.8 L1416.8 241.2 L1415.2 238.5 L1412.4 233.3 L1411.9 232.3 L1409.3 228 L1407 223.6 L1406.5 222.8 L1403.5 217.5 L1402.2 214.9 L1400.7 212.3 L1397.9 207 L1397.3 205.7 L1395.2 201.8 L1392.7 196.5 L1392.4 195.9 L1390.2 191.3 L1388 186 L1387.6 184.7 L1386 180.8 L1384.4 175.5 L1383.3 170.3 L1382.8 165 L1383.7 159.8 L1387.5 154.5"/>
<path d="M1410 180.8 L1411.9 179 L1416.8 177.2 L1421.6 177.1 L1426.5 177.9 L1431.4 179.2 L1435.6 180.8 L1436.2 181 L1441.1 182.9 L1445.9 185.1 L1447.7 186 L1450.8 187.5 L1455.7 190 L1457.9 191.3 L1460.5 192.7 L1465.4 195.5 L1467.1 196.5 L1470.3 198.3 L1475.1 201.4 L1475.7 201.8 L1480 204.3 L1484 207 L1484.9 207.5 L1489.7 210.6 L1492 212.3 L1494.6 213.9 L1499.5 217.4 L1499.7 217.5 L1504.3 220.5 L1507.3 222.8 L1509.2 224 L1514.1 227.6 L1514.7 228 L1518.9 230.9 L1522 233.3 L1523.8 234.5 L1528.6 238.2 L1529 238.5 L1533.5 241.7 L1536.2 243.8 L1538.4 245.3 L1543 249 L1543.2 249.2 L1548.1 252.8 L1550 254.3 L1553 256.5 L1556.6 259.5 L1557.8 260.4 L1562.7 264.4 L1563.2 264.8 L1567.6 268.1 L1569.8 270 L1572.4 272.1 L1576.2 275.3 L1577.3 276.2 L1582.2 280.4 L1582.3 280.5 L1587 284.4 L1588.7 285.8 L1591.9 288.5 L1594.7 291 L1596.8 292.8 L1600.6 296.3 L1601.6 297.2 L1606.3 301.5 L1606.5 301.7 L1611.4 306 L1612.1 306.8 L1616.2 310.5 L1617.8 312 L1621.1 315 L1623.4 317.3 L1625.9 319.7 L1628.9 322.5 L1630.8 324.4 L1634.2 327.8 L1635.7 329.2 L1639.5 333.1 L1640.5 334 L1644.8 338.3 L1645.4 338.9 L1650 343.6 L1650.3 343.9 L1655.1 348.8 L1655.1 348.8 L1660 353.7 L1660.3 354.1 L1664.9 358.6 L1665.6 359.3 L1669.7 363.5 L1670.7 364.6 L1674.6 368.5 L1675.9 369.8 L1679.5 373.4 L1681.1 375.1 L1684.3 378.4 L1686.2 380.3 L1689.2 383.3 L1691.4 385.6 L1694.1 388.3 L1696.5 390.8 L1698.9 393.2 L1701.7 396.1 L1703.8 398.2 L1706.9 401.3 L1708.6 403.1 L1712.1 406.6 L1713.5 408 L1717.3 411.8 L1718.4 412.9 L1722.5 417.1 L1723.2 417.8 L1727.8 422.3 L1728.1 422.6 L1733 427.3 L1733.2 427.6 L1737.8 431.9 L1738.9 432.8 L1742.7 436.3 L1744.7 438.1 L1747.6 440.6 L1750.8 443.3 L1752.4 444.8 L1757.1 448.6 L1757.3 448.8 L1762.2 451.6 L1767 453.2 L1769 448.6 L1768.3 443.3 L1767 438.2 L1767 438.1 L1765 432.8 L1763.2 427.6 L1762.2 425 L1761.1 422.3 L1758.9 417.1 L1757.3 413 L1756.8 411.8 L1754.6 406.6 L1752.6 401.3 L1752.4 400.9 L1750.6 396.1 L1748.8 390.8 L1747.6 386 L1747.4 385.6 L1746.6 380.3 L1747 375.1 L1747.6 373.7 L1751.6 369.8 L1752.4 369.5 L1757.3 369.2 L1760.6 369.8 L1762.2 370.1 L1767 371.7 L1771.9 373.6 L1774.8 375.1 L1776.8 376 L1781.6 378.6 L1784.6 380.3 L1786.5 381.4 L1791.4 384.3 L1793.2 385.6 L1796.2 387.5 L1801.1 390.8 L1801.1 390.8 L1805.9 394.2 L1808.4 396.1 L1810.8 397.8 L1815.5 401.3 L1815.7 401.4 L1820.5 405.1 L1822.3 406.6 L1825.4 408.9 L1828.9 411.8 L1830.3 412.9 L1835.1 416.9 L1835.4 417.1 L1840 420.9 L1841.6 422.3 L1844.9 425 L1847.8 427.6 L1849.7 429.2 L1853.8 432.8 L1854.6 433.5 L1859.5 437.8 L1859.7 438.1 L1864.3 442.2 L1865.6 443.3 L1869.2 446.6 L1871.4 448.6 L1874.1 451 L1877 453.8 L1878.9 455.6 L1882.6 459.1 L1883.8 460.1 L1888.2 464.3 L1888.6 464.8 L1893.5 469.4 L1893.7 469.6 L1898.4 474.1 L1899.1 474.8 L1903.2 478.8 L1904.5 480.1 L1908.1 483.6 L1909.9 485.3 L1913 488.4 L1915.2 490.6 L1917.8 493.2 L1920.4 495.8 L1922.7 498.1 L1925.7 501.1 L1927.6 503 L1930.9 506.3 L1932.4 507.9 L1936 511.6 L1937.3 512.9 L1941.1 516.8 L1942.2 517.9 L1946.2 522.1 L1947 522.9 L1951.3 527.3 L1951.9 527.9 L1956.4 532.6 L1956.8 533 L1961.4 537.8 L1961.6 538 L1966.5 543.1 L1966.5 543.1 L1971.4 548.1 L1971.5 548.3 L1976.2 553.2 L1976.6 553.6 L1981.1 558.3 L1981.6 558.8 L1985.9 563.3 L1986.7 564.1 L1990.8 568.4 L1991.8 569.3 L1995.7 573.4 L1996.8 574.6 L2000.5 578.5 L2001.9 579.8 L2005.4 583.5 L2007 585.1 L2010.3 588.5 L2012.1 590.3 L2015.1 593.5 L2017.2 595.6 L2020 598.5 L2022.4 600.8 L2024.9 603.5 L2027.6 606.1 L2029.7 608.4 L2032.7 611.4 L2034.6 613.3 L2038 616.6 L2039.5 618.2 L2043.2 621.9 L2044.3 623.1 L2048.4 627.1 L2049.2 628 L2053.6 632.4 L2054.1 632.9 L2058.8 637.6 L2058.9 637.8 L2063.8 642.8 L2063.8 642.9 L2068.6 648 L2068.8 648.1 L2073.3 653.4 L2073.5 653.7 L2077.2 658.6 L2078.4 662.1 L2079.3 663.9 L2079.5 669.1 L2079.3 674.4 L2079.9 679.6 L2081 684.9 L2082.5 690.1 L2083.2 692.1 L2084.6 695.4 L2086.9 700.6 L2088.1 703.3 L2089.4 705.9 L2092.1 711.1 L2093 712.7 L2095 716.4 L2097.8 721.5 L2097.9 721.6 L2101.2 726.9 L2102.7 729.4 L2104.4 732.1 L2107.6 737.3 L2107.6 737.4 L2111.1 742.6 L2112.4 744.7 L2114.6 747.9 L2117.3 752 L2118 753.1 L2121.6 758.4 L2122.2 759.2 L2125.2 763.6 L2127 766.3 L2128.9 768.9 L2131.9 773.3 L2132.5 774.1 L2136.2 779.4 L2136.8 780.2 L2139.9 784.6 L2141.6 787.1 L2143.6 789.9 L2146.5 794 L2147.3 795.1 L2151 800.4 L2151.4 801 L2154.7 805.6 L2156.2 807.8 L2158.4 810.9 L2161.1 814.8 L2162 816.1 L2165.6 821.4 L2165.9 821.9 L2169.3 826.6 L2170.8 829 L2172.8 831.9 L2175.7 836.2 L2176.3 837.1 L2179.8 842.4 L2180.5 843.6 L2183.2 847.6 L2185.4 851.1 L2186.6 852.9 L2189.8 858.1 L2190.3 858.9 L2193.1 863.4 L2195.1 867 L2196.2 868.6 L2199.2 873.9 L2200 875.4 L2202.2 879.2 L2204.9 884.3 L2204.9 884.4 L2207.7 889.7 L2209.7 894 L2210.2 894.9 L2212.6 900.2 L2214.6 905.1 L2214.7 905.4 L2216.8 910.7 L2218.5 915.9 L2219.5 919.1 L2220.1 921.2 L2221.5 926.4 L2222.6 931.7 L2223.7 936.9 L2224.3 940 L2224.8 942.2 L2225.9 947.4 L2227.2 952.7 L2228.6 957.9 L2229.2 960 L2230.1 963.2 L2231.8 968.4 L2233.6 973.7 L2234.1 975.1 L2235.4 978.9 L2237.3 984.2 L2238.9 988.9 L2239.1 989.4 L2241 994.7 L2242.8 999.9 L2243.8 1003 L2244.5 1005.2 L2246.1 1010.4 L2247.4 1015.7 L2248.5 1020.9 L2248.6 1021.8 L2249.2 1026.2 L2249 1031.4 L2248.6 1032.6 L2246.4 1036.7 L2243.8 1038.4 L2238.9 1038.9 L2234.1 1038.1 L2229.9 1036.7 L2229.2 1036.4 L2224.3 1034.3 L2219.5 1031.8 L2218.8 1031.4 L2214.6 1029.1 L2209.8 1026.2 L2209.7 1026.1 L2204.9 1023 L2201.8 1020.9 L2200 1019.8 L2195.1 1016.4 L2194.1 1015.7 L2190.3 1013 L2186.8 1010.4 L2185.4 1009.4 L2180.5 1005.8 L2179.7 1005.2 L2175.7 1002.2 L2172.8 999.9 L2170.8 998.5 L2165.9 994.7 L2165.9 994.7 L2161.1 991 L2159.1 989.4 L2156.2 987.2 L2152.4 984.2 L2151.4 983.3 L2146.5 979.5 L2145.7 978.9 L2141.6 975.7 L2139 973.7 L2136.8 971.9 L2132.4 968.4 L2131.9 968 L2127 964.2 L2125.8 963.2 L2122.2 960.3 L2119.2 957.9 L2117.3 956.4 L2112.7 952.7 L2112.4 952.4 L2107.6 948.6 L2106.2 947.4 L2102.7 944.6 L2099.7 942.2 L2097.8 940.6 L2093.4 936.9 L2093 936.5 L2088.1 932.5 L2087.2 931.7 L2083.2 928.4 L2081 926.4 L2078.4 924.2 L2075 921.2 L2073.5 919.9 L2069.1 915.9 L2068.6 915.5 L2063.8 911 L2063.4 910.7 L2058.9 906.6 L2057.7 905.4 L2054.1 902 L2052.1 900.2 L2049.2 897.3 L2046.7 894.9 L2044.3 892.5 L2041.5 889.7 L2039.5 887.6 L2036.3 884.4 L2034.6 882.7 L2031.2 879.2 L2029.7 877.6 L2026.2 873.9 L2024.9 872.4 L2021.3 868.6 L2020 867.2 L2016.5 863.4 L2015.1 861.9 L2011.7 858.1 L2010.3 856.5 L2007 852.9 L2005.4 851.1 L2002.3 847.6 L2000.5 845.7 L1997.6 842.4 L1995.7 840.2 L1992.9 837.1 L1990.8 834.8 L1988.2 831.9 L1985.9 829.3 L1983.5 826.6 L1981.1 824 L1978.7 821.4 L1976.2 818.6 L1973.8 816.1 L1971.4 813.4 L1968.9 810.9 L1966.5 808.4 L1963.7 805.6 L1961.6 803.5 L1958.3 800.4 L1956.8 798.9 L1952.4 795.1 L1951.9 794.6 L1947 790.8 L1945.6 789.9 L1942.2 787.5 L1937.3 784.8 L1936.9 784.6 L1932.4 782.8 L1927.6 781.4 L1922.7 780.4 L1917.8 779.6 L1916.6 779.4 L1913 778.7 L1908.1 777.7 L1903.2 776.3 L1898.4 774.7 L1897.1 774.1 L1893.5 772.8 L1888.6 770.6 L1885.4 768.9 L1883.8 768.1 L1878.9 765.6 L1875.8 763.6 L1874.1 762.7 L1869.2 759.7 L1867.2 758.4 L1864.3 756.6 L1859.5 753.2 L1859.4 753.1 L1854.6 749.9 L1852 747.9 L1849.7 746.3 L1845 742.6 L1844.9 742.5 L1840 738.9 L1838.2 737.4 L1835.1 735 L1831.7 732.1 L1830.3 731 L1825.5 726.9 L1825.4 726.8 L1820.5 722.8 L1819.2 721.6 L1815.7 718.6 L1813.2 716.4 L1810.8 714.3 L1807.4 711.1 L1805.9 709.9 L1801.6 705.9 L1801.1 705.4 L1796.2 700.8 L1796 700.6 L1791.4 696.3 L1790.4 695.4 L1786.5 691.7 L1784.9 690.1 L1781.6 687 L1779.5 684.9 L1776.8 682.2 L1774.2 679.6 L1771.9 677.3 L1769 674.4 L1767 672.4 L1763.9 669.1 L1762.2 667.3 L1758.8 663.9 L1757.3 662.3 L1753.8 658.6 L1752.4 657.1 L1748.9 653.4 L1747.6 651.9 L1744 648.1 L1742.7 646.6 L1739.2 642.9 L1737.8 641.3 L1734.5 637.6 L1733 635.9 L1729.8 632.4 L1728.1 630.4 L1725.2 627.1 L1723.2 624.8 L1720.7 621.9 L1718.4 619.1 L1716.3 616.6 L1713.5 613.2 L1711.9 611.4 L1708.6 607.3 L1707.6 606.1 L1703.8 601.3 L1703.4 600.8 L1699.3 595.6 L1698.9 595.1 L1695.1 590.3 L1694.1 588.9 L1691.1 585.1 L1689.2 582.6 L1687.1 579.8 L1684.3 576 L1683.2 574.6 L1679.5 569.3 L1679.5 569.3 L1675.6 564.1 L1674.6 562.6 L1671.8 558.8 L1669.7 555.7 L1668.2 553.6 L1664.9 548.7 L1664.6 548.3 L1661 543.1 L1660 541.6 L1657.4 537.8 L1655.1 534.4 L1653.9 532.6 L1650.4 527.3 L1650.3 527.1 L1646.8 522.1 L1645.4 520 L1643.2 516.8 L1640.5 512.8 L1639.7 511.6 L1636.1 506.3 L1635.7 505.7 L1632.4 501.1 L1630.8 498.8 L1628.6 495.8 L1625.9 492.1 L1624.8 490.6 L1621.1 485.6 L1620.9 485.3 L1616.8 480.1 L1616.2 479.4 L1612.5 474.8 L1611.4 473.4 L1608.2 469.6 L1606.5 467.6 L1603.6 464.3 L1601.6 462 L1599 459.1 L1596.8 456.6 L1594.2 453.8 L1591.9 451.4 L1589.2 448.6 L1587 446.3 L1584.2 443.3 L1582.2 441.3 L1579.1 438.1 L1577.3 436.3 L1573.9 432.8 L1572.4 431.3 L1568.7 427.6 L1567.6 426.4 L1563.6 422.3 L1562.7 421.4 L1558.5 417.1 L1557.8 416.4 L1553.4 411.8 L1553 411.4 L1548.4 406.6 L1548.1 406.3 L1543.4 401.3 L1543.2 401.1 L1538.6 396.1 L1538.4 395.8 L1533.8 390.8 L1533.5 390.4 L1529.2 385.6 L1528.6 385 L1524.6 380.3 L1523.8 379.3 L1520.2 375.1 L1518.9 373.6 L1515.8 369.8 L1514.1 367.6 L1511.6 364.6 L1509.2 361.5 L1507.4 359.3 L1504.3 355.2 L1503.4 354.1 L1499.6 348.8 L1499.5 348.7 L1495.7 343.6 L1494.6 341.9 L1492 338.3 L1489.7 334.9 L1488.5 333.1 L1485 327.8 L1484.9 327.5 L1481.6 322.5 L1480 320 L1478.3 317.3 L1475.1 312.1 L1475.1 312 L1471.8 306.8 L1470.3 304.3 L1468.6 301.5 L1465.5 296.3 L1465.4 296.1 L1462.2 291 L1460.5 288.4 L1458.9 285.8 L1455.8 280.5 L1455.7 280.4 L1452.4 275.3 L1450.8 272.7 L1449.1 270 L1445.9 264.8 L1445.9 264.8 L1442.5 259.5 L1441.1 257.2 L1439.2 254.3 L1436.2 249.3 L1436 249 L1432.7 243.8 L1431.4 241.4 L1429.5 238.5 L1426.6 233.3 L1426.5 233.2 L1423.4 228 L1421.6 224.6 L1420.6 222.8 L1417.8 217.5 L1416.8 215.2 L1415.3 212.3 L1413 207 L1411.9 204.1 L1410.9 201.8 L1409.3 196.5 L1408.2 191.3 L1408.1 186 L1410 180.8"/>
<path d="M1912 847.6 L1913 847.4 L1913.6 847.6 L1917.8 849.8 L1922.7 852 L1924.2 852.9 L1927.6 855.3 L1932.4 858.1 L1932.5 858.1 L1937.3 861.8 L1939.6 863.4 L1942.2 865.5 L1946.6 868.6 L1947 869 L1951.9 873 L1953 873.9 L1956.8 877.3 L1959 879.2 L1961.6 881.8 L1964.6 884.4 L1966.5 886.6 L1969.6 889.7 L1971.4 892.2 L1973.6 894.9 L1971.4 898.3 L1966.5 896.5 L1963.1 894.9 L1961.6 894 L1956.8 890.9 L1954.7 889.7 L1951.9 887.5 L1947 884.5 L1946.9 884.4 L1942.2 880.5 L1940.2 879.2 L1937.3 876.6 L1933.7 873.9 L1932.4 872.7 L1927.6 868.7 L1927.5 868.6 L1922.7 864 L1922 863.4 L1917.8 859 L1917 858.1 L1913 853.3 L1912.6 852.9 L1912 847.6"/>
<path d="M1428.6 196.5 L1431.4 195 L1436.2 194.4 L1441.1 195 L1445.9 196.2 L1446.8 196.5 L1450.8 197.9 L1455.7 199.9 L1459.5 201.8 L1460.5 202.2 L1465.4 204.6 L1469.6 207 L1470.3 207.4 L1475.1 210.1 L1478.7 212.3 L1480 213 L1484.9 216 L1487.1 217.5 L1489.7 219.1 L1494.6 222.4 L1495.1 222.8 L1499.5 225.6 L1502.8 228 L1504.3 229.1 L1509.2 232.5 L1510.2 233.3 L1514.1 236 L1517.4 238.5 L1518.9 239.6 L1523.8 243.3 L1524.4 243.8 L1528.6 246.9 L1531.3 249 L1533.5 250.7 L1537.9 254.3 L1538.4 254.6 L1543.2 258.4 L1544.6 259.5 L1548.1 262.3 L1551.1 264.8 L1553 266.3 L1557.4 270 L1557.8 270.4 L1562.7 274.5 L1563.7 275.3 L1567.6 278.5 L1569.9 280.5 L1572.4 282.7 L1575.9 285.8 L1577.3 287 L1581.8 291 L1582.2 291.4 L1587 295.6 L1587.7 296.3 L1591.9 299.9 L1593.6 301.5 L1596.8 304.3 L1599.4 306.8 L1601.6 308.8 L1605 312 L1606.5 313.4 L1610.6 317.3 L1611.4 318 L1616 322.5 L1616.2 322.7 L1621.1 327.3 L1621.6 327.8 L1625.9 332 L1627 333.1 L1630.8 336.7 L1632.5 338.3 L1635.7 341.4 L1637.8 343.6 L1640.5 346.2 L1643.1 348.8 L1645.4 351.1 L1648.3 354.1 L1650.3 356 L1653.5 359.3 L1655.1 360.9 L1658.7 364.6 L1660 365.9 L1663.8 369.8 L1664.9 370.9 L1668.8 375.1 L1669.7 376 L1673.9 380.3 L1674.6 381.1 L1678.9 385.6 L1679.5 386.2 L1683.9 390.8 L1684.3 391.3 L1688.8 396.1 L1689.2 396.5 L1693.7 401.3 L1694.1 401.7 L1698.6 406.6 L1698.9 406.9 L1703.4 411.8 L1703.8 412.2 L1708.2 417.1 L1708.6 417.5 L1713 422.3 L1713.5 422.9 L1717.7 427.6 L1718.4 428.3 L1722.4 432.8 L1723.2 433.8 L1727.1 438.1 L1728.1 439.3 L1731.7 443.3 L1733 444.9 L1736.2 448.6 L1737.8 450.5 L1740.7 453.8 L1742.7 456.3 L1745.1 459.1 L1747.6 462.1 L1749.5 464.3 L1752.4 468 L1753.8 469.6 L1757.3 474.1 L1757.9 474.8 L1762.1 480.1 L1762.2 480.2 L1766.2 485.3 L1767 486.4 L1770.3 490.6 L1771.9 492.8 L1774.3 495.8 L1776.8 499.3 L1778.1 501.1 L1781.6 506 L1781.8 506.3 L1785.6 511.6 L1786.5 512.9 L1789.3 516.8 L1791.4 520 L1792.9 522.1 L1796.2 527.3 L1796.2 527.3 L1799.8 532.6 L1801.1 534.7 L1803.2 537.8 L1805.9 542.4 L1806.4 543.1 L1809.8 548.3 L1810.8 550.1 L1813.1 553.6 L1815.7 557.9 L1816.3 558.8 L1819.6 564.1 L1820.5 565.6 L1823 569.3 L1825.4 573.3 L1826.3 574.6 L1829.7 579.8 L1830.3 580.8 L1833.2 585.1 L1835.1 588.1 L1836.8 590.3 L1840 595.1 L1840.3 595.6 L1844.1 600.8 L1844.9 602 L1848 606.1 L1849.7 608.5 L1852.1 611.4 L1854.6 614.7 L1856.3 616.6 L1859.5 620.6 L1860.7 621.9 L1864.3 625.9 L1865.7 627.1 L1869.2 630.6 L1871.6 632.4 L1874.1 634.4 L1878.9 636.9 L1882 637.6 L1883.8 638.1 L1888 637.6 L1888.6 637.5 L1893.5 634.2 L1894.6 632.4 L1896.1 627.1 L1896.1 621.9 L1895.4 616.6 L1894.1 611.4 L1893.5 609.6 L1892.3 606.1 L1890.2 600.8 L1888.6 597.2 L1887.9 595.6 L1885.3 590.3 L1883.8 587.3 L1882.6 585.1 L1879.8 579.8 L1878.9 578.3 L1876.8 574.6 L1874.1 569.8 L1873.8 569.3 L1870.5 564.1 L1869.2 561.9 L1867.3 558.8 L1864.3 554 L1864.1 553.6 L1860.7 548.3 L1859.5 546.4 L1857.3 543.1 L1854.6 538.8 L1853.9 537.8 L1850.6 532.6 L1849.7 531.3 L1847.1 527.3 L1844.9 523.7 L1843.8 522.1 L1840.5 516.8 L1840 516 L1837.1 511.6 L1835.1 508.3 L1833.9 506.3 L1830.7 501.1 L1830.3 500.3 L1827.5 495.8 L1825.4 492.2 L1824.4 490.6 L1821.4 485.3 L1820.5 483.8 L1818.4 480.1 L1815.7 475.1 L1815.5 474.8 L1812.6 469.6 L1810.8 466.1 L1809.9 464.3 L1807.2 459.1 L1805.9 456.6 L1804.6 453.8 L1802.1 448.6 L1801.1 446.3 L1799.7 443.3 L1797.5 438.1 L1796.2 434.5 L1795.6 432.8 L1794.1 427.6 L1793.2 422.3 L1794.1 417.1 L1796.2 415 L1801.1 414.4 L1805.9 415.5 L1809.8 417.1 L1810.8 417.4 L1815.7 420 L1819.8 422.3 L1820.5 422.8 L1825.4 425.9 L1827.9 427.6 L1830.3 429.2 L1835.1 432.6 L1835.4 432.8 L1840 436.3 L1842.3 438.1 L1844.9 440 L1849 443.3 L1849.7 443.9 L1854.6 447.9 L1855.4 448.6 L1859.5 452 L1861.6 453.8 L1864.3 456.1 L1867.7 459.1 L1869.2 460.4 L1873.6 464.3 L1874.1 464.7 L1878.9 469.1 L1879.4 469.6 L1883.8 473.6 L1885.1 474.8 L1888.6 478.1 L1890.7 480.1 L1893.5 482.7 L1896.2 485.3 L1898.4 487.4 L1901.7 490.6 L1903.2 492.1 L1907 495.8 L1908.1 496.9 L1912.3 501.1 L1913 501.7 L1917.6 506.3 L1917.8 506.6 L1922.7 511.5 L1922.8 511.6 L1927.6 516.5 L1927.9 516.8 L1932.4 521.5 L1933 522.1 L1937.3 526.6 L1938 527.3 L1942.2 531.7 L1943 532.6 L1947 536.9 L1947.9 537.8 L1951.9 542.1 L1952.8 543.1 L1956.8 547.4 L1957.6 548.3 L1961.6 552.7 L1962.4 553.6 L1966.5 558.1 L1967.2 558.8 L1971.4 563.5 L1971.9 564.1 L1976.2 569 L1976.5 569.3 L1981.1 574.6 L1981.1 574.6 L1985.6 579.8 L1985.9 580.2 L1990.1 585.1 L1990.8 586 L1994.5 590.3 L1995.7 591.8 L1998.8 595.6 L2000.5 597.8 L2003.1 600.8 L2005.4 603.9 L2007.2 606.1 L2010.3 610.2 L2011.2 611.4 L2015.1 616.6 L2015.1 616.7 L2018.9 621.9 L2020 623.4 L2022.6 627.1 L2024.9 630.5 L2026.1 632.4 L2029.5 637.6 L2029.7 637.9 L2032.9 642.9 L2034.6 645.6 L2036.2 648.1 L2039.4 653.4 L2039.5 653.5 L2042.6 658.6 L2044.3 661.4 L2045.8 663.9 L2048.9 669.1 L2049.2 669.5 L2052.2 674.4 L2054.1 677.3 L2055.5 679.6 L2058.7 684.9 L2058.9 685.2 L2062.1 690.1 L2063.8 692.7 L2065.5 695.4 L2068.6 700.3 L2068.9 700.6 L2072.4 705.9 L2073.5 707.6 L2075.9 711.1 L2078.4 714.8 L2079.4 716.4 L2083 721.6 L2083.2 722 L2086.6 726.9 L2088.1 729 L2090.3 732.1 L2093 736 L2093.9 737.4 L2097.6 742.6 L2097.8 743 L2101.3 747.9 L2102.7 749.8 L2105.1 753.1 L2107.6 756.6 L2108.9 758.4 L2112.4 763.4 L2112.6 763.6 L2116.4 768.9 L2117.3 770.1 L2120.2 774.1 L2122.2 776.8 L2124 779.4 L2127 783.6 L2127.8 784.6 L2131.5 789.9 L2131.9 790.4 L2135.3 795.1 L2136.8 797.2 L2139.1 800.4 L2141.6 804 L2142.8 805.6 L2146.4 810.9 L2146.5 811 L2150.1 816.1 L2151.4 818.1 L2153.7 821.4 L2156.2 825.3 L2157.2 826.6 L2160.6 831.9 L2161.1 832.6 L2164 837.1 L2165.9 840.3 L2167.3 842.4 L2170.5 847.6 L2170.8 848.2 L2173.6 852.9 L2175.7 856.5 L2176.6 858.1 L2179.5 863.4 L2180.5 865.5 L2182.2 868.6 L2184.8 873.9 L2185.4 875.4 L2187.1 879.2 L2189.3 884.4 L2190.3 887.2 L2191.2 889.7 L2192.9 894.9 L2194.3 900.2 L2195.1 904 L2195.5 905.4 L2196.4 910.7 L2197.3 915.9 L2198.1 921.2 L2199.1 926.4 L2200 931.2 L2200.1 931.7 L2201.3 936.9 L2202.6 942.2 L2204 947.4 L2204.9 950.3 L2205.6 952.7 L2207.1 957.9 L2208.6 963.2 L2209.7 967.1 L2210.1 968.4 L2211.4 973.7 L2212.5 978.9 L2213.3 984.2 L2213.5 989.4 L2212.1 994.7 L2209.7 997 L2204.9 997.9 L2200 996.9 L2195.1 995.1 L2194.3 994.7 L2190.3 992.7 L2185.4 990 L2184.5 989.4 L2180.5 987 L2176.2 984.2 L2175.7 983.8 L2170.8 980.4 L2168.7 978.9 L2165.9 976.9 L2161.5 973.7 L2161.1 973.4 L2156.2 969.7 L2154.6 968.4 L2151.4 965.9 L2147.9 963.2 L2146.5 962.1 L2141.6 958.2 L2141.3 957.9 L2136.8 954.2 L2134.9 952.7 L2131.9 950.2 L2128.5 947.4 L2127 946.2 L2122.3 942.2 L2122.2 942.1 L2117.3 938 L2116.1 936.9 L2112.4 933.8 L2110 931.7 L2107.6 929.6 L2103.9 926.4 L2102.7 925.3 L2098 921.2 L2097.8 921 L2093 916.6 L2092.2 915.9 L2088.1 912.2 L2086.4 910.7 L2083.2 907.7 L2080.7 905.4 L2078.4 903.2 L2075.2 900.2 L2073.5 898.5 L2069.7 894.9 L2068.6 893.8 L2064.4 889.7 L2063.8 889.1 L2059.1 884.4 L2058.9 884.2 L2054.1 879.2 L2054 879.2 L2049.2 874.1 L2049 873.9 L2044.3 868.9 L2044.1 868.6 L2039.5 863.6 L2039.2 863.4 L2034.6 858.2 L2034.5 858.1 L2029.9 852.9 L2029.7 852.7 L2025.3 847.6 L2024.9 847.1 L2020.8 842.4 L2020 841.4 L2016.4 837.1 L2015.1 835.6 L2012.1 831.9 L2010.3 829.7 L2007.8 826.6 L2005.4 823.7 L2003.5 821.4 L2000.5 817.7 L1999.3 816.1 L1995.7 811.6 L1995.1 810.9 L1990.9 805.6 L1990.8 805.5 L1986.8 800.4 L1985.9 799.3 L1982.6 795.1 L1981.1 793.2 L1978.5 789.9 L1976.2 787 L1974.3 784.6 L1971.4 780.9 L1970.1 779.4 L1966.5 774.8 L1966 774.1 L1961.8 768.9 L1961.6 768.7 L1957.6 763.6 L1956.8 762.6 L1953.4 758.4 L1951.9 756.5 L1949.1 753.1 L1947 750.5 L1944.9 747.9 L1942.2 744.5 L1940.6 742.6 L1937.3 738.5 L1936.3 737.4 L1932.4 732.7 L1931.9 732.1 L1927.6 726.9 L1927.6 726.9 L1923 721.6 L1922.7 721.2 L1918.4 716.4 L1917.8 715.7 L1913.5 711.1 L1913 710.5 L1908.2 705.9 L1908.1 705.8 L1903.2 702 L1898.4 700.8 L1896.7 705.9 L1896.7 711.1 L1897 716.4 L1897.4 721.6 L1897.6 726.9 L1897.5 732.1 L1896.5 737.4 L1893.5 742.6 L1893.5 742.6 L1888.6 745.2 L1883.8 745.8 L1878.9 745.2 L1874.1 743.9 L1870.8 742.6 L1869.2 742.1 L1864.3 739.8 L1859.6 737.4 L1859.5 737.3 L1854.6 734.5 L1850.8 732.1 L1849.7 731.5 L1844.9 728.4 L1842.8 726.9 L1840 725 L1835.4 721.6 L1835.1 721.4 L1830.3 717.8 L1828.5 716.4 L1825.4 714.1 L1821.8 711.1 L1820.5 710.1 L1815.7 706.1 L1815.4 705.9 L1810.8 702 L1809.3 700.6 L1805.9 697.8 L1803.3 695.4 L1801.1 693.5 L1797.4 690.1 L1796.2 689 L1791.8 684.9 L1791.4 684.5 L1786.5 679.8 L1786.2 679.6 L1781.6 675.2 L1780.8 674.4 L1776.8 670.4 L1775.5 669.1 L1771.9 665.5 L1770.2 663.9 L1767 660.6 L1765.1 658.6 L1762.2 655.5 L1760.1 653.4 L1757.3 650.4 L1755.2 648.1 L1752.4 645.1 L1750.4 642.9 L1747.6 639.8 L1745.6 637.6 L1742.7 634.3 L1741 632.4 L1737.8 628.7 L1736.4 627.1 L1733 623.1 L1731.9 621.9 L1728.1 617.2 L1727.6 616.6 L1723.3 611.4 L1723.2 611.3 L1719 606.1 L1718.4 605.3 L1714.8 600.8 L1713.5 599.1 L1710.8 595.6 L1708.6 592.8 L1706.8 590.3 L1703.8 586.3 L1702.9 585.1 L1699.1 579.8 L1698.9 579.6 L1695.3 574.6 L1694.1 572.7 L1691.6 569.3 L1689.2 565.7 L1688 564.1 L1684.5 558.8 L1684.3 558.5 L1681 553.6 L1679.5 551.1 L1677.6 548.3 L1674.6 543.6 L1674.3 543.1 L1670.9 537.8 L1669.7 535.9 L1667.6 532.6 L1664.9 528 L1664.4 527.3 L1661.1 522.1 L1660 520.2 L1657.9 516.8 L1655.1 512.3 L1654.6 511.6 L1651.3 506.3 L1650.3 504.6 L1648 501.1 L1645.4 497 L1644.6 495.8 L1641.1 490.6 L1640.5 489.7 L1637.5 485.3 L1635.7 482.7 L1633.8 480.1 L1630.8 475.9 L1630 474.8 L1626.1 469.6 L1625.9 469.4 L1621.9 464.3 L1621.1 463.3 L1617.6 459.1 L1616.2 457.4 L1613.1 453.8 L1611.4 451.8 L1608.5 448.6 L1606.5 446.4 L1603.7 443.3 L1601.6 441.1 L1598.8 438.1 L1596.8 436 L1593.7 432.8 L1591.9 430.9 L1588.6 427.6 L1587 426 L1583.4 422.3 L1582.2 421.1 L1578.1 417.1 L1577.3 416.3 L1572.8 411.8 L1572.4 411.4 L1567.6 406.6 L1567.6 406.5 L1562.7 401.7 L1562.4 401.3 L1557.8 396.7 L1557.2 396.1 L1553 391.7 L1552.1 390.8 L1548.1 386.6 L1547.2 385.6 L1543.2 381.3 L1542.3 380.3 L1538.4 375.9 L1537.6 375.1 L1533.5 370.4 L1533 369.8 L1528.6 364.7 L1528.6 364.6 L1524.2 359.3 L1523.8 358.9 L1519.8 354.1 L1518.9 352.9 L1515.6 348.8 L1514.1 346.8 L1511.5 343.6 L1509.2 340.5 L1507.5 338.3 L1504.3 334 L1503.6 333.1 L1499.8 327.8 L1499.5 327.4 L1495.8 322.5 L1494.6 320.8 L1492 317.3 L1489.7 314.1 L1488.2 312 L1484.9 307.2 L1484.6 306.8 L1480.8 301.5 L1480 300.4 L1477 296.3 L1475.1 293.6 L1473.3 291 L1470.3 286.6 L1469.7 285.8 L1466.1 280.5 L1465.4 279.6 L1462.4 275.3 L1460.5 272.5 L1458.9 270 L1455.7 265.1 L1455.4 264.8 L1451.9 259.5 L1450.8 257.7 L1448.5 254.3 L1445.9 250 L1445.3 249 L1442.1 243.8 L1441.1 241.9 L1439 238.5 L1436.2 233.3 L1436.2 233.3 L1433.4 228 L1431.4 223.5 L1431 222.8 L1428.8 217.5 L1427.1 212.3 L1426.5 209.3 L1426 207 L1425.9 201.8 L1426.5 199.9 L1428.6 196.5"/>
<path d="M1439 207 L1441.1 205.7 L1445.9 204.9 L1450.8 205.5 L1455.7 206.8 L1456.3 207 L1460.5 208.5 L1465.4 210.6 L1468.7 212.3 L1470.3 213 L1475.1 215.5 L1478.5 217.5 L1480 218.3 L1484.9 221.1 L1487.4 222.8 L1489.7 224.2 L1494.6 227.3 L1495.6 228 L1499.5 230.5 L1503.4 233.3 L1504.3 233.9 L1509.2 237.3 L1510.9 238.5 L1514.1 240.7 L1518.1 243.8 L1518.9 244.4 L1523.8 248 L1525.1 249 L1528.6 251.6 L1531.9 254.3 L1533.5 255.5 L1538.4 259.4 L1538.5 259.5 L1543.2 263.2 L1545.2 264.8 L1548.1 267.1 L1551.5 270 L1553 271.2 L1557.7 275.3 L1557.8 275.4 L1562.7 279.4 L1564 280.5 L1567.6 283.5 L1570.2 285.8 L1572.4 287.7 L1576.1 291 L1577.3 292.1 L1581.9 296.3 L1582.2 296.5 L1587 300.8 L1587.8 301.5 L1591.9 305.2 L1593.6 306.8 L1596.8 309.6 L1599.3 312 L1601.6 314.1 L1604.9 317.3 L1606.5 318.7 L1610.5 322.5 L1611.4 323.4 L1615.9 327.8 L1616.2 328.1 L1621.1 332.8 L1621.3 333.1 L1625.9 337.5 L1626.8 338.3 L1630.8 342.2 L1632.1 343.6 L1635.7 347 L1637.4 348.8 L1640.5 351.9 L1642.7 354.1 L1645.4 356.8 L1647.9 359.3 L1650.3 361.7 L1653 364.6 L1655.1 366.7 L1658.1 369.8 L1660 371.7 L1663.2 375.1 L1664.9 376.8 L1668.2 380.3 L1669.7 381.9 L1673.2 385.6 L1674.6 387.1 L1678.1 390.8 L1679.5 392.3 L1683 396.1 L1684.3 397.5 L1687.8 401.3 L1689.2 402.8 L1692.6 406.6 L1694.1 408.2 L1697.3 411.8 L1698.9 413.6 L1702 417.1 L1703.8 419.1 L1706.7 422.3 L1708.6 424.6 L1711.3 427.6 L1713.5 430.2 L1715.8 432.8 L1718.4 435.9 L1720.2 438.1 L1723.2 441.7 L1724.6 443.3 L1728.1 447.6 L1728.9 448.6 L1733 453.7 L1733.1 453.8 L1737.3 459.1 L1737.8 459.8 L1741.5 464.3 L1742.7 466 L1745.5 469.6 L1747.6 472.4 L1749.5 474.8 L1752.4 478.9 L1753.3 480.1 L1757 485.3 L1757.3 485.7 L1760.8 490.6 L1762.2 492.7 L1764.4 495.8 L1767 499.9 L1767.9 501.1 L1771.3 506.3 L1771.9 507.4 L1774.6 511.6 L1776.8 515.2 L1777.8 516.8 L1780.9 522.1 L1781.6 523.3 L1784.1 527.3 L1786.5 531.7 L1787 532.6 L1790 537.8 L1791.4 540.4 L1792.9 543.1 L1795.8 548.3 L1796.2 549.2 L1798.7 553.6 L1801.1 558.1 L1801.5 558.8 L1804.4 564.1 L1805.9 567 L1807.3 569.3 L1810.1 574.6 L1810.8 575.9 L1813.1 579.8 L1815.7 584.7 L1815.9 585.1 L1818.9 590.3 L1820.5 593.5 L1821.8 595.6 L1824.7 600.8 L1825.4 602.2 L1827.6 606.1 L1830.3 611.1 L1830.4 611.4 L1833.4 616.6 L1835.1 620 L1836.2 621.9 L1839 627.1 L1840 629.2 L1841.7 632.4 L1844.4 637.6 L1844.9 638.6 L1847.2 642.9 L1849.7 648.1 L1849.7 648.2 L1852.4 653.4 L1854.6 658.2 L1854.8 658.6 L1857.4 663.9 L1859.5 668.4 L1859.8 669.1 L1862.3 674.4 L1864.3 679.2 L1864.5 679.6 L1866.9 684.9 L1868.9 690.1 L1869.2 690.9 L1871 695.4 L1872.7 700.6 L1874.1 705.3 L1874.2 705.9 L1875.4 711.1 L1875.8 716.4 L1875 721.6 L1874.1 723.4 L1869.2 726.8 L1864.3 726.9 L1859.5 725.7 L1854.6 723.9 L1849.7 721.7 L1849.7 721.6 L1844.9 719 L1840.5 716.4 L1840 716.1 L1835.1 712.9 L1832.6 711.1 L1830.3 709.6 L1825.4 706 L1825.2 705.9 L1820.5 702.3 L1818.4 700.6 L1815.7 698.5 L1811.9 695.4 L1810.8 694.5 L1805.9 690.3 L1805.7 690.1 L1801.1 686.1 L1799.7 684.9 L1796.2 681.8 L1793.9 679.6 L1791.4 677.3 L1788.3 674.4 L1786.5 672.7 L1782.8 669.1 L1781.6 668 L1777.4 663.9 L1776.8 663.2 L1772.2 658.6 L1771.9 658.3 L1767.1 653.4 L1767 653.2 L1762.2 648.1 L1762.2 648.1 L1757.3 642.9 L1757.3 642.9 L1752.5 637.6 L1752.4 637.5 L1747.9 632.4 L1747.6 632 L1743.3 627.1 L1742.7 626.4 L1738.8 621.9 L1737.8 620.7 L1734.4 616.6 L1733 614.8 L1730.1 611.4 L1728.1 608.8 L1725.9 606.1 L1723.2 602.6 L1721.8 600.8 L1718.4 596.3 L1717.9 595.6 L1714 590.3 L1713.5 589.7 L1710.1 585.1 L1708.6 583 L1706.4 579.8 L1703.8 576.1 L1702.7 574.6 L1699.2 569.3 L1698.9 568.9 L1695.7 564.1 L1694.1 561.5 L1692.3 558.8 L1689.2 553.9 L1689 553.6 L1685.7 548.3 L1684.3 546.1 L1682.4 543.1 L1679.5 538.1 L1679.3 537.8 L1676.2 532.6 L1674.6 529.9 L1673.1 527.3 L1670 522.1 L1669.7 521.6 L1666.9 516.8 L1664.9 513.3 L1663.8 511.6 L1660.7 506.3 L1660 505.2 L1657.5 501.1 L1655.1 497.3 L1654.2 495.8 L1650.9 490.6 L1650.3 489.7 L1647.4 485.3 L1645.4 482.4 L1643.8 480.1 L1640.5 475.4 L1640.1 474.8 L1636.2 469.6 L1635.7 468.9 L1632.1 464.3 L1630.8 462.7 L1627.9 459.1 L1625.9 456.7 L1623.5 453.8 L1621.1 451 L1619 448.6 L1616.2 445.5 L1614.3 443.3 L1611.4 440.2 L1609.4 438.1 L1606.5 435 L1604.4 432.8 L1601.6 429.9 L1599.3 427.6 L1596.8 425 L1594.2 422.3 L1591.9 420 L1588.9 417.1 L1587 415.2 L1583.7 411.8 L1582.2 410.3 L1578.4 406.6 L1577.3 405.5 L1573.2 401.3 L1572.4 400.6 L1567.9 396.1 L1567.6 395.7 L1562.8 390.8 L1562.7 390.7 L1557.8 385.8 L1557.6 385.6 L1553 380.7 L1552.6 380.3 L1548.1 375.6 L1547.6 375.1 L1543.2 370.3 L1542.8 369.8 L1538.4 365 L1538 364.6 L1533.5 359.5 L1533.4 359.3 L1528.8 354.1 L1528.6 353.9 L1524.3 348.8 L1523.8 348.2 L1519.8 343.6 L1518.9 342.5 L1515.5 338.3 L1514.1 336.6 L1511.2 333.1 L1509.2 330.5 L1507 327.8 L1504.3 324.4 L1502.9 322.5 L1499.5 318.1 L1498.9 317.3 L1494.9 312 L1494.6 311.7 L1490.8 306.8 L1489.7 305.4 L1486.8 301.5 L1484.9 298.9 L1482.9 296.3 L1480 292.2 L1479.1 291 L1475.4 285.8 L1475.1 285.5 L1471.6 280.5 L1470.3 278.7 L1467.9 275.3 L1465.4 271.6 L1464.3 270 L1460.8 264.8 L1460.5 264.3 L1457.3 259.5 L1455.7 256.8 L1454 254.3 L1450.9 249 L1450.8 248.8 L1447.8 243.8 L1445.9 240.2 L1445 238.5 L1442.4 233.3 L1441.1 230.2 L1440.1 228 L1438.2 222.8 L1436.9 217.5 L1436.6 212.3 L1439 207"/>
<path d="M1830.1 448.6 L1830.3 448.5 L1830.4 448.6 L1835.1 449.5 L1840 451.6 L1844.3 453.8 L1844.9 454.1 L1849.7 457.3 L1852.4 459.1 L1854.6 460.6 L1859.5 464.1 L1859.8 464.3 L1864.3 467.9 L1866.4 469.6 L1869.2 471.8 L1872.8 474.8 L1874.1 475.9 L1878.9 480 L1879 480.1 L1883.8 484.3 L1884.9 485.3 L1888.6 488.7 L1890.6 490.6 L1893.5 493.2 L1896.3 495.8 L1898.4 497.8 L1901.8 501.1 L1903.2 502.5 L1907.2 506.3 L1908.1 507.2 L1912.6 511.6 L1913 512 L1917.8 516.8 L1917.8 516.8 L1922.7 521.8 L1923 522.1 L1927.6 526.8 L1928 527.3 L1932.4 531.9 L1933 532.6 L1937.3 537.1 L1938 537.8 L1942.2 542.4 L1942.8 543.1 L1947 547.7 L1947.6 548.3 L1951.9 553.1 L1952.3 553.6 L1956.8 558.6 L1956.9 558.8 L1961.5 564.1 L1961.6 564.2 L1966 569.3 L1966.5 570 L1970.4 574.6 L1971.4 575.8 L1974.7 579.8 L1976.2 581.8 L1978.9 585.1 L1981.1 587.9 L1983.1 590.3 L1985.9 594.1 L1987.1 595.6 L1990.8 600.5 L1991.1 600.8 L1994.9 606.1 L1995.7 607.1 L1998.7 611.4 L2000.5 614 L2002.4 616.6 L2005.4 620.9 L2006 621.9 L2009.6 627.1 L2010.3 628.1 L2013.1 632.4 L2015.1 635.4 L2016.6 637.6 L2020 642.8 L2020 642.9 L2023.5 648.1 L2024.9 650.2 L2026.9 653.4 L2029.7 657.6 L2030.4 658.6 L2033.8 663.9 L2034.6 665 L2037.3 669.1 L2039.5 672.2 L2040.9 674.4 L2044.3 679.5 L2044.4 679.6 L2048 684.9 L2049.2 686.6 L2051.6 690.1 L2054.1 693.6 L2055.3 695.4 L2058.9 700.6 L2058.9 700.6 L2062.6 705.9 L2063.8 707.5 L2066.3 711.1 L2068.6 714.4 L2070.1 716.4 L2073.5 721.2 L2073.8 721.6 L2077.6 726.9 L2078.4 728 L2081.4 732.1 L2083.2 734.7 L2085.2 737.4 L2088.1 741.4 L2089 742.6 L2092.9 747.9 L2093 748 L2096.7 753.1 L2097.8 754.6 L2100.6 758.4 L2102.7 761.3 L2104.4 763.6 L2107.6 767.9 L2108.3 768.9 L2112.1 774.1 L2112.4 774.5 L2116 779.4 L2117.3 781.2 L2119.8 784.6 L2122.2 787.8 L2123.6 789.9 L2127 794.6 L2127.4 795.1 L2131.1 800.4 L2131.9 801.5 L2134.8 805.6 L2136.8 808.4 L2138.5 810.9 L2141.6 815.5 L2142 816.1 L2145.6 821.4 L2146.5 822.8 L2149 826.6 L2151.4 830.4 L2152.3 831.9 L2155.5 837.1 L2156.2 838.3 L2158.7 842.4 L2161.1 846.7 L2161.6 847.6 L2164.5 852.9 L2165.9 855.9 L2167.1 858.1 L2169.6 863.4 L2170.8 866.3 L2171.8 868.6 L2173.8 873.9 L2175.5 879.2 L2175.7 879.9 L2176.9 884.4 L2177.9 889.7 L2178.7 894.9 L2179.3 900.2 L2179.9 905.4 L2180.4 910.7 L2180.5 911.6 L2181.1 915.9 L2181.9 921.2 L2182.8 926.4 L2183.8 931.7 L2184.9 936.9 L2185.4 939.4 L2185.9 942.2 L2186.8 947.4 L2187.3 952.7 L2187.4 957.9 L2186 963.2 L2185.4 964.1 L2180.5 966 L2175.7 965.2 L2170.8 963.5 L2170.2 963.2 L2165.9 960.9 L2161.1 958.1 L2160.8 957.9 L2156.2 954.8 L2153.1 952.7 L2151.4 951.4 L2146.5 947.8 L2145.9 947.4 L2141.6 944 L2139.3 942.2 L2136.8 940.1 L2132.8 936.9 L2131.9 936.1 L2127 932 L2126.6 931.7 L2122.2 927.8 L2120.6 926.4 L2117.3 923.5 L2114.7 921.2 L2112.4 919.1 L2108.9 915.9 L2107.6 914.6 L2103.3 910.7 L2102.7 910.1 L2097.8 905.4 L2097.8 905.4 L2093 900.7 L2092.4 900.2 L2088.1 895.8 L2087.2 894.9 L2083.2 890.9 L2082 889.7 L2078.4 885.8 L2077 884.4 L2073.5 880.7 L2072.1 879.2 L2068.6 875.4 L2067.3 873.9 L2063.8 870 L2062.6 868.6 L2058.9 864.5 L2057.9 863.4 L2054.1 858.9 L2053.4 858.1 L2049.2 853.2 L2049 852.9 L2044.6 847.6 L2044.3 847.3 L2040.3 842.4 L2039.5 841.4 L2036 837.1 L2034.6 835.4 L2031.8 831.9 L2029.7 829.3 L2027.6 826.6 L2024.9 823.1 L2023.5 821.4 L2020 817 L2019.3 816.1 L2015.2 810.9 L2015.1 810.8 L2011.1 805.6 L2010.3 804.5 L2007.1 800.4 L2005.4 798.2 L2003 795.1 L2000.5 791.9 L1999 789.9 L1995.7 785.6 L1995 784.6 L1991 779.4 L1990.8 779.1 L1987.1 774.1 L1985.9 772.6 L1983.2 768.9 L1981.1 766 L1979.4 763.6 L1976.2 759.2 L1975.6 758.4 L1971.9 753.1 L1971.4 752.3 L1968.3 747.9 L1966.5 745 L1964.9 742.6 L1961.6 737.6 L1961.5 737.4 L1958.3 732.1 L1956.8 729.5 L1955.2 726.9 L1952.3 721.6 L1951.9 720.7 L1949.7 716.4 L1947.3 711.1 L1947 710.4 L1945.2 705.9 L1943.4 700.6 L1942.2 696.3 L1941.9 695.4 L1940.6 690.1 L1939.5 684.9 L1938.6 679.6 L1937.8 674.4 L1937.3 670.9 L1937 669.1 L1936 663.9 L1935 658.6 L1933.8 653.4 L1932.5 648.1 L1932.4 647.9 L1930.8 642.9 L1929.1 637.6 L1927.6 633.6 L1927.1 632.4 L1924.9 627.1 L1922.7 622.2 L1922.6 621.9 L1920 616.6 L1917.8 612.3 L1917.3 611.4 L1914.5 606.1 L1913 603.3 L1911.6 600.8 L1908.6 595.6 L1908.1 594.8 L1905.4 590.3 L1903.2 586.8 L1902.2 585.1 L1898.9 579.8 L1898.4 579 L1895.5 574.6 L1893.5 571.5 L1892.1 569.3 L1888.6 564.1 L1888.6 564.1 L1885.1 558.8 L1883.8 556.9 L1881.6 553.6 L1878.9 549.6 L1878 548.3 L1874.5 543.1 L1874.1 542.4 L1871 537.8 L1869.2 535.2 L1867.4 532.6 L1864.3 527.9 L1864 527.3 L1860.5 522.1 L1859.5 520.4 L1857.1 516.8 L1854.6 512.9 L1853.8 511.6 L1850.5 506.3 L1849.7 505 L1847.3 501.1 L1844.9 496.9 L1844.2 495.8 L1841.2 490.6 L1840 488.4 L1838.3 485.3 L1835.5 480.1 L1835.1 479.3 L1833 474.8 L1830.5 469.6 L1830.3 468.9 L1828.5 464.3 L1826.9 459.1 L1826.2 453.8 L1830.1 448.6"/>
<path d="M1447.1 217.5 L1450.8 214.7 L1455.7 214.2 L1460.5 215 L1465.4 216.5 L1468 217.5 L1470.3 218.4 L1475.1 220.6 L1479.3 222.8 L1480 223.1 L1484.9 225.8 L1488.6 228 L1489.7 228.7 L1494.6 231.6 L1497 233.3 L1499.5 234.8 L1504.3 238.1 L1505 238.5 L1509.2 241.3 L1512.5 243.8 L1514.1 244.8 L1518.9 248.4 L1519.7 249 L1523.8 251.9 L1526.8 254.3 L1528.6 255.7 L1533.5 259.5 L1533.5 259.5 L1538.4 263.2 L1540.3 264.8 L1543.2 267.1 L1546.7 270 L1548.1 271.1 L1553 275.2 L1553 275.3 L1557.8 279.2 L1559.4 280.5 L1562.7 283.3 L1565.5 285.8 L1567.6 287.5 L1571.5 291 L1572.4 291.8 L1577.3 296.2 L1577.4 296.3 L1582.2 300.5 L1583.3 301.5 L1587 304.8 L1589.1 306.8 L1591.9 309.3 L1594.8 312 L1596.8 313.8 L1600.4 317.3 L1601.6 318.4 L1606 322.5 L1606.5 323 L1611.4 327.7 L1611.4 327.8 L1616.2 332.4 L1616.9 333.1 L1621.1 337 L1622.4 338.3 L1625.9 341.8 L1627.7 343.6 L1630.8 346.6 L1633 348.8 L1635.7 351.5 L1638.2 354.1 L1640.5 356.4 L1643.4 359.3 L1645.4 361.3 L1648.5 364.6 L1650.3 366.4 L1653.6 369.8 L1655.1 371.4 L1658.6 375.1 L1660 376.5 L1663.6 380.3 L1664.9 381.7 L1668.5 385.6 L1669.7 386.9 L1673.4 390.8 L1674.6 392.1 L1678.2 396.1 L1679.5 397.4 L1683 401.3 L1684.3 402.8 L1687.8 406.6 L1689.2 408.2 L1692.4 411.8 L1694.1 413.7 L1697 417.1 L1698.9 419.3 L1701.6 422.3 L1703.8 425 L1706 427.6 L1708.6 430.7 L1710.4 432.8 L1713.5 436.6 L1714.8 438.1 L1718.4 442.6 L1719 443.3 L1723.1 448.6 L1723.2 448.7 L1727.3 453.8 L1728.1 455 L1731.3 459.1 L1733 461.4 L1735.2 464.3 L1737.8 468 L1739 469.6 L1742.7 474.8 L1742.7 474.8 L1746.4 480.1 L1747.6 481.9 L1749.9 485.3 L1752.4 489.2 L1753.3 490.6 L1756.6 495.8 L1757.3 496.9 L1759.9 501.1 L1762.2 505 L1763 506.3 L1766 511.6 L1767 513.6 L1768.9 516.8 L1771.7 522.1 L1771.9 522.5 L1774.5 527.3 L1776.8 531.9 L1777.1 532.6 L1779.8 537.8 L1781.6 541.5 L1782.4 543.1 L1785.1 548.3 L1786.5 551.2 L1787.7 553.6 L1790.4 558.8 L1791.4 560.8 L1793.1 564.1 L1795.7 569.3 L1796.2 570.3 L1798.5 574.6 L1801.1 579.6 L1801.2 579.8 L1804 585.1 L1805.9 588.7 L1806.8 590.3 L1809.7 595.6 L1810.8 597.8 L1812.5 600.8 L1815.3 606.1 L1815.7 606.8 L1818.2 611.4 L1820.5 615.8 L1821 616.6 L1823.8 621.9 L1825.4 624.8 L1826.7 627.1 L1829.4 632.4 L1830.3 634 L1832.2 637.6 L1834.9 642.9 L1835.1 643.2 L1837.7 648.1 L1840 652.7 L1840.4 653.4 L1843 658.6 L1844.9 662.5 L1845.6 663.9 L1848.1 669.1 L1849.7 672.9 L1850.4 674.4 L1852.7 679.6 L1854.6 684.7 L1854.7 684.9 L1856.4 690.1 L1857.8 695.4 L1858.4 700.6 L1857.5 705.9 L1854.6 708.8 L1849.7 709.4 L1844.9 708.4 L1840 706.5 L1838.8 705.9 L1835.1 704 L1830.3 701.2 L1829.4 700.6 L1825.4 698 L1821.6 695.4 L1820.5 694.7 L1815.7 691.1 L1814.5 690.1 L1810.8 687.3 L1807.9 684.9 L1805.9 683.3 L1801.6 679.6 L1801.1 679.2 L1796.2 674.9 L1795.6 674.4 L1791.4 670.5 L1789.9 669.1 L1786.5 665.9 L1784.3 663.9 L1781.6 661.2 L1779 658.6 L1776.8 656.4 L1773.7 653.4 L1771.9 651.5 L1768.7 648.1 L1767 646.4 L1763.7 642.9 L1762.2 641.2 L1758.9 637.6 L1757.3 635.9 L1754.2 632.4 L1752.4 630.4 L1749.6 627.1 L1747.6 624.7 L1745.1 621.9 L1742.7 619 L1740.7 616.6 L1737.8 613 L1736.5 611.4 L1733 606.9 L1732.3 606.1 L1728.3 600.8 L1728.1 600.6 L1724.4 595.6 L1723.2 594 L1720.5 590.3 L1718.4 587.3 L1716.8 585.1 L1713.5 580.4 L1713.2 579.8 L1709.6 574.6 L1708.6 573.1 L1706.2 569.3 L1703.8 565.6 L1702.8 564.1 L1699.5 558.8 L1698.9 557.8 L1696.3 553.6 L1694.1 549.7 L1693.2 548.3 L1690.1 543.1 L1689.2 541.4 L1687.1 537.8 L1684.3 532.9 L1684.2 532.6 L1681.2 527.3 L1679.5 524.2 L1678.3 522.1 L1675.3 516.8 L1674.6 515.5 L1672.3 511.6 L1669.7 507.1 L1669.3 506.3 L1666.2 501.1 L1664.9 499 L1662.9 495.8 L1660 491.2 L1659.6 490.6 L1656.1 485.3 L1655.1 483.9 L1652.4 480.1 L1650.3 477.1 L1648.6 474.8 L1645.4 470.6 L1644.7 469.6 L1640.5 464.3 L1640.5 464.3 L1636.2 459.1 L1635.7 458.5 L1631.7 453.8 L1630.8 452.9 L1627 448.6 L1625.9 447.4 L1622.2 443.3 L1621.1 442.1 L1617.3 438.1 L1616.2 436.9 L1612.3 432.8 L1611.4 431.9 L1607.2 427.6 L1606.5 426.9 L1602 422.3 L1601.6 421.9 L1596.8 417.1 L1596.8 417 L1591.9 412.2 L1591.5 411.8 L1587 407.5 L1586.1 406.6 L1582.2 402.7 L1580.8 401.3 L1577.3 397.9 L1575.4 396.1 L1572.4 393.1 L1570.2 390.8 L1567.6 388.2 L1564.9 385.6 L1562.7 383.3 L1559.8 380.3 L1557.8 378.3 L1554.7 375.1 L1553 373.3 L1549.7 369.8 L1548.1 368.2 L1544.7 364.6 L1543.2 363 L1539.9 359.3 L1538.4 357.7 L1535.1 354.1 L1533.5 352.3 L1530.5 348.8 L1528.6 346.8 L1525.8 343.6 L1523.8 341.2 L1521.3 338.3 L1518.9 335.5 L1516.9 333.1 L1514.1 329.6 L1512.5 327.8 L1509.2 323.7 L1508.3 322.5 L1504.3 317.6 L1504.1 317.3 L1499.9 312 L1499.5 311.5 L1495.7 306.8 L1494.6 305.3 L1491.6 301.5 L1489.7 299 L1487.6 296.3 L1484.9 292.5 L1483.8 291 L1480 285.8 L1480 285.8 L1476.2 280.5 L1475.1 279 L1472.5 275.3 L1470.3 272 L1468.9 270 L1465.5 264.8 L1465.4 264.7 L1462.1 259.5 L1460.5 256.9 L1458.9 254.3 L1455.9 249 L1455.7 248.6 L1453.1 243.8 L1450.8 239 L1450.6 238.5 L1448.4 233.3 L1446.8 228 L1445.9 222.8 L1447.1 217.5"/>
<path d="M1866.3 495.8 L1869.2 492.5 L1874.1 493.8 L1878 495.8 L1878.9 496.3 L1883.8 499.7 L1885.6 501.1 L1888.6 503.4 L1892.4 506.3 L1893.5 507.2 L1898.4 511.3 L1898.7 511.6 L1903.2 515.8 L1904.4 516.8 L1908.1 520.3 L1910 522.1 L1913 525 L1915.4 527.3 L1917.8 529.8 L1920.6 532.6 L1922.7 534.7 L1925.7 537.8 L1927.6 539.8 L1930.7 543.1 L1932.4 545 L1935.5 548.3 L1937.3 550.3 L1940.3 553.6 L1942.2 555.7 L1944.9 558.8 L1947 561.3 L1949.4 564.1 L1951.9 567.1 L1953.8 569.3 L1956.8 573 L1958.1 574.6 L1961.6 579 L1962.3 579.8 L1966.4 585.1 L1966.5 585.2 L1970.4 590.3 L1971.4 591.7 L1974.2 595.6 L1976.2 598.3 L1978.1 600.8 L1981.1 605 L1981.9 606.1 L1985.6 611.4 L1985.9 611.9 L1989.2 616.6 L1990.8 618.9 L1992.8 621.9 L1995.7 625.9 L1996.5 627.1 L2000.1 632.4 L2000.5 632.9 L2003.7 637.6 L2005.4 640 L2007.4 642.9 L2010.3 646.9 L2011.1 648.1 L2014.8 653.4 L2015.1 653.8 L2018.5 658.6 L2020 660.7 L2022.2 663.9 L2024.9 667.5 L2026 669.1 L2029.7 674.2 L2029.8 674.4 L2033.6 679.6 L2034.6 680.9 L2037.4 684.9 L2039.5 687.6 L2041.3 690.1 L2044.3 694.2 L2045.2 695.4 L2049.1 700.6 L2049.2 700.8 L2052.9 705.9 L2054.1 707.3 L2056.8 711.1 L2058.9 713.9 L2060.8 716.4 L2063.8 720.4 L2064.7 721.6 L2068.6 726.8 L2068.7 726.9 L2072.6 732.1 L2073.5 733.3 L2076.6 737.4 L2078.4 739.7 L2080.5 742.6 L2083.2 746.2 L2084.5 747.9 L2088.1 752.6 L2088.5 753.1 L2092.5 758.4 L2093 759.1 L2096.4 763.6 L2097.8 765.5 L2100.4 768.9 L2102.7 772 L2104.3 774.1 L2107.6 778.5 L2108.2 779.4 L2112.1 784.6 L2112.4 785.1 L2115.9 789.9 L2117.3 791.8 L2119.7 795.1 L2122.2 798.7 L2123.4 800.4 L2127 805.6 L2127.1 805.6 L2130.6 810.9 L2131.9 812.8 L2134.1 816.1 L2136.8 820.3 L2137.5 821.4 L2140.8 826.6 L2141.6 828.1 L2143.9 831.9 L2146.5 836.5 L2146.9 837.1 L2149.7 842.4 L2151.4 845.8 L2152.3 847.6 L2154.6 852.9 L2156.2 857 L2156.7 858.1 L2158.4 863.4 L2159.8 868.6 L2160.8 873.9 L2161.1 876.9 L2161.3 879.2 L2161.5 884.4 L2161.4 889.7 L2161.2 894.9 L2161.1 900.2 L2161.1 901.6 L2161 905.4 L2160.9 910.7 L2160.5 915.9 L2159.4 921.2 L2156.2 926.3 L2155.9 926.4 L2151.4 927 L2149.4 926.4 L2146.5 925.6 L2141.6 923.1 L2138.5 921.2 L2136.8 920.1 L2131.9 916.6 L2131.1 915.9 L2127 912.7 L2124.6 910.7 L2122.2 908.6 L2118.6 905.4 L2117.3 904.2 L2113 900.2 L2112.4 899.7 L2107.6 894.9 L2107.6 894.9 L2102.7 889.9 L2102.4 889.7 L2097.8 884.8 L2097.4 884.4 L2093 879.6 L2092.6 879.2 L2088.1 874.2 L2087.9 873.9 L2083.2 868.7 L2083.2 868.6 L2078.7 863.4 L2078.4 863 L2074.2 858.1 L2073.5 857.3 L2069.8 852.9 L2068.6 851.5 L2065.4 847.6 L2063.8 845.7 L2061.1 842.4 L2058.9 839.8 L2056.8 837.1 L2054.1 833.8 L2052.5 831.9 L2049.2 827.7 L2048.3 826.6 L2044.3 821.7 L2044.1 821.4 L2039.9 816.1 L2039.5 815.5 L2035.8 810.9 L2034.6 809.4 L2031.7 805.6 L2029.7 803.1 L2027.6 800.4 L2024.9 796.7 L2023.6 795.1 L2020 790.3 L2019.7 789.9 L2015.8 784.6 L2015.1 783.7 L2012 779.4 L2010.3 777 L2008.2 774.1 L2005.4 770 L2004.6 768.9 L2001.1 763.6 L2000.5 762.8 L1997.6 758.4 L1995.7 755.3 L1994.3 753.1 L1991.1 747.9 L1990.8 747.3 L1988 742.6 L1985.9 738.8 L1985.1 737.4 L1982.3 732.1 L1981.1 729.6 L1979.7 726.9 L1977.2 721.6 L1976.2 719.4 L1974.8 716.4 L1972.7 711.1 L1971.4 707.6 L1970.7 705.9 L1968.8 700.6 L1967.1 695.4 L1966.5 693.1 L1965.6 690.1 L1964.1 684.9 L1962.7 679.6 L1961.6 675.5 L1961.3 674.4 L1959.9 669.1 L1958.3 663.9 L1956.8 659 L1956.6 658.6 L1954.8 653.4 L1952.8 648.1 L1951.9 646 L1950.6 642.9 L1948.3 637.6 L1947 635 L1945.8 632.4 L1943.2 627.1 L1942.2 625.1 L1940.5 621.9 L1937.7 616.6 L1937.3 615.9 L1934.8 611.4 L1932.4 607.4 L1931.7 606.1 L1928.6 600.8 L1927.6 599.2 L1925.4 595.6 L1922.7 591.3 L1922.1 590.3 L1918.8 585.1 L1917.8 583.7 L1915.4 579.8 L1913 576.3 L1911.9 574.6 L1908.3 569.3 L1908.1 569 L1904.8 564.1 L1903.2 561.7 L1901.3 558.8 L1898.4 554.5 L1897.7 553.6 L1894.2 548.3 L1893.5 547.3 L1890.8 543.1 L1888.6 539.9 L1887.3 537.8 L1883.9 532.6 L1883.8 532.4 L1880.7 527.3 L1878.9 524.4 L1877.6 522.1 L1874.5 516.8 L1874.1 516 L1871.8 511.6 L1869.2 506.5 L1869.1 506.3 L1867.3 501.1 L1866.3 495.8"/>
<path d="M1457 222.8 L1460.5 221.8 L1465.4 222.1 L1468 222.8 L1470.3 223.4 L1475.1 225.2 L1480 227.3 L1481.3 228 L1484.9 229.8 L1489.7 232.4 L1491.1 233.3 L1494.6 235.3 L1499.5 238.4 L1499.7 238.5 L1504.3 241.4 L1507.7 243.8 L1509.2 244.8 L1514.1 248.1 L1515.3 249 L1518.9 251.6 L1522.5 254.3 L1523.8 255.2 L1528.6 258.9 L1529.5 259.5 L1533.5 262.5 L1536.3 264.8 L1538.4 266.4 L1542.9 270 L1543.2 270.3 L1548.1 274.2 L1549.3 275.3 L1553 278.2 L1555.7 280.5 L1557.8 282.3 L1561.8 285.8 L1562.7 286.5 L1567.6 290.8 L1567.9 291 L1572.4 294.9 L1573.9 296.3 L1577.3 299.2 L1579.8 301.5 L1582.2 303.6 L1585.6 306.8 L1587 308 L1591.3 312 L1591.9 312.6 L1596.8 317.1 L1596.9 317.3 L1601.6 321.6 L1602.6 322.5 L1606.5 326.2 L1608.1 327.8 L1611.4 330.9 L1613.6 333.1 L1616.2 335.6 L1619 338.3 L1621.1 340.4 L1624.3 343.6 L1625.9 345.2 L1629.5 348.8 L1630.8 350.1 L1634.7 354.1 L1635.7 355 L1639.9 359.3 L1640.5 360 L1645 364.6 L1645.4 365 L1650 369.8 L1650.3 370.1 L1655 375.1 L1655.1 375.2 L1660 380.3 L1660 380.3 L1664.9 385.5 L1664.9 385.6 L1669.7 390.8 L1669.7 390.8 L1674.5 396.1 L1674.6 396.2 L1679.2 401.3 L1679.5 401.6 L1683.9 406.6 L1684.3 407 L1688.5 411.8 L1689.2 412.6 L1693.1 417.1 L1694.1 418.2 L1697.6 422.3 L1698.9 424 L1702 427.6 L1703.8 429.8 L1706.3 432.8 L1708.6 435.8 L1710.5 438.1 L1713.5 442 L1714.6 443.3 L1718.4 448.2 L1718.6 448.6 L1722.6 453.8 L1723.2 454.7 L1726.5 459.1 L1728.1 461.4 L1730.3 464.3 L1733 468.3 L1733.9 469.6 L1737.4 474.8 L1737.8 475.5 L1740.9 480.1 L1742.7 483.1 L1744.2 485.3 L1747.3 490.6 L1747.6 491 L1750.4 495.8 L1752.4 499.5 L1753.3 501.1 L1756.1 506.3 L1757.3 508.6 L1758.8 511.6 L1761.4 516.8 L1762.2 518.4 L1764 522.1 L1766.4 527.3 L1767 528.6 L1768.9 532.6 L1771.3 537.8 L1771.9 539.2 L1773.7 543.1 L1776.2 548.3 L1776.8 549.6 L1778.7 553.6 L1781.2 558.8 L1781.6 559.6 L1783.8 564.1 L1786.5 569.3 L1786.5 569.3 L1789.2 574.6 L1791.4 578.6 L1792 579.8 L1794.8 585.1 L1796.2 587.7 L1797.7 590.3 L1800.5 595.6 L1801.1 596.6 L1803.4 600.8 L1805.9 605.5 L1806.3 606.1 L1809.2 611.4 L1810.8 614.3 L1812.1 616.6 L1815 621.9 L1815.7 623.1 L1817.9 627.1 L1820.5 632 L1820.7 632.4 L1823.5 637.6 L1825.4 641.2 L1826.3 642.9 L1829 648.1 L1830.3 650.6 L1831.7 653.4 L1834.2 658.6 L1835.1 660.7 L1836.6 663.9 L1838.8 669.1 L1840 672.2 L1840.8 674.4 L1842.4 679.6 L1843.4 684.9 L1843 690.1 L1840 693.4 L1835.1 693.6 L1830.3 692.1 L1825.9 690.1 L1825.4 689.9 L1820.5 687 L1817.3 684.9 L1815.7 683.8 L1810.8 680.4 L1809.8 679.6 L1805.9 676.6 L1803.2 674.4 L1801.1 672.7 L1796.9 669.1 L1796.2 668.6 L1791.4 664.2 L1790.9 663.9 L1786.5 659.7 L1785.3 658.6 L1781.6 655.1 L1779.9 653.4 L1776.8 650.3 L1774.6 648.1 L1771.9 645.3 L1769.6 642.9 L1767 640.2 L1764.7 637.6 L1762.2 634.9 L1759.9 632.4 L1757.3 629.4 L1755.3 627.1 L1752.4 623.8 L1750.8 621.9 L1747.6 618 L1746.4 616.6 L1742.7 612 L1742.2 611.4 L1738 606.1 L1737.8 605.8 L1734.1 600.8 L1733 599.4 L1730.2 595.6 L1728.1 592.7 L1726.4 590.3 L1723.2 585.8 L1722.7 585.1 L1719.2 579.8 L1718.4 578.6 L1715.8 574.6 L1713.5 571 L1712.5 569.3 L1709.2 564.1 L1708.6 563.1 L1706.1 558.8 L1703.8 554.9 L1703 553.6 L1700.1 548.3 L1698.9 546.3 L1697.2 543.1 L1694.3 537.8 L1694.1 537.4 L1691.5 532.6 L1689.2 528.4 L1688.6 527.3 L1685.8 522.1 L1684.3 519.4 L1682.9 516.8 L1680 511.6 L1679.5 510.7 L1676.9 506.3 L1674.6 502.5 L1673.8 501.1 L1670.4 495.8 L1669.7 494.8 L1667 490.6 L1664.9 487.6 L1663.3 485.3 L1660 480.7 L1659.5 480.1 L1655.5 474.8 L1655.1 474.4 L1651.3 469.6 L1650.3 468.3 L1647 464.3 L1645.4 462.5 L1642.4 459.1 L1640.5 457 L1637.8 453.8 L1635.7 451.6 L1633 448.6 L1630.8 446.3 L1628.1 443.3 L1625.9 441.2 L1623 438.1 L1621.1 436.1 L1617.9 432.8 L1616.2 431.1 L1612.7 427.6 L1611.4 426.2 L1607.5 422.3 L1606.5 421.4 L1602.2 417.1 L1601.6 416.5 L1596.9 411.8 L1596.8 411.7 L1591.9 407 L1591.5 406.6 L1587 402.3 L1586.1 401.3 L1582.2 397.6 L1580.7 396.1 L1577.3 392.8 L1575.3 390.8 L1572.4 388 L1570 385.6 L1567.6 383.1 L1564.8 380.3 L1562.7 378.2 L1559.6 375.1 L1557.8 373.2 L1554.5 369.8 L1553 368.2 L1549.5 364.6 L1548.1 363.1 L1544.6 359.3 L1543.2 357.9 L1539.7 354.1 L1538.4 352.6 L1534.9 348.8 L1533.5 347.2 L1530.2 343.6 L1528.6 341.8 L1525.6 338.3 L1523.8 336.2 L1521 333.1 L1518.9 330.6 L1516.6 327.8 L1514.1 324.8 L1512.2 322.5 L1509.2 318.9 L1507.9 317.3 L1504.3 312.9 L1503.7 312 L1499.5 306.8 L1499.5 306.7 L1495.4 301.5 L1494.6 300.5 L1491.3 296.3 L1489.7 294.1 L1487.4 291 L1484.9 287.5 L1483.6 285.8 L1480 280.7 L1479.9 280.5 L1476.2 275.3 L1475.1 273.7 L1472.6 270 L1470.3 266.3 L1469.3 264.8 L1466.1 259.5 L1465.4 258.4 L1463 254.3 L1460.5 249.6 L1460.2 249 L1457.7 243.8 L1455.7 238.6 L1455.6 238.5 L1454.2 233.3 L1453.9 228 L1455.7 223.8 L1457 222.8"/>
<path d="M1965.2 621.9 L1966.5 618.7 L1971.4 621.9 L1971.4 621.9 L1976.2 626.8 L1976.5 627.1 L1981.1 632 L1981.4 632.4 L1985.9 637.4 L1986.1 637.6 L1990.7 642.9 L1990.8 642.9 L1995.2 648.1 L1995.7 648.6 L1999.6 653.4 L2000.5 654.3 L2004 658.6 L2005.4 660.1 L2008.4 663.9 L2010.3 666 L2012.8 669.1 L2015.1 671.8 L2017.1 674.4 L2020 677.7 L2021.5 679.6 L2024.9 683.7 L2025.8 684.9 L2029.7 689.6 L2030.1 690.1 L2034.4 695.4 L2034.6 695.6 L2038.6 700.6 L2039.5 701.7 L2042.8 705.9 L2044.3 707.7 L2047 711.1 L2049.2 713.8 L2051.2 716.4 L2054.1 719.8 L2055.4 721.6 L2058.9 725.9 L2059.7 726.9 L2063.8 732 L2063.9 732.1 L2068 737.4 L2068.6 738.1 L2072.2 742.6 L2073.5 744.3 L2076.3 747.9 L2078.4 750.4 L2080.5 753.1 L2083.2 756.6 L2084.6 758.4 L2088.1 762.8 L2088.7 763.6 L2092.8 768.9 L2093 769.1 L2096.8 774.1 L2097.8 775.5 L2100.8 779.4 L2102.7 782 L2104.7 784.6 L2107.6 788.6 L2108.5 789.9 L2112.3 795.1 L2112.4 795.3 L2116 800.4 L2117.3 802.3 L2119.5 805.6 L2122.2 809.6 L2123 810.9 L2126.4 816.1 L2127 817.2 L2129.5 821.4 L2131.9 825.5 L2132.6 826.6 L2135.3 831.9 L2136.8 834.8 L2137.9 837.1 L2140.1 842.4 L2141.6 846.5 L2142 847.6 L2143.4 852.9 L2144.3 858.1 L2144.4 863.4 L2143.8 868.6 L2142.4 873.9 L2141.6 876 L2139.7 879.2 L2136.8 883 L2134 884.4 L2131.9 885.2 L2127 884.7 L2126.2 884.4 L2122.2 882.8 L2117.3 879.9 L2116.3 879.2 L2112.4 876.3 L2109.5 873.9 L2107.6 872.3 L2103.5 868.6 L2102.7 868 L2097.9 863.4 L2097.8 863.3 L2093 858.5 L2092.7 858.1 L2088.1 853.4 L2087.7 852.9 L2083.2 848.2 L2082.8 847.6 L2078.4 842.8 L2078 842.4 L2073.5 837.3 L2073.4 837.1 L2068.9 831.9 L2068.6 831.6 L2064.4 826.6 L2063.8 825.9 L2060 821.4 L2058.9 820.1 L2055.7 816.1 L2054.1 814.2 L2051.4 810.9 L2049.2 808.1 L2047.2 805.6 L2044.3 801.9 L2043.1 800.4 L2039.5 795.6 L2039.1 795.1 L2035.1 789.9 L2034.6 789.2 L2031.2 784.6 L2029.7 782.6 L2027.4 779.4 L2024.9 775.8 L2023.7 774.1 L2020.1 768.9 L2020 768.7 L2016.6 763.6 L2015.1 761.3 L2013.2 758.4 L2010.3 753.6 L2010 753.1 L2006.8 747.9 L2005.4 745.4 L2003.8 742.6 L2001 737.4 L2000.5 736.5 L1998.3 732.1 L1995.8 726.9 L1995.7 726.5 L1993.6 721.6 L1991.5 716.4 L1990.8 714.5 L1989.6 711.1 L1988 705.9 L1986.5 700.6 L1985.9 698.2 L1985.3 695.4 L1984.1 690.1 L1983 684.9 L1981.8 679.6 L1981.1 676.6 L1980.5 674.4 L1979.2 669.1 L1977.8 663.9 L1976.2 659.1 L1976.1 658.6 L1974.5 653.4 L1972.8 648.1 L1971.4 644.1 L1970.9 642.9 L1969.4 637.6 L1967.7 632.4 L1966.5 629 L1966 627.1 L1965.2 621.9"/>
<path d="M1465.2 233.3 L1465.4 233.1 L1470.3 231.5 L1475.1 231.9 L1480 233.3 L1480 233.3 L1484.9 235.3 L1489.7 237.6 L1491.5 238.5 L1494.6 240.2 L1499.5 242.9 L1500.8 243.8 L1504.3 245.9 L1509.1 249 L1509.2 249.1 L1514.1 252.3 L1516.8 254.3 L1518.9 255.7 L1523.8 259.3 L1524.2 259.5 L1528.6 262.8 L1531.2 264.8 L1533.5 266.5 L1538 270 L1538.4 270.3 L1543.2 274.1 L1544.6 275.3 L1548.1 278 L1551.1 280.5 L1553 282.1 L1557.3 285.8 L1557.8 286.2 L1562.7 290.3 L1563.5 291 L1567.6 294.5 L1569.6 296.3 L1572.4 298.7 L1575.5 301.5 L1577.3 303.1 L1581.4 306.8 L1582.2 307.5 L1587 312 L1587.1 312 L1591.9 316.4 L1592.8 317.3 L1596.8 320.9 L1598.4 322.5 L1601.6 325.5 L1604 327.8 L1606.5 330.2 L1609.4 333.1 L1611.4 334.9 L1614.8 338.3 L1616.2 339.7 L1620.1 343.6 L1621.1 344.5 L1625.4 348.8 L1625.9 349.4 L1630.5 354.1 L1630.8 354.3 L1635.7 359.3 L1635.7 359.3 L1640.5 364.3 L1640.8 364.6 L1645.4 369.4 L1645.8 369.8 L1650.3 374.5 L1650.8 375.1 L1655.1 379.7 L1655.7 380.3 L1660 385 L1660.6 385.6 L1664.9 390.3 L1665.3 390.8 L1669.7 395.7 L1670.1 396.1 L1674.6 401.2 L1674.7 401.3 L1679.3 406.6 L1679.5 406.8 L1683.8 411.8 L1684.3 412.4 L1688.3 417.1 L1689.2 418.2 L1692.6 422.3 L1694.1 424.1 L1696.9 427.6 L1698.9 430.1 L1701.1 432.8 L1703.8 436.3 L1705.2 438.1 L1708.6 442.7 L1709.1 443.3 L1713 448.6 L1713.5 449.3 L1716.8 453.8 L1718.4 456.2 L1720.4 459.1 L1723.2 463.3 L1723.9 464.3 L1727.3 469.6 L1728.1 470.9 L1730.5 474.8 L1733 479 L1733.6 480.1 L1736.5 485.3 L1737.8 487.9 L1739.3 490.6 L1741.9 495.8 L1742.7 497.6 L1744.3 501.1 L1746.6 506.3 L1747.6 508.6 L1748.8 511.6 L1750.8 516.8 L1752.4 521 L1752.8 522.1 L1754.7 527.3 L1756.8 532.6 L1757.3 533.9 L1758.8 537.8 L1761 543.1 L1762.2 545.7 L1763.3 548.3 L1765.7 553.6 L1767 556.2 L1768.3 558.8 L1771 564.1 L1771.9 565.8 L1773.7 569.3 L1776.6 574.6 L1776.8 574.8 L1779.5 579.8 L1781.6 583.5 L1782.5 585.1 L1785.5 590.3 L1786.5 592 L1788.5 595.6 L1791.4 600.4 L1791.6 600.8 L1794.6 606.1 L1796.2 608.9 L1797.6 611.4 L1800.6 616.6 L1801.1 617.5 L1803.5 621.9 L1805.9 626.2 L1806.4 627.1 L1809.2 632.4 L1810.8 635.4 L1812 637.6 L1814.5 642.9 L1815.7 645.3 L1816.9 648.1 L1819.1 653.4 L1820.5 657.6 L1820.9 658.6 L1821.8 663.9 L1820.6 669.1 L1820.5 669.2 L1815.7 669.8 L1814 669.1 L1810.8 667.9 L1805.9 665.3 L1803.9 663.9 L1801.1 662 L1796.5 658.6 L1796.2 658.4 L1791.4 654.4 L1790.2 653.4 L1786.5 650 L1784.4 648.1 L1781.6 645.5 L1778.9 642.9 L1776.8 640.8 L1773.7 637.6 L1771.9 635.8 L1768.7 632.4 L1767 630.6 L1763.9 627.1 L1762.2 625.1 L1759.3 621.9 L1757.3 619.5 L1754.9 616.6 L1752.4 613.6 L1750.7 611.4 L1747.6 607.4 L1746.6 606.1 L1742.7 601 L1742.6 600.8 L1738.9 595.6 L1737.8 594.1 L1735.2 590.3 L1733 587 L1731.7 585.1 L1728.3 579.8 L1728.1 579.5 L1725.2 574.6 L1723.2 571.4 L1722.1 569.3 L1719.1 564.1 L1718.4 562.9 L1716.2 558.8 L1713.5 553.9 L1713.4 553.6 L1710.7 548.3 L1708.6 544.3 L1708 543.1 L1705.4 537.8 L1703.8 534.6 L1702.8 532.6 L1700.1 527.3 L1698.9 525.2 L1697.3 522.1 L1694.3 516.8 L1694.1 516.4 L1691.3 511.6 L1689.2 508.4 L1688 506.3 L1684.5 501.1 L1684.3 500.9 L1680.8 495.8 L1679.5 494.1 L1676.9 490.6 L1674.6 487.6 L1672.9 485.3 L1669.7 481.5 L1668.6 480.1 L1664.9 475.6 L1664.2 474.8 L1660 470 L1659.6 469.6 L1655.1 464.5 L1654.9 464.3 L1650.3 459.3 L1650.1 459.1 L1645.4 454.1 L1645.2 453.8 L1640.5 449 L1640.1 448.6 L1635.7 444.1 L1634.9 443.3 L1630.8 439.2 L1629.7 438.1 L1625.9 434.4 L1624.4 432.8 L1621.1 429.6 L1619 427.6 L1616.2 424.9 L1613.6 422.3 L1611.4 420.1 L1608.2 417.1 L1606.5 415.4 L1602.8 411.8 L1601.6 410.7 L1597.4 406.6 L1596.8 406 L1592 401.3 L1591.9 401.2 L1587 396.6 L1586.5 396.1 L1582.2 391.9 L1581.1 390.8 L1577.3 387.2 L1575.7 385.6 L1572.4 382.4 L1570.4 380.3 L1567.6 377.5 L1565.1 375.1 L1562.7 372.6 L1560 369.8 L1557.8 367.7 L1554.8 364.6 L1553 362.6 L1549.8 359.3 L1548.1 357.5 L1544.9 354.1 L1543.2 352.3 L1540 348.8 L1538.4 347.1 L1535.2 343.6 L1533.5 341.7 L1530.5 338.3 L1528.6 336.2 L1525.8 333.1 L1523.8 330.7 L1521.3 327.8 L1518.9 325 L1516.8 322.5 L1514.1 319.2 L1512.5 317.3 L1509.2 313.3 L1508.2 312 L1504.3 307.2 L1504 306.8 L1499.9 301.5 L1499.5 301 L1495.8 296.3 L1494.6 294.6 L1491.9 291 L1489.7 288 L1488.1 285.8 L1484.9 281.2 L1484.4 280.5 L1480.9 275.3 L1480 273.9 L1477.4 270 L1475.1 266.2 L1474.2 264.8 L1471.3 259.5 L1470.3 257.5 L1468.6 254.3 L1466.2 249 L1465.4 246.4 L1464.5 243.8 L1463.7 238.5 L1465.2 233.3"/>
<path d="M2023 726.9 L2024.9 723.3 L2029.7 722.4 L2034.6 724.5 L2038.2 726.9 L2039.5 727.6 L2044.3 731.5 L2045 732.1 L2049.2 735.9 L2050.7 737.4 L2054.1 740.5 L2056 742.6 L2058.9 745.5 L2061.1 747.9 L2063.8 750.7 L2066 753.1 L2068.6 756 L2070.7 758.4 L2073.5 761.6 L2075.2 763.6 L2078.4 767.3 L2079.7 768.9 L2083.2 773.2 L2084 774.1 L2088.1 779.3 L2088.2 779.4 L2092.2 784.6 L2093 785.7 L2096 789.9 L2097.8 792.5 L2099.6 795.1 L2102.7 799.6 L2103.2 800.4 L2106.4 805.6 L2107.6 807.6 L2109.4 810.9 L2112.2 816.1 L2112.4 816.8 L2114.2 821.4 L2115.8 826.6 L2116.3 831.9 L2113.5 837.1 L2112.4 837.8 L2107.6 837.9 L2105.5 837.1 L2102.7 836.2 L2097.8 833.5 L2095.5 831.9 L2093 830.2 L2088.6 826.6 L2088.1 826.3 L2083.2 822 L2082.6 821.4 L2078.4 817.3 L2077.2 816.1 L2073.5 812.3 L2072.2 810.9 L2068.6 807.1 L2067.4 805.6 L2063.8 801.6 L2062.8 800.4 L2058.9 795.8 L2058.4 795.1 L2054.1 789.9 L2054.1 789.8 L2050.1 784.6 L2049.2 783.4 L2046.3 779.4 L2044.3 776.6 L2042.6 774.1 L2039.5 769.5 L2039 768.9 L2035.8 763.6 L2034.6 761.6 L2032.7 758.4 L2029.8 753.1 L2029.7 752.9 L2027.4 747.9 L2025.2 742.6 L2024.9 741.5 L2023.6 737.4 L2022.8 732.1 L2023 726.9"/>
<path d="M1475.8 243.8 L1480 242 L1484.9 242.5 L1489.5 243.8 L1489.7 243.8 L1494.6 246 L1499.5 248.3 L1500.7 249 L1504.3 251 L1509.2 253.9 L1509.8 254.3 L1514.1 257 L1517.8 259.5 L1518.9 260.3 L1523.8 263.6 L1525.4 264.8 L1528.6 267.1 L1532.5 270 L1533.5 270.8 L1538.4 274.5 L1539.4 275.3 L1543.2 278.2 L1546.1 280.5 L1548.1 282.2 L1552.5 285.8 L1553 286.2 L1557.8 290.2 L1558.8 291 L1562.7 294.3 L1565 296.3 L1567.6 298.5 L1571 301.5 L1572.4 302.8 L1576.9 306.8 L1577.3 307.2 L1582.2 311.5 L1582.7 312 L1587 316 L1588.5 317.3 L1591.9 320.5 L1594.1 322.5 L1596.8 325 L1599.6 327.8 L1601.6 329.7 L1605.1 333.1 L1606.5 334.4 L1610.5 338.3 L1611.4 339.2 L1615.8 343.6 L1616.2 344 L1621 348.8 L1621.1 348.9 L1625.9 353.8 L1626.2 354.1 L1630.8 358.7 L1631.4 359.3 L1635.7 363.8 L1636.4 364.6 L1640.5 368.9 L1641.4 369.8 L1645.4 374 L1646.4 375.1 L1650.3 379.3 L1651.2 380.3 L1655.1 384.6 L1656 385.6 L1660 390 L1660.7 390.8 L1664.9 395.5 L1665.4 396.1 L1669.7 401.1 L1669.9 401.3 L1674.4 406.6 L1674.6 406.8 L1678.8 411.8 L1679.5 412.6 L1683.1 417.1 L1684.3 418.6 L1687.3 422.3 L1689.2 424.7 L1691.5 427.6 L1694.1 431 L1695.5 432.8 L1698.9 437.5 L1699.3 438.1 L1703.1 443.3 L1703.8 444.4 L1706.7 448.6 L1708.6 451.6 L1710.2 453.8 L1713.5 459.1 L1713.5 459.1 L1716.6 464.3 L1718.4 467.6 L1719.5 469.6 L1722.2 474.8 L1723.2 477.1 L1724.7 480.1 L1726.8 485.3 L1728.1 488.8 L1728.8 490.6 L1730.2 495.8 L1731.3 501.1 L1732.1 506.3 L1732.2 511.6 L1731.7 516.8 L1730.1 522.1 L1728.1 525.5 L1723.2 524.3 L1720.9 522.1 L1718.4 520.4 L1715 516.8 L1713.5 515.7 L1709.7 511.6 L1708.6 510.7 L1704.6 506.3 L1703.8 505.6 L1699.6 501.1 L1698.9 500.5 L1694.6 495.8 L1694.1 495.4 L1689.5 490.6 L1689.2 490.3 L1684.4 485.3 L1684.3 485.2 L1679.5 480.2 L1679.3 480.1 L1674.6 475.3 L1674.1 474.8 L1669.7 470.4 L1668.9 469.6 L1664.9 465.6 L1663.6 464.3 L1660 460.8 L1658.3 459.1 L1655.1 456 L1652.9 453.8 L1650.3 451.3 L1647.5 448.6 L1645.4 446.6 L1642.1 443.3 L1640.5 441.9 L1636.6 438.1 L1635.7 437.3 L1631 432.8 L1630.8 432.6 L1625.9 428 L1625.5 427.6 L1621.1 423.5 L1619.9 422.3 L1616.2 418.9 L1614.3 417.1 L1611.4 414.3 L1608.7 411.8 L1606.5 409.7 L1603.2 406.6 L1601.6 405.1 L1597.7 401.3 L1596.8 400.5 L1592.2 396.1 L1591.9 395.8 L1587 391.2 L1586.7 390.8 L1582.2 386.5 L1581.2 385.6 L1577.3 381.8 L1575.8 380.3 L1572.4 377 L1570.5 375.1 L1567.6 372.2 L1565.2 369.8 L1562.7 367.3 L1560 364.6 L1557.8 362.3 L1554.9 359.3 L1553 357.3 L1549.9 354.1 L1548.1 352.2 L1545 348.8 L1543.2 346.9 L1540.1 343.6 L1538.4 341.6 L1535.3 338.3 L1533.5 336.3 L1530.7 333.1 L1528.6 330.8 L1526.1 327.8 L1523.8 325.1 L1521.6 322.5 L1518.9 319.4 L1517.2 317.3 L1514.1 313.5 L1512.9 312 L1509.2 307.4 L1508.7 306.8 L1504.6 301.5 L1504.3 301.2 L1500.6 296.3 L1499.5 294.7 L1496.7 291 L1494.6 288 L1493 285.8 L1489.7 281 L1489.4 280.5 L1486.1 275.3 L1484.9 273.2 L1482.9 270 L1480 264.8 L1480 264.8 L1477.5 259.5 L1475.5 254.3 L1475.1 252.3 L1474.5 249 L1475.1 245.1 L1475.8 243.8"/>
<path d="M1743.2 569.3 L1747.6 567.4 L1749.1 569.3 L1752.4 572.4 L1754 574.6 L1757.3 578.3 L1758.3 579.8 L1762.2 584.7 L1762.4 585.1 L1766 590.3 L1767 591.7 L1769.4 595.6 L1771.9 599.2 L1772.8 600.8 L1776 606.1 L1776.8 607.5 L1778.6 611.4 L1781.2 616.6 L1781.6 619 L1782 621.9 L1781.6 622.4 L1780.2 621.9 L1776.8 620.6 L1771.9 616.8 L1771.7 616.6 L1767 611.7 L1766.7 611.4 L1762.3 606.1 L1762.2 605.9 L1758.7 600.8 L1757.3 599 L1755.2 595.6 L1752.4 591.5 L1751.7 590.3 L1749.1 585.1 L1747.6 582.3 L1746.5 579.8 L1744.8 574.6 L1743.2 569.3"/>
<path d="M1509 275.3 L1509.2 275.1 L1514.1 274.7 L1515.8 275.3 L1518.9 276.3 L1523.8 278.6 L1527.4 280.5 L1528.6 281.2 L1533.5 284.3 L1535.8 285.8 L1538.4 287.5 L1543.2 290.9 L1543.4 291 L1548.1 294.6 L1550.3 296.3 L1553 298.4 L1557 301.5 L1557.8 302.2 L1562.7 306.2 L1563.4 306.8 L1567.6 310.4 L1569.5 312 L1572.4 314.6 L1575.5 317.3 L1577.3 318.9 L1581.3 322.5 L1582.2 323.3 L1587 327.8 L1587 327.8 L1591.9 332.4 L1592.6 333.1 L1596.8 337.1 L1598 338.3 L1601.6 341.8 L1603.4 343.6 L1606.5 346.7 L1608.6 348.8 L1611.4 351.6 L1613.7 354.1 L1616.2 356.6 L1618.8 359.3 L1621.1 361.8 L1623.7 364.6 L1625.9 367 L1628.5 369.8 L1630.8 372.4 L1633.3 375.1 L1635.7 377.8 L1637.9 380.3 L1640.5 383.4 L1642.4 385.6 L1645.4 389.2 L1646.8 390.8 L1650.3 395.2 L1651 396.1 L1655.1 401.3 L1655.2 401.3 L1659 406.6 L1660 408 L1662.7 411.8 L1664.9 415.1 L1666.2 417.1 L1669.5 422.3 L1669.7 422.7 L1672.2 427.6 L1674.6 432.8 L1674.6 432.8 L1675.4 438.1 L1674.6 440 L1669.7 441.1 L1664.9 439.4 L1662.3 438.1 L1660 436.9 L1655.1 433.9 L1653.6 432.8 L1650.3 430.6 L1646.1 427.6 L1645.4 427.1 L1640.5 423.4 L1639.2 422.3 L1635.7 419.6 L1632.6 417.1 L1630.8 415.7 L1626.1 411.8 L1625.9 411.7 L1621.1 407.6 L1619.9 406.6 L1616.2 403.4 L1613.8 401.3 L1611.4 399.2 L1607.8 396.1 L1606.5 394.9 L1601.9 390.8 L1601.6 390.6 L1596.8 386.2 L1596.1 385.6 L1591.9 381.7 L1590.4 380.3 L1587 377.2 L1584.8 375.1 L1582.2 372.5 L1579.3 369.8 L1577.3 367.8 L1574 364.6 L1572.4 363 L1568.7 359.3 L1567.6 358.2 L1563.5 354.1 L1562.7 353.2 L1558.4 348.8 L1557.8 348.2 L1553.5 343.6 L1553 343 L1548.7 338.3 L1548.1 337.7 L1543.9 333.1 L1543.2 332.2 L1539.4 327.8 L1538.4 326.6 L1534.9 322.5 L1533.5 320.8 L1530.6 317.3 L1528.6 314.7 L1526.5 312 L1523.8 308.4 L1522.6 306.8 L1518.9 301.7 L1518.8 301.5 L1515.4 296.3 L1514.1 293.9 L1512.3 291 L1509.7 285.8 L1509.2 284.1 L1508.1 280.5 L1509 275.3"/>
</g>
<g clip-path="url(#clipH)" fill="none" stroke="#222" stroke-opacity="0.75" stroke-width="1.4" stroke-linejoin="round">
<path d="M1895.5 205.5 L1892.5 257.5 L1886 307.5 L1877 361 L1890 407.5 L1907.5 465 L1920 515 L1925 543 L1950 655.5 L1970 723 L2010 843 L2025 896 L2060 971 L2095.7 1066 L2094 1249 L2092.5 1308"/>
<path d="M1877 361 L1915 440 L1940 502 L1952.5 543 L1970 600.5 L1987.5 643 L2000 688 L2022.5 768 L2050 860 L2071.8 941.6 L2085.5 1013 L2095.7 1066"/>
<path d="M1977 205.5 L2000 265 L2025 315 L2045 360 L2060 402 L2072.5 452 L2080 502 L2085 543 L2090 593 L2088.7 643 L2085 683 L2080 709"/>
<path d="M1717 418 L1794 480 L1922 609 L1942 628 L1987.5 643 L2080 709"/>
<path d="M1717 446 L1817 560.6 L1882 631 L1967 722"/>
<path d="M2080 709 L2090 743 L2105 793 L2125 868 L2141.6 923.8"/>
<path d="M2141.6 923.8 L2124.6 979 L2095.7 1066"/>
<path d="M2141.6 923.8 L2302 895 L2313.6 893"/>
<path d="M2141.6 923.8 L2153.5 955 L2140 1030 L2121 1100 L2102.5 1308"/>
<path d="M2095.7 1066 L2109 1100 L2120 1133 L2162 1249 L2186 1308"/>
<path d="M1717 963.5 L1841 1308"/>
</g>
<g stroke="#000" stroke-width="4.2" stroke-dasharray="41.7 83.3" fill="none">
<path d="M1591.3 153.5 V1308"/>
<path d="M1918.2 153.5 V1308"/>
<path d="M2179.8 153.5 V1308"/>
</g>
<text transform="translate(1644 1302) rotate(-90)" font-family="DejaVu Sans, Liberation Sans, sans-serif" font-weight="bold" font-size="41.7">100<tspan font-size="35" dy="-15.5" dx="6">∘</tspan><tspan dy="15.5" dx="5">C</tspan></text>
<text transform="translate(1905 1302) rotate(-90)" font-family="DejaVu Sans, Liberation Sans, sans-serif" font-weight="bold" font-size="41.7">350<tspan font-size="35" dy="-15.5" dx="6">∘</tspan><tspan dy="15.5" dx="5">C</tspan></text>
<text transform="translate(2166.5 1302) rotate(-90)" font-family="DejaVu Sans, Liberation Sans, sans-serif" font-weight="bold" font-size="41.7">550<tspan font-size="35" dy="-15.5" dx="6">∘</tspan><tspan dy="15.5" dx="5">C</tspan></text>
<text x="1786" y="283" font-family="DejaVu Sans, Liberation Sans, sans-serif" font-weight="bold" font-size="57" fill="#800080" fill-opacity="0.8" text-anchor="middle">PP</text>
<text x="2015" y="457" font-family="DejaVu Sans, Liberation Sans, sans-serif" font-weight="bold" font-size="57" fill="#800080" fill-opacity="0.8" text-anchor="middle">GS</text>
<text x="2197" y="659" font-family="DejaVu Sans, Liberation Sans, sans-serif" font-weight="bold" font-size="57" fill="#800080" fill-opacity="0.8" text-anchor="middle">Amp</text>
<text x="1838.7" y="1005.5" font-family="DejaVu Sans, Liberation Sans, sans-serif" font-weight="bold" font-size="57" fill="#800080" fill-opacity="0.8" text-anchor="middle">BS</text>
<text transform="translate(1773.7 448.7) rotate(50)" font-family="DejaVu Sans, Liberation Sans, sans-serif" font-size="39.5" fill="#1a1a1a" fill-opacity="0.85" text-anchor="middle" dominant-baseline="central">Gln+</text>
<text transform="translate(1773 536.5) rotate(50)" font-family="DejaVu Sans, Liberation Sans, sans-serif" font-size="39.5" fill="#1a1a1a" fill-opacity="0.85" text-anchor="middle" dominant-baseline="central">Law+</text>
<text transform="translate(1892 542) rotate(72)" font-family="DejaVu Sans, Liberation Sans, sans-serif" font-size="39.5" fill="#1a1a1a" fill-opacity="0.85" text-anchor="middle" dominant-baseline="central">Ep+</text>
<text transform="translate(1933.7 433.7) rotate(68.5)" font-family="DejaVu Sans, Liberation Sans, sans-serif" font-size="39.5" fill="#1a1a1a" fill-opacity="0.85" text-anchor="middle" dominant-baseline="central">Ca-Amp+</text>
<text transform="translate(2103.7 485) rotate(75)" font-family="DejaVu Sans, Liberation Sans, sans-serif" font-size="39.5" fill="#1a1a1a" fill-opacity="0.85" text-anchor="middle" dominant-baseline="central">Chl-</text>
<text transform="translate(2236 938) rotate(0)" font-family="DejaVu Sans, Liberation Sans, sans-serif" font-size="39.5" fill="#1a1a1a" fill-opacity="0.85" text-anchor="middle" dominant-baseline="central">Grt+</text>
<text transform="translate(2155 1067) rotate(-73)" font-family="DejaVu Sans, Liberation Sans, sans-serif" font-size="39.5" fill="#1a1a1a" fill-opacity="0.85" text-anchor="middle" dominant-baseline="central">Chl-</text>
<defs><linearGradient id="gCB" x1="0" y1="0" x2="0" y2="1">
<stop offset="0.0000" stop-color="#6c79d0"/>
<stop offset="0.0769" stop-color="#7a8cdb"/>
<stop offset="0.1538" stop-color="#879be2"/>
<stop offset="0.2308" stop-color="#93aae8"/>
<stop offset="0.3077" stop-color="#abbdef"/>
<stop offset="0.3846" stop-color="#c9d4f3"/>
<stop offset="0.4462" stop-color="#e6ebf9"/>
<stop offset="0.5000" stop-color="#fbfbfd"/>
<stop offset="0.5385" stop-color="#fdeeee"/>
<stop offset="0.6154" stop-color="#f9cfcf"/>
<stop offset="0.6923" stop-color="#f5aeae"/>
<stop offset="0.7692" stop-color="#ee8f92"/>
<stop offset="0.8462" stop-color="#e4707a"/>
<stop offset="0.9231" stop-color="#d6586a"/>
<stop offset="1.0000" stop-color="#c8405a"/>
</linearGradient></defs>
<rect x="2359.2" y="385" width="33.6" height="692" fill="url(#gCB)" stroke="#000" stroke-width="3.4"/>
<g stroke="#000" stroke-width="2.6">
<path d="M2392.8 1077h-20"/>
<path d="M2392.8 970.5h-20"/>
<path d="M2392.8 864.1h-20"/>
<path d="M2392.8 757.6h-20"/>
<path d="M2392.8 651.2h-20"/>
<path d="M2392.8 544.7h-20"/>
<path d="M2392.8 438.2h-20"/>
</g>
<g font-family="DejaVu Sans, Liberation Sans, sans-serif" font-weight="bold" font-size="41.7">
<text x="2408" y="1092.8">0</text>
<text x="2408" y="986.3">1</text>
<text x="2408" y="879.9">2</text>
<text x="2408" y="773.4">3</text>
<text x="2408" y="667">4</text>
<text x="2408" y="560.5">5</text>
<text x="2408" y="454">6</text>
</g>
<text transform="translate(2464 733) rotate(90)" font-family="DejaVu Sans, Liberation Sans, sans-serif" font-weight="bold" font-size="41.7" text-anchor="middle"><tspan font-style="italic">H</tspan><tspan font-style="italic" font-size="29" dy="7">2</tspan><tspan font-style="italic" dy="-7">O</tspan> (wt%)</text>
<path d="M1460.5 1325C1463.8 1326.7 1473.4 1330.8 1480 1335C1486.6 1339.2 1493.3 1344.8 1500 1350C1506.7 1355.2 1513.3 1360.8 1520 1366C1526.7 1371.2 1533.3 1376.5 1540 1381C1546.7 1385.5 1553.3 1389.7 1560 1393C1566.7 1396.3 1573.5 1399 1580 1401C1586.5 1403 1592.3 1404.5 1599 1405C1605.7 1405.5 1611.5 1405 1620 1404C1628.5 1403 1636.7 1401.2 1650 1399C1663.3 1396.8 1683.3 1394 1700 1391C1716.7 1388 1733.3 1385 1750 1381C1766.7 1377 1786.7 1370.7 1800 1367C1813.3 1363.3 1821.7 1360.7 1830 1359C1838.3 1357.3 1843.3 1357.2 1850 1357C1856.7 1356.8 1861.7 1356.7 1870 1358C1878.3 1359.3 1886.7 1360.7 1900 1365C1913.3 1369.3 1933.3 1377.8 1950 1384C1966.7 1390.2 1986.7 1397.3 2000 1402C2013.3 1406.7 2020 1409.3 2030 1412C2040 1414.7 2051.7 1417.3 2060 1418C2068.3 1418.7 2073.3 1417.7 2080 1416C2086.7 1414.3 2091.7 1412.7 2100 1408C2108.3 1403.3 2120 1395.7 2130 1388C2140 1380.3 2148.3 1370.5 2160 1362C2171.7 1353.5 2185 1343.7 2200 1337C2215 1330.3 2233.3 1325.7 2250 1322C2266.7 1318.3 2284.5 1316.8 2300 1315C2315.5 1313.2 2326.3 1312.3 2343 1311.5C2359.7 1310.7 2380.5 1310.4 2400 1310C2419.5 1309.6 2440.2 1309.4 2460 1309.2C2479.8 1309 2509.2 1308.7 2519 1308.6 L2519 1308.2 L1459 1308.2 Z" fill="#b3b3b3"/>
<path d="M1460.5 1325C1463.8 1326.7 1473.4 1330.8 1480 1335C1486.6 1339.2 1493.3 1344.8 1500 1350C1506.7 1355.2 1513.3 1360.8 1520 1366C1526.7 1371.2 1533.3 1376.5 1540 1381C1546.7 1385.5 1553.3 1389.7 1560 1393C1566.7 1396.3 1573.5 1399 1580 1401C1586.5 1403 1592.3 1404.5 1599 1405C1605.7 1405.5 1611.5 1405 1620 1404C1628.5 1403 1636.7 1401.2 1650 1399C1663.3 1396.8 1683.3 1394 1700 1391C1716.7 1388 1733.3 1385 1750 1381C1766.7 1377 1786.7 1370.7 1800 1367C1813.3 1363.3 1821.7 1360.7 1830 1359C1838.3 1357.3 1843.3 1357.2 1850 1357C1856.7 1356.8 1861.7 1356.7 1870 1358C1878.3 1359.3 1886.7 1360.7 1900 1365C1913.3 1369.3 1933.3 1377.8 1950 1384C1966.7 1390.2 1986.7 1397.3 2000 1402C2013.3 1406.7 2020 1409.3 2030 1412C2040 1414.7 2051.7 1417.3 2060 1418C2068.3 1418.7 2073.3 1417.7 2080 1416C2086.7 1414.3 2091.7 1412.7 2100 1408C2108.3 1403.3 2120 1395.7 2130 1388C2140 1380.3 2148.3 1370.5 2160 1362C2171.7 1353.5 2185 1343.7 2200 1337C2215 1330.3 2233.3 1325.7 2250 1322C2266.7 1318.3 2284.5 1316.8 2300 1315C2315.5 1313.2 2326.3 1312.3 2343 1311.5C2359.7 1310.7 2380.5 1310.4 2400 1310C2419.5 1309.6 2440.2 1309.4 2460 1309.2C2479.8 1309 2509.2 1308.7 2519 1308.6" fill="none" stroke="#666" stroke-width="3"/>
<path d="M1459 1308.2 H2519" fill="none" stroke="#666" stroke-width="1.6"/>
<path d="M2518 153.5C2518.8 158.5 2519.8 173.1 2522.5 183.7C2525.2 194.3 2528.4 205.8 2534 217C2539.6 228.2 2547.2 239.7 2556 251C2564.8 262.3 2577.8 273.5 2586.5 284.7C2595.2 295.9 2602.7 306.8 2608 318C2613.3 329.2 2617.7 340.7 2618.5 352C2619.3 363.3 2615.8 374.5 2613 385.7C2610.2 396.9 2604.4 407.8 2601.6 419C2598.8 430.2 2596.6 441.7 2596 453C2595.4 464.3 2596.5 475.5 2598 486.7C2599.5 497.9 2602.7 509.8 2605 520C2607.3 530.2 2609.9 538 2612 548C2614.1 558 2616.6 571.3 2617.6 580C2618.6 588.7 2618.7 592.5 2618.2 600C2617.7 607.5 2616 616.7 2614.5 625C2613 633.3 2610.2 643 2609 650C2607.8 657 2607.4 660 2607.3 667C2607.2 674 2607.4 681 2608.6 692C2609.8 703 2613.1 720.3 2614.5 733C2615.9 745.7 2617.4 756.5 2617.2 768C2617 779.5 2616 790.3 2613.5 802C2611 813.7 2606.5 826.8 2602 838C2597.5 849.2 2591.7 858.2 2586.5 869C2581.3 879.8 2576.1 891.7 2571 903C2565.9 914.3 2560.7 925.5 2556 936.7C2551.3 947.9 2546.6 958.8 2542.7 970C2538.8 981.2 2535.3 992.7 2532.6 1004C2529.9 1015.3 2528.2 1025.9 2526.5 1037.7C2524.8 1049.5 2523.4 1059.6 2522.5 1075C2521.6 1090.4 2521.2 1109.2 2520.8 1130C2520.4 1150.8 2520.3 1170.2 2520 1200C2519.7 1229.8 2519.2 1290.5 2519 1308.6 L2517.6 1308.6 L2517.6 153.5 Z" fill="#b3b3b3"/>
<path d="M2518 153.5C2518.8 158.5 2519.8 173.1 2522.5 183.7C2525.2 194.3 2528.4 205.8 2534 217C2539.6 228.2 2547.2 239.7 2556 251C2564.8 262.3 2577.8 273.5 2586.5 284.7C2595.2 295.9 2602.7 306.8 2608 318C2613.3 329.2 2617.7 340.7 2618.5 352C2619.3 363.3 2615.8 374.5 2613 385.7C2610.2 396.9 2604.4 407.8 2601.6 419C2598.8 430.2 2596.6 441.7 2596 453C2595.4 464.3 2596.5 475.5 2598 486.7C2599.5 497.9 2602.7 509.8 2605 520C2607.3 530.2 2609.9 538 2612 548C2614.1 558 2616.6 571.3 2617.6 580C2618.6 588.7 2618.7 592.5 2618.2 600C2617.7 607.5 2616 616.7 2614.5 625C2613 633.3 2610.2 643 2609 650C2607.8 657 2607.4 660 2607.3 667C2607.2 674 2607.4 681 2608.6 692C2609.8 703 2613.1 720.3 2614.5 733C2615.9 745.7 2617.4 756.5 2617.2 768C2617 779.5 2616 790.3 2613.5 802C2611 813.7 2606.5 826.8 2602 838C2597.5 849.2 2591.7 858.2 2586.5 869C2581.3 879.8 2576.1 891.7 2571 903C2565.9 914.3 2560.7 925.5 2556 936.7C2551.3 947.9 2546.6 958.8 2542.7 970C2538.8 981.2 2535.3 992.7 2532.6 1004C2529.9 1015.3 2528.2 1025.9 2526.5 1037.7C2524.8 1049.5 2523.4 1059.6 2522.5 1075C2521.6 1090.4 2521.2 1109.2 2520.8 1130C2520.4 1150.8 2520.3 1170.2 2520 1200C2519.7 1229.8 2519.2 1290.5 2519 1308.6" fill="none" stroke="#666" stroke-width="3"/>
<path d="M2517.6 153.5 V1308.6" fill="none" stroke="#666" stroke-width="1.6"/>
<g stroke="#000" stroke-width="3.4" fill="none" stroke-linecap="square">
<path d="M1460.5 153.5 H2506.7"/>
<path d="M1460.5 153.5 V1308"/>
</g>
<g stroke="#000" stroke-width="3.4" fill="none">
<path d="M1460.5 153.5 v-14.6"/>
<path d="M1722 153.5 v-14.6"/>
<path d="M1983.6 153.5 v-14.6"/>
<path d="M2245.1 153.5 v-14.6"/>
<path d="M2506.7 153.5 v-14.6"/>
<path d="M1460.5 153.5 h-14.6"/>
<path d="M1460.5 442.1 h-14.6"/>
<path d="M1460.5 730.8 h-14.6"/>
<path d="M1460.5 1019.4 h-14.6"/>
</g>
<g font-family="DejaVu Sans, Liberation Sans, sans-serif" font-weight="bold" font-size="41.7" fill="#000">
<text x="1460.5" y="114" text-anchor="middle">0</text>
<text x="1722" y="114" text-anchor="middle">200</text>
<text x="1983.6" y="114" text-anchor="middle">400</text>
<text x="2245.1" y="114" text-anchor="middle">600</text>
<text x="2506.7" y="114" text-anchor="middle">800</text>
<text x="1429.5" y="169.3" text-anchor="end">0.0</text>
<text x="1429.5" y="457.9" text-anchor="end">0.5</text>
<text x="1429.5" y="746.5" text-anchor="end">1.0</text>
<text x="1429.5" y="1035.2" text-anchor="end">1.5</text>
</g>
<text x="1983.6" y="65.3" font-family="DejaVu Sans, Liberation Sans, sans-serif" font-weight="bold" font-size="42.2" text-anchor="middle">Temperature (<tspan font-size="35.4" dy="-15.6" dx="7">∘</tspan><tspan dy="15.6" dx="6">C)</tspan></text>
<text transform="translate(1330 730.8) rotate(-90)" font-family="DejaVu Sans, Liberation Sans, sans-serif" font-weight="bold" font-size="41.7" text-anchor="middle">Pressure (GPa)</text>
<text x="2480" y="234.2" font-family="DejaVu Sans, Liberation Sans, sans-serif" font-weight="bold" font-size="67.3" text-anchor="middle">B</text>
</svg>
</body></html>
